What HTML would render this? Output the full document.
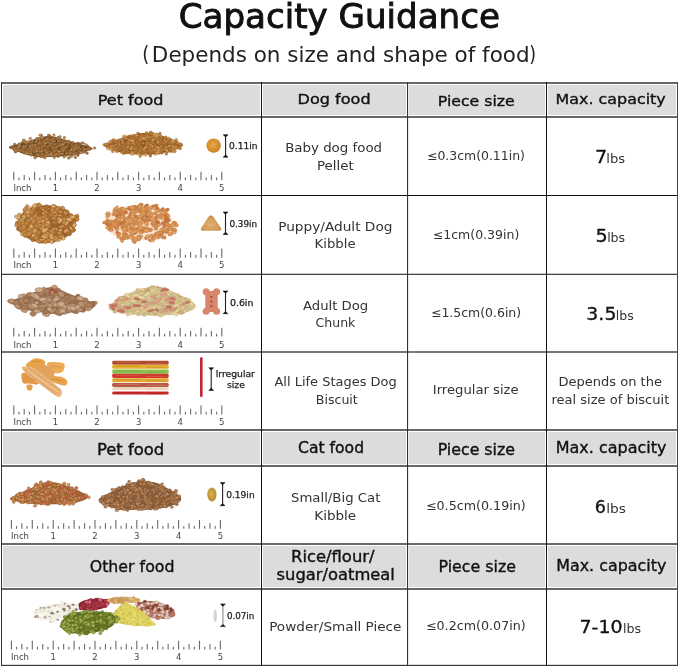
<!DOCTYPE html>
<html><head><meta charset="utf-8"><title>Capacity Guidance</title>
<style>html,body{margin:0;padding:0;background:#fff;width:679px;height:667px;overflow:hidden}svg{display:block}</style>
</head><body>
<svg width="679" height="667" viewBox="0 0 679 667" font-family="'DejaVu Sans', 'Liberation Sans', sans-serif"><rect x="3" y="85" width="257" height="30" fill="#dcdcdc"/>
<rect x="263" y="85" width="143" height="30" fill="#dcdcdc"/>
<rect x="409" y="85" width="136" height="30" fill="#dcdcdc"/>
<rect x="548" y="85" width="128" height="30" fill="#dcdcdc"/>
<rect x="3" y="432" width="257" height="32" fill="#dcdcdc"/>
<rect x="263" y="432" width="143" height="32" fill="#dcdcdc"/>
<rect x="409" y="432" width="136" height="32" fill="#dcdcdc"/>
<rect x="548" y="432" width="128" height="32" fill="#dcdcdc"/>
<rect x="3" y="546" width="257" height="41" fill="#dcdcdc"/>
<rect x="263" y="546" width="143" height="41" fill="#dcdcdc"/>
<rect x="409" y="546" width="136" height="41" fill="#dcdcdc"/>
<rect x="548" y="546" width="128" height="41" fill="#dcdcdc"/>
<rect x="408" y="82" width="1" height="584" fill="#e8e8e8"/>
<rect x="1" y="82" width="677" height="2" fill="#686868"/>
<rect x="1" y="116" width="677" height="2" fill="#686868"/>
<rect x="1" y="429" width="677" height="2" fill="#686868"/>
<rect x="1" y="465" width="677" height="2" fill="#686868"/>
<rect x="1" y="543" width="677" height="2" fill="#686868"/>
<rect x="1" y="588" width="677" height="2" fill="#686868"/>
<rect x="1" y="195" width="677" height="1" fill="#111"/>
<rect x="1" y="273" width="677" height="1" fill="#c8c8c8"/>
<rect x="1" y="274" width="677" height="1" fill="#444"/>
<rect x="1" y="351" width="677" height="2" fill="#777"/>
<rect x="1" y="664" width="677" height="1" fill="#d8d8d8"/>
<rect x="1" y="665" width="677" height="1" fill="#3a3a3a"/>
<rect x="1" y="82" width="1" height="584" fill="#333"/>
<rect x="261" y="82" width="1" height="584" fill="#111"/>
<rect x="407" y="82" width="1" height="584" fill="#333"/>
<rect x="546" y="82" width="1" height="584" fill="#151515"/>
<rect x="677" y="82" width="1" height="584" fill="#444"/>
<text x="178.68" y="27.90" font-size="33.6" fill="#111" stroke="#111" stroke-width="0.9" textLength="321.30" lengthAdjust="spacingAndGlyphs">Capacity Guidance</text>
<text x="142.23" y="61.30" font-size="21" fill="#222" textLength="7.10" lengthAdjust="spacingAndGlyphs">(</text>
<text x="151.85" y="61.60" font-size="21" fill="#222" textLength="377.71" lengthAdjust="spacingAndGlyphs">Depends on size and shape of food</text>
<text x="529.17" y="61.30" font-size="21" fill="#222" textLength="6.83" lengthAdjust="spacingAndGlyphs">)</text>
<text x="97.72" y="105.30" font-size="14.8" fill="#111" stroke="#111" stroke-width="0.35" textLength="65.71" lengthAdjust="spacingAndGlyphs">Pet food</text>
<text x="297.51" y="103.60" font-size="14.8" fill="#111" stroke="#111" stroke-width="0.35" textLength="73.11" lengthAdjust="spacingAndGlyphs">Dog food</text>
<text x="437.74" y="105.60" font-size="14.8" fill="#111" stroke="#111" stroke-width="0.35" textLength="77.07" lengthAdjust="spacingAndGlyphs">Piece size</text>
<text x="555.52" y="104.00" font-size="14.8" fill="#111" stroke="#111" stroke-width="0.35" textLength="110.21" lengthAdjust="spacingAndGlyphs">Max. capacity</text>
<text x="96.91" y="454.60" font-size="15" fill="#111" stroke="#111" stroke-width="0.35" textLength="67.37" lengthAdjust="spacingAndGlyphs">Pet food</text>
<text x="298.10" y="452.60" font-size="15" fill="#111" stroke="#111" stroke-width="0.35" textLength="65.94" lengthAdjust="spacingAndGlyphs">Cat food</text>
<text x="437.65" y="454.70" font-size="15" fill="#111" stroke="#111" stroke-width="0.35" textLength="77.39" lengthAdjust="spacingAndGlyphs">Piece size</text>
<text x="555.73" y="452.90" font-size="15" fill="#111" stroke="#111" stroke-width="0.35" textLength="110.84" lengthAdjust="spacingAndGlyphs">Max. capacity</text>
<text x="89.70" y="571.70" font-size="15.5" fill="#111" stroke="#111" stroke-width="0.35" textLength="84.86" lengthAdjust="spacingAndGlyphs">Other food</text>
<text x="291.02" y="561.90" font-size="15.2" fill="#111" stroke="#111" stroke-width="0.35" textLength="83.53" lengthAdjust="spacingAndGlyphs">Rice/flour/</text>
<text x="276.60" y="579.60" font-size="15.2" fill="#111" stroke="#111" stroke-width="0.35" textLength="118.31" lengthAdjust="spacingAndGlyphs">sugar/oatmeal</text>
<text x="438.48" y="571.80" font-size="15.5" fill="#111" stroke="#111" stroke-width="0.35" textLength="77.57" lengthAdjust="spacingAndGlyphs">Piece size</text>
<text x="556.17" y="570.50" font-size="15.5" fill="#111" stroke="#111" stroke-width="0.35" textLength="110.20" lengthAdjust="spacingAndGlyphs">Max. capacity</text>
<text x="285.17" y="151.70" font-size="13" fill="#333" textLength="96.89" lengthAdjust="spacingAndGlyphs">Baby dog food</text>
<text x="316.97" y="170.30" font-size="13" fill="#333" textLength="36.83" lengthAdjust="spacingAndGlyphs">Pellet</text>
<text x="278.15" y="230.70" font-size="13" fill="#333" textLength="114.32" lengthAdjust="spacingAndGlyphs">Puppy/Adult Dog</text>
<text x="314.58" y="248.30" font-size="13" fill="#333" textLength="41.02" lengthAdjust="spacingAndGlyphs">Kibble</text>
<text x="303.00" y="309.50" font-size="13" fill="#333" textLength="65.26" lengthAdjust="spacingAndGlyphs">Adult Dog</text>
<text x="315.60" y="327.40" font-size="13" fill="#333" textLength="39.75" lengthAdjust="spacingAndGlyphs">Chunk</text>
<text x="274.50" y="386.00" font-size="13" fill="#333" textLength="122.15" lengthAdjust="spacingAndGlyphs">All Life Stages Dog</text>
<text x="315.83" y="404.10" font-size="13" fill="#333" textLength="41.96" lengthAdjust="spacingAndGlyphs">Biscuit</text>
<text x="291.00" y="501.90" font-size="13" fill="#333" textLength="89.40" lengthAdjust="spacingAndGlyphs">Small/Big Cat</text>
<text x="314.26" y="519.80" font-size="13" fill="#333" textLength="41.94" lengthAdjust="spacingAndGlyphs">Kibble</text>
<text x="269.15" y="631.20" font-size="13" fill="#333" textLength="132.24" lengthAdjust="spacingAndGlyphs">Powder/Small Piece</text>
<text x="426.96" y="160.00" font-size="12" fill="#333" textLength="97.94" lengthAdjust="spacingAndGlyphs">≤0.3cm(0.11in)</text>
<text x="432.76" y="238.50" font-size="12" fill="#333" textLength="86.55" lengthAdjust="spacingAndGlyphs">≤1cm(0.39in)</text>
<text x="430.96" y="317.10" font-size="12" fill="#333" textLength="90.15" lengthAdjust="spacingAndGlyphs">≤1.5cm(0.6in)</text>
<text x="432.79" y="393.60" font-size="13" fill="#333" textLength="85.81" lengthAdjust="spacingAndGlyphs">Irregular size</text>
<text x="425.94" y="510.00" font-size="12" fill="#333" textLength="99.78" lengthAdjust="spacingAndGlyphs">≤0.5cm(0.19in)</text>
<text x="425.94" y="630.00" font-size="12" fill="#333" textLength="99.78" lengthAdjust="spacingAndGlyphs">≤0.2cm(0.07in)</text>
<text x="558.50" y="385.70" font-size="13" fill="#333" textLength="103.50" lengthAdjust="spacingAndGlyphs">Depends on the</text>
<text x="551.40" y="404.30" font-size="13" fill="#333" textLength="117.90" lengthAdjust="spacingAndGlyphs">real size of biscuit</text>
<text x="594.93" y="162.80" font-size="18" fill="#111" stroke="#111" stroke-width="0.3" textLength="12.22" lengthAdjust="spacingAndGlyphs">7</text>
<text x="606.39" y="162.80" font-size="13" fill="#333" textLength="18.78" lengthAdjust="spacingAndGlyphs">lbs</text>
<text x="595.63" y="242.00" font-size="18" fill="#111" stroke="#111" stroke-width="0.3" textLength="12.22" lengthAdjust="spacingAndGlyphs">5</text>
<text x="607.13" y="242.00" font-size="13" fill="#333" textLength="18.05" lengthAdjust="spacingAndGlyphs">lbs</text>
<text x="586.35" y="320.30" font-size="18" fill="#111" stroke="#111" stroke-width="0.3" textLength="30.08" lengthAdjust="spacingAndGlyphs">3.5</text>
<text x="615.74" y="320.30" font-size="13" fill="#333" textLength="17.94" lengthAdjust="spacingAndGlyphs">lbs</text>
<text x="594.72" y="512.50" font-size="18" fill="#111" stroke="#111" stroke-width="0.3" textLength="11.22" lengthAdjust="spacingAndGlyphs">6</text>
<text x="606.24" y="512.50" font-size="13" fill="#333" textLength="19.72" lengthAdjust="spacingAndGlyphs">lbs</text>
<text x="579.55" y="632.50" font-size="18" fill="#111" stroke="#111" stroke-width="0.3" textLength="43.03" lengthAdjust="spacingAndGlyphs">7-10</text>
<text x="622.93" y="632.50" font-size="13" fill="#333" textLength="18.15" lengthAdjust="spacingAndGlyphs">lbs</text>
<path d="M13.80 180.20V171.80M19.00 180.20V177.51M24.20 180.20V174.99M29.40 180.20V177.51M34.60 180.20V171.80M39.80 180.20V177.51M45.00 180.20V174.99M50.20 180.20V177.51M55.40 180.20V171.80M60.60 180.20V177.51M65.80 180.20V174.99M71.00 180.20V177.51M76.20 180.20V171.80M81.40 180.20V177.51M86.60 180.20V174.99M91.80 180.20V177.51M97.00 180.20V171.80M102.20 180.20V177.51M107.40 180.20V174.99M112.60 180.20V177.51M117.80 180.20V171.80M123.00 180.20V177.51M128.20 180.20V174.99M133.40 180.20V177.51M138.60 180.20V171.80M143.80 180.20V177.51M149.00 180.20V174.99M154.20 180.20V177.51M159.40 180.20V171.80M164.60 180.20V177.51M169.80 180.20V174.99M175.00 180.20V177.51M180.20 180.20V171.80M185.40 180.20V177.51M190.60 180.20V174.99M195.80 180.20V177.51M201.00 180.20V171.80M206.20 180.20V177.51M211.40 180.20V174.99M216.60 180.20V177.51M221.80 180.20V171.80" stroke="#6a6a6a" stroke-width="1.1" fill="none"/>
<text x="13.40" y="190.80" font-size="8.5" fill="#444" textLength="17.99" lengthAdjust="spacingAndGlyphs">Inch</text>
<text x="52.70" y="190.80" font-size="8.5" fill="#444">1</text>
<text x="94.30" y="190.80" font-size="8.5" fill="#444">2</text>
<text x="135.90" y="190.80" font-size="8.5" fill="#444">3</text>
<text x="177.50" y="190.80" font-size="8.5" fill="#444">4</text>
<text x="219.10" y="190.80" font-size="8.5" fill="#444">5</text>
<path d="M13.80 257.80V248.50M19.00 257.80V254.82M24.20 257.80V252.03M29.40 257.80V254.82M34.60 257.80V248.50M39.80 257.80V254.82M45.00 257.80V252.03M50.20 257.80V254.82M55.40 257.80V248.50M60.60 257.80V254.82M65.80 257.80V252.03M71.00 257.80V254.82M76.20 257.80V248.50M81.40 257.80V254.82M86.60 257.80V252.03M91.80 257.80V254.82M97.00 257.80V248.50M102.20 257.80V254.82M107.40 257.80V252.03M112.60 257.80V254.82M117.80 257.80V248.50M123.00 257.80V254.82M128.20 257.80V252.03M133.40 257.80V254.82M138.60 257.80V248.50M143.80 257.80V254.82M149.00 257.80V252.03M154.20 257.80V254.82M159.40 257.80V248.50M164.60 257.80V254.82M169.80 257.80V252.03M175.00 257.80V254.82M180.20 257.80V248.50M185.40 257.80V254.82M190.60 257.80V252.03M195.80 257.80V254.82M201.00 257.80V248.50M206.20 257.80V254.82M211.40 257.80V252.03M216.60 257.80V254.82M221.80 257.80V248.50" stroke="#6a6a6a" stroke-width="1.1" fill="none"/>
<text x="13.40" y="268.40" font-size="8.5" fill="#444" textLength="17.99" lengthAdjust="spacingAndGlyphs">Inch</text>
<text x="52.70" y="268.40" font-size="8.5" fill="#444">1</text>
<text x="94.30" y="268.40" font-size="8.5" fill="#444">2</text>
<text x="135.90" y="268.40" font-size="8.5" fill="#444">3</text>
<text x="177.50" y="268.40" font-size="8.5" fill="#444">4</text>
<text x="219.10" y="268.40" font-size="8.5" fill="#444">5</text>
<path d="M13.80 336.60V327.70M19.00 336.60V333.75M24.20 336.60V331.08M29.40 336.60V333.75M34.60 336.60V327.70M39.80 336.60V333.75M45.00 336.60V331.08M50.20 336.60V333.75M55.40 336.60V327.70M60.60 336.60V333.75M65.80 336.60V331.08M71.00 336.60V333.75M76.20 336.60V327.70M81.40 336.60V333.75M86.60 336.60V331.08M91.80 336.60V333.75M97.00 336.60V327.70M102.20 336.60V333.75M107.40 336.60V331.08M112.60 336.60V333.75M117.80 336.60V327.70M123.00 336.60V333.75M128.20 336.60V331.08M133.40 336.60V333.75M138.60 336.60V327.70M143.80 336.60V333.75M149.00 336.60V331.08M154.20 336.60V333.75M159.40 336.60V327.70M164.60 336.60V333.75M169.80 336.60V331.08M175.00 336.60V333.75M180.20 336.60V327.70M185.40 336.60V333.75M190.60 336.60V331.08M195.80 336.60V333.75M201.00 336.60V327.70M206.20 336.60V333.75M211.40 336.60V331.08M216.60 336.60V333.75M221.80 336.60V327.70" stroke="#6a6a6a" stroke-width="1.1" fill="none"/>
<text x="13.40" y="347.60" font-size="8.5" fill="#444" textLength="17.99" lengthAdjust="spacingAndGlyphs">Inch</text>
<text x="52.70" y="347.60" font-size="8.5" fill="#444">1</text>
<text x="94.30" y="347.60" font-size="8.5" fill="#444">2</text>
<text x="135.90" y="347.60" font-size="8.5" fill="#444">3</text>
<text x="177.50" y="347.60" font-size="8.5" fill="#444">4</text>
<text x="219.10" y="347.60" font-size="8.5" fill="#444">5</text>
<path d="M13.80 414.60V405.50M19.00 414.60V411.69M24.20 414.60V408.96M29.40 414.60V411.69M34.60 414.60V405.50M39.80 414.60V411.69M45.00 414.60V408.96M50.20 414.60V411.69M55.40 414.60V405.50M60.60 414.60V411.69M65.80 414.60V408.96M71.00 414.60V411.69M76.20 414.60V405.50M81.40 414.60V411.69M86.60 414.60V408.96M91.80 414.60V411.69M97.00 414.60V405.50M102.20 414.60V411.69M107.40 414.60V408.96M112.60 414.60V411.69M117.80 414.60V405.50M123.00 414.60V411.69M128.20 414.60V408.96M133.40 414.60V411.69M138.60 414.60V405.50M143.80 414.60V411.69M149.00 414.60V408.96M154.20 414.60V411.69M159.40 414.60V405.50M164.60 414.60V411.69M169.80 414.60V408.96M175.00 414.60V411.69M180.20 414.60V405.50M185.40 414.60V411.69M190.60 414.60V408.96M195.80 414.60V411.69M201.00 414.60V405.50M206.20 414.60V411.69M211.40 414.60V408.96M216.60 414.60V411.69M221.80 414.60V405.50" stroke="#6a6a6a" stroke-width="1.1" fill="none"/>
<text x="13.40" y="425.20" font-size="8.5" fill="#444" textLength="17.99" lengthAdjust="spacingAndGlyphs">Inch</text>
<text x="52.70" y="425.20" font-size="8.5" fill="#444">1</text>
<text x="94.30" y="425.20" font-size="8.5" fill="#444">2</text>
<text x="135.90" y="425.20" font-size="8.5" fill="#444">3</text>
<text x="177.50" y="425.20" font-size="8.5" fill="#444">4</text>
<text x="219.10" y="425.20" font-size="8.5" fill="#444">5</text>
<path d="M11.40 528.70V519.90M16.62 528.70V525.88M21.85 528.70V523.24M27.07 528.70V525.88M32.30 528.70V519.90M37.52 528.70V525.88M42.75 528.70V523.24M47.97 528.70V525.88M53.20 528.70V519.90M58.42 528.70V525.88M63.65 528.70V523.24M68.88 528.70V525.88M74.10 528.70V519.90M79.33 528.70V525.88M84.55 528.70V523.24M89.78 528.70V525.88M95.00 528.70V519.90M100.22 528.70V525.88M105.45 528.70V523.24M110.67 528.70V525.88M115.90 528.70V519.90M121.12 528.70V525.88M126.35 528.70V523.24M131.57 528.70V525.88M136.80 528.70V519.90M142.03 528.70V525.88M147.25 528.70V523.24M152.47 528.70V525.88M157.70 528.70V519.90M162.92 528.70V525.88M168.15 528.70V523.24M173.38 528.70V525.88M178.60 528.70V519.90M183.82 528.70V525.88M189.05 528.70V523.24M194.28 528.70V525.88M199.50 528.70V519.90M204.72 528.70V525.88M209.95 528.70V523.24M215.17 528.70V525.88M220.40 528.70V519.90" stroke="#6a6a6a" stroke-width="1.1" fill="none"/>
<text x="11.00" y="538.90" font-size="8.5" fill="#444" textLength="17.99" lengthAdjust="spacingAndGlyphs">Inch</text>
<text x="50.50" y="538.90" font-size="8.5" fill="#444">1</text>
<text x="92.30" y="538.90" font-size="8.5" fill="#444">2</text>
<text x="134.10" y="538.90" font-size="8.5" fill="#444">3</text>
<text x="175.90" y="538.90" font-size="8.5" fill="#444">4</text>
<text x="217.70" y="538.90" font-size="8.5" fill="#444">5</text>
<path d="M11.40 649.60V640.70M16.62 649.60V646.75M21.85 649.60V644.08M27.07 649.60V646.75M32.30 649.60V640.70M37.52 649.60V646.75M42.75 649.60V644.08M47.97 649.60V646.75M53.20 649.60V640.70M58.42 649.60V646.75M63.65 649.60V644.08M68.88 649.60V646.75M74.10 649.60V640.70M79.33 649.60V646.75M84.55 649.60V644.08M89.78 649.60V646.75M95.00 649.60V640.70M100.22 649.60V646.75M105.45 649.60V644.08M110.67 649.60V646.75M115.90 649.60V640.70M121.12 649.60V646.75M126.35 649.60V644.08M131.57 649.60V646.75M136.80 649.60V640.70M142.03 649.60V646.75M147.25 649.60V644.08M152.47 649.60V646.75M157.70 649.60V640.70M162.92 649.60V646.75M168.15 649.60V644.08M173.38 649.60V646.75M178.60 649.60V640.70M183.82 649.60V646.75M189.05 649.60V644.08M194.28 649.60V646.75M199.50 649.60V640.70M204.72 649.60V646.75M209.95 649.60V644.08M215.17 649.60V646.75M220.40 649.60V640.70" stroke="#6a6a6a" stroke-width="1.1" fill="none"/>
<text x="11.00" y="660.20" font-size="8.5" fill="#444" textLength="17.99" lengthAdjust="spacingAndGlyphs">Inch</text>
<text x="50.50" y="660.20" font-size="8.5" fill="#444">1</text>
<text x="92.30" y="660.20" font-size="8.5" fill="#444">2</text>
<text x="134.10" y="660.20" font-size="8.5" fill="#444">3</text>
<text x="175.90" y="660.20" font-size="8.5" fill="#444">4</text>
<text x="217.70" y="660.20" font-size="8.5" fill="#444">5</text>
<path d="M225.60 135.70V156.20" stroke="#222" stroke-width="1.1"/>
<path d="M223.20 134.70H228.00L225.60 136.90Z M223.20 157.20H228.00L225.60 155.00Z" fill="#111" stroke="#111" stroke-width="0.6"/>
<text x="229.00" y="149.00" font-size="8.6" fill="#222" stroke="#222" stroke-width="0.25" textLength="28.57" lengthAdjust="spacingAndGlyphs">0.11in</text>
<path d="M225.50 213.00V233.50" stroke="#222" stroke-width="1.1"/>
<path d="M223.10 212.00H227.90L225.50 214.20Z M223.10 234.50H227.90L225.50 232.30Z" fill="#111" stroke="#111" stroke-width="0.6"/>
<text x="229.40" y="226.70" font-size="8.6" fill="#222" stroke="#222" stroke-width="0.25" textLength="27.66" lengthAdjust="spacingAndGlyphs">0.39in</text>
<path d="M225.50 292.00V312.70" stroke="#222" stroke-width="1.1"/>
<path d="M223.10 291.00H227.90L225.50 293.20Z M223.10 313.70H227.90L225.50 311.50Z" fill="#111" stroke="#111" stroke-width="0.6"/>
<text x="229.90" y="305.60" font-size="8.6" fill="#222" stroke="#222" stroke-width="0.25" textLength="23.59" lengthAdjust="spacingAndGlyphs">0.6in</text>
<path d="M211.20 368.80V389.40" stroke="#222" stroke-width="1.1"/>
<path d="M208.80 367.80H213.60L211.20 370.00Z M208.80 390.40H213.60L211.20 388.20Z" fill="#111" stroke="#111" stroke-width="0.6"/>
<text x="215.80" y="377.20" font-size="8.6" fill="#222" stroke="#222" stroke-width="0.25" textLength="39.10" lengthAdjust="spacingAndGlyphs">lrregular</text>
<text x="227.00" y="388.00" font-size="8.6" fill="#222" stroke="#222" stroke-width="0.25" textLength="17.81" lengthAdjust="spacingAndGlyphs">size</text>
<path d="M222.60 483.60V504.70" stroke="#222" stroke-width="1.1"/>
<path d="M220.20 482.60H225.00L222.60 484.80Z M220.20 505.70H225.00L222.60 503.50Z" fill="#111" stroke="#111" stroke-width="0.6"/>
<text x="226.20" y="497.60" font-size="8.6" fill="#222" stroke="#222" stroke-width="0.25" textLength="28.47" lengthAdjust="spacingAndGlyphs">0.19in</text>
<path d="M222.90 605.00V625.60" stroke="#888" stroke-width="1.1"/>
<path d="M220.50 604.00H225.30L222.90 606.20Z M220.50 626.60H225.30L222.90 624.40Z" fill="#111" stroke="#111" stroke-width="0.6"/>
<text x="226.90" y="619.00" font-size="8.6" fill="#222" stroke="#222" stroke-width="0.25" textLength="27.45" lengthAdjust="spacingAndGlyphs">0.07in</text>
<defs><radialGradient id="pel" cx="0.45" cy="0.45" r="0.6"><stop offset="0" stop-color="#e8aa4a"/><stop offset="0.7" stop-color="#d48e2e"/><stop offset="1" stop-color="#b87420"/></radialGradient><radialGradient id="tri" cx="0.5" cy="0.6" r="0.6"><stop offset="0" stop-color="#e0b070"/><stop offset="0.8" stop-color="#d09a58"/><stop offset="1" stop-color="#b88048"/></radialGradient><radialGradient id="ov" cx="0.45" cy="0.45" r="0.6"><stop offset="0" stop-color="#d8b050"/><stop offset="1" stop-color="#b08a30"/></radialGradient></defs>
<g transform="matrix(0.9750 0 0 0.8524 -0.06 21.80)"><path d="M9.5 147.0C10.5 145.8 16.2 144.3 20.0 143.0C23.8 141.7 28.0 140.3 32.0 139.0C36.0 137.7 40.8 135.8 44.0 135.0C47.2 134.2 48.3 133.8 51.0 134.0C53.7 134.2 56.5 135.0 60.0 136.0C63.5 137.0 68.0 138.7 72.0 140.0C76.0 141.3 80.2 142.6 84.0 144.0C87.8 145.4 94.3 147.2 95.0 148.5C95.7 149.8 90.8 150.8 88.0 152.0C85.2 153.2 82.7 155.0 78.0 156.0C73.3 157.0 66.3 157.6 60.0 158.0C53.7 158.4 45.8 159.0 40.0 158.5C34.2 158.0 29.3 156.4 25.0 155.0C20.7 153.6 16.6 151.3 14.0 150.0C11.4 148.7 8.5 148.2 9.5 147.0Z" fill="#6e4a26"/>
<g fill="#a87440" stroke="#5e3e1e" stroke-width="0.3"><circle cx="81" cy="144.6" r="1.5"/><circle cx="28.2" cy="145.3" r="1.3"/><circle cx="45.1" cy="156.4" r="1.6"/><circle cx="54" cy="143.6" r="1.4"/><circle cx="77.7" cy="154" r="1.3"/><circle cx="57.8" cy="137.2" r="1.4"/><circle cx="75.2" cy="147" r="1.2"/><circle cx="56.6" cy="136.6" r="1.2"/><circle cx="40.7" cy="141.2" r="1.4"/><circle cx="60.5" cy="145" r="1.3"/><circle cx="26.5" cy="142.8" r="1.5"/><circle cx="15.7" cy="147.5" r="1.2"/><circle cx="23.6" cy="151.2" r="1.4"/><circle cx="46" cy="157.1" r="1.5"/><circle cx="53.5" cy="138" r="1.5"/><circle cx="54.3" cy="136.2" r="1.3"/><circle cx="92.4" cy="149.1" r="1.6"/><circle cx="19.7" cy="148.7" r="1.4"/><circle cx="58.3" cy="143.4" r="1.3"/><circle cx="59.5" cy="152" r="1.6"/><circle cx="17.9" cy="148.5" r="1.2"/><circle cx="37" cy="156.8" r="1.6"/><circle cx="80" cy="149.8" r="1.5"/><circle cx="71.2" cy="152.4" r="1.3"/><circle cx="67.8" cy="151.5" r="1.3"/><circle cx="63.5" cy="146.9" r="1.2"/><circle cx="55" cy="143.3" r="1.6"/><circle cx="45.9" cy="142.6" r="1.6"/><circle cx="25.7" cy="141.3" r="1.5"/><circle cx="43.9" cy="156.9" r="1.6"/><circle cx="56.5" cy="147.1" r="1.3"/><circle cx="72.3" cy="150.6" r="1.5"/><circle cx="24.8" cy="153.7" r="1.5"/><circle cx="32.4" cy="147.2" r="1.4"/><circle cx="44.4" cy="149.4" r="1.6"/><circle cx="32.5" cy="151.6" r="1.4"/><circle cx="49.8" cy="134.9" r="1.5"/><circle cx="45.6" cy="151.8" r="1.3"/><circle cx="41.7" cy="136.7" r="1.2"/><circle cx="13.3" cy="146.7" r="1.5"/><circle cx="31.1" cy="143.4" r="1.4"/><circle cx="43" cy="138.8" r="1.5"/><circle cx="41.4" cy="144.9" r="1.4"/><circle cx="79.1" cy="148.2" r="1.5"/><circle cx="47.7" cy="146.3" r="1.5"/><circle cx="45.8" cy="157.8" r="1.3"/><circle cx="52.8" cy="142" r="1.6"/><circle cx="62" cy="142.9" r="1.4"/><circle cx="31.7" cy="141.6" r="1.4"/><circle cx="70.8" cy="142.1" r="1.5"/><circle cx="45.4" cy="146.9" r="1.4"/><circle cx="53.6" cy="146.5" r="1.3"/><circle cx="72.1" cy="154.9" r="1.2"/><circle cx="19.7" cy="147.8" r="1.4"/><circle cx="38.7" cy="137" r="1.6"/><circle cx="37.5" cy="143.9" r="1.3"/><circle cx="23.6" cy="150.9" r="1.5"/><circle cx="40.6" cy="139.1" r="1.2"/><circle cx="47.6" cy="141.8" r="1.3"/><circle cx="85.3" cy="149.9" r="1.3"/><circle cx="42.6" cy="154.8" r="1.3"/><circle cx="24.5" cy="138.9" r="1.5"/><circle cx="89.4" cy="154.2" r="1.4"/><circle cx="80.2" cy="142.4" r="1.3"/><circle cx="85.7" cy="142.5" r="1.2"/><circle cx="77.4" cy="159.1" r="1.4"/></g>
<g fill="#b8824a" stroke="#5e3e1e" stroke-width="0.3"><circle cx="51.9" cy="145" r="1.5"/><circle cx="55.8" cy="157" r="1.4"/><circle cx="16.9" cy="150.3" r="1.2"/><circle cx="62.9" cy="142.4" r="1.2"/><circle cx="53" cy="143.3" r="1.3"/><circle cx="42" cy="158.3" r="1.3"/><circle cx="45.5" cy="136.8" r="1.3"/><circle cx="61.8" cy="153.8" r="1.2"/><circle cx="73.7" cy="142.8" r="1.4"/><circle cx="37.6" cy="146.5" r="1.5"/><circle cx="81.4" cy="152.3" r="1.5"/><circle cx="35.1" cy="147.2" r="1.2"/><circle cx="68.6" cy="148.2" r="1.4"/><circle cx="64.7" cy="143" r="1.4"/><circle cx="32.4" cy="156.4" r="1.6"/><circle cx="63.2" cy="148.8" r="1.5"/><circle cx="40" cy="144.3" r="1.2"/><circle cx="34.8" cy="150.5" r="1.5"/><circle cx="71.3" cy="152.1" r="1.5"/><circle cx="69.6" cy="145" r="1.5"/><circle cx="37.7" cy="139.4" r="1.6"/><circle cx="40.4" cy="152.4" r="1.3"/><circle cx="14.2" cy="148.6" r="1.6"/><circle cx="43.7" cy="146.1" r="1.4"/><circle cx="70.6" cy="142.1" r="1.4"/><circle cx="42.8" cy="149.5" r="1.6"/><circle cx="30.5" cy="148.4" r="1.5"/><circle cx="12.9" cy="147" r="1.4"/><circle cx="42.4" cy="151.9" r="1.3"/><circle cx="42.8" cy="141.9" r="1.4"/><circle cx="55" cy="138.1" r="1.3"/><circle cx="54.7" cy="137.3" r="1.5"/><circle cx="36.5" cy="146.1" r="1.3"/><circle cx="37.7" cy="137.4" r="1.3"/><circle cx="43.6" cy="156.9" r="1.5"/><circle cx="57.8" cy="147.1" r="1.4"/><circle cx="80.7" cy="143.9" r="1.6"/><circle cx="91" cy="147.2" r="1.2"/><circle cx="87.2" cy="150" r="1.5"/><circle cx="42.3" cy="154.4" r="1.3"/><circle cx="41.7" cy="146.3" r="1.5"/><circle cx="56" cy="140.1" r="1.4"/><circle cx="56.9" cy="151.1" r="1.5"/><circle cx="42.2" cy="150.7" r="1.4"/><circle cx="71" cy="143.7" r="1.5"/><circle cx="82.5" cy="149.5" r="1.3"/><circle cx="52.6" cy="143.7" r="1.6"/><circle cx="79.5" cy="143.4" r="1.6"/><circle cx="57.6" cy="150.2" r="1.4"/><circle cx="43.6" cy="146.1" r="1.5"/><circle cx="73.3" cy="154.7" r="1.5"/><circle cx="48.7" cy="154.4" r="1.3"/><circle cx="53.3" cy="153.3" r="1.5"/><circle cx="36.5" cy="156.7" r="1.5"/><circle cx="38.1" cy="157.6" r="1.5"/><circle cx="47.5" cy="151.1" r="1.6"/><circle cx="59.9" cy="153.3" r="1.5"/><circle cx="73.8" cy="149.6" r="1.2"/><circle cx="38.9" cy="148.4" r="1.4"/><circle cx="26.8" cy="152.3" r="1.2"/><circle cx="42.2" cy="150.6" r="1.2"/><circle cx="80.6" cy="146" r="1.3"/><circle cx="58" cy="155.4" r="1.5"/><circle cx="23.8" cy="149.8" r="1.3"/><circle cx="25.5" cy="147.1" r="1.6"/><circle cx="29.3" cy="141.1" r="1.4"/><circle cx="41" cy="155.8" r="1.3"/><circle cx="26.2" cy="153.7" r="1.3"/><circle cx="40.3" cy="148.9" r="1.5"/><circle cx="33.6" cy="140.3" r="1.3"/><circle cx="50.6" cy="151.1" r="1.2"/><circle cx="52.9" cy="141.6" r="1.5"/><circle cx="19.7" cy="143.3" r="1.5"/><circle cx="42.8" cy="156.4" r="1.5"/><circle cx="61.7" cy="139.5" r="1.5"/><circle cx="68.6" cy="154.2" r="1.6"/><circle cx="61.2" cy="153.1" r="1.5"/><circle cx="29.5" cy="154.2" r="1.3"/><circle cx="70.6" cy="159.7" r="1.6"/><circle cx="66.1" cy="135.8" r="1.4"/><circle cx="97" cy="148" r="1.4"/><circle cx="73.3" cy="157.9" r="1.4"/><circle cx="84.2" cy="142.1" r="1.3"/></g>
<g fill="#9a6838" stroke="#5e3e1e" stroke-width="0.3"><circle cx="52.9" cy="156.3" r="1.3"/><circle cx="44.9" cy="138.2" r="1.4"/><circle cx="65.6" cy="149.9" r="1.3"/><circle cx="52" cy="136.8" r="1.3"/><circle cx="78.2" cy="150.2" r="1.4"/><circle cx="43.9" cy="140.9" r="1.3"/><circle cx="74.4" cy="148.7" r="1.5"/><circle cx="16.1" cy="147.5" r="1.4"/><circle cx="48.6" cy="140.8" r="1.5"/><circle cx="31.2" cy="145.7" r="1.2"/><circle cx="66.1" cy="140.3" r="1.4"/><circle cx="25.5" cy="153.4" r="1.4"/><circle cx="18.6" cy="146.6" r="1.6"/><circle cx="89" cy="149.7" r="1.3"/><circle cx="38.3" cy="149" r="1.5"/><circle cx="36.2" cy="151" r="1.5"/><circle cx="91.6" cy="148" r="1.3"/><circle cx="70.9" cy="142.6" r="1.4"/><circle cx="80.9" cy="144" r="1.5"/><circle cx="51.6" cy="152.3" r="1.5"/><circle cx="77.8" cy="144.1" r="1.5"/><circle cx="87.6" cy="151.8" r="1.4"/><circle cx="41.9" cy="137.2" r="1.4"/><circle cx="79" cy="145.5" r="1.3"/><circle cx="11.6" cy="146.9" r="1.2"/><circle cx="31.8" cy="143.3" r="1.2"/><circle cx="69.5" cy="147.1" r="1.6"/><circle cx="79.2" cy="150" r="1.3"/><circle cx="52.3" cy="146.9" r="1.3"/><circle cx="76.6" cy="148" r="1.4"/><circle cx="21" cy="146.8" r="1.4"/><circle cx="76.5" cy="151.2" r="1.5"/><circle cx="41.1" cy="141.5" r="1.4"/><circle cx="41" cy="154.8" r="1.5"/><circle cx="71.6" cy="153.9" r="1.6"/><circle cx="55.7" cy="154.1" r="1.4"/><circle cx="81.9" cy="143.4" r="1.4"/><circle cx="79.1" cy="143" r="1.3"/><circle cx="62.8" cy="155.1" r="1.2"/><circle cx="27.8" cy="143" r="1.4"/><circle cx="68.9" cy="147.1" r="1.2"/><circle cx="57.7" cy="146.3" r="1.5"/><circle cx="28.7" cy="150.7" r="1.6"/><circle cx="11.2" cy="147.2" r="1.6"/><circle cx="50" cy="143.9" r="1.2"/><circle cx="28" cy="154.6" r="1.5"/><circle cx="88.8" cy="149.2" r="1.2"/><circle cx="62.2" cy="144.2" r="1.3"/><circle cx="47.2" cy="147.3" r="1.4"/><circle cx="22.7" cy="146.9" r="1.2"/><circle cx="51.9" cy="140.8" r="1.6"/><circle cx="19.2" cy="148.1" r="1.2"/><circle cx="38.3" cy="143" r="1.4"/><circle cx="53" cy="154.1" r="1.6"/><circle cx="14.9" cy="149.5" r="1.5"/><circle cx="44.9" cy="137.1" r="1.4"/><circle cx="59.7" cy="157.9" r="1.4"/><circle cx="42.3" cy="144.7" r="1.5"/><circle cx="70.5" cy="143.3" r="1.4"/><circle cx="73.1" cy="155.5" r="1.2"/><circle cx="47.5" cy="138.2" r="1.3"/><circle cx="36.7" cy="148.8" r="1.4"/><circle cx="78.8" cy="150.2" r="1.4"/><circle cx="83.9" cy="152.3" r="1.5"/><circle cx="26.6" cy="141.2" r="1.4"/><circle cx="54.6" cy="155.3" r="1.5"/><circle cx="85.2" cy="147" r="1.6"/><circle cx="74" cy="143.1" r="1.4"/><circle cx="36.5" cy="157.5" r="1.4"/><circle cx="16.3" cy="149" r="1.3"/><circle cx="65" cy="152" r="1.3"/><circle cx="82.9" cy="153.2" r="1.5"/><circle cx="70.3" cy="153.6" r="1.2"/><circle cx="59.2" cy="145.6" r="1.4"/><circle cx="16.9" cy="149.8" r="1.3"/><circle cx="57.3" cy="137.3" r="1.2"/><circle cx="66.3" cy="156.9" r="1.5"/><circle cx="38.4" cy="154.9" r="1.3"/><circle cx="37.5" cy="141.7" r="1.5"/><circle cx="19.4" cy="144.6" r="1.4"/><circle cx="53.9" cy="145.6" r="1.4"/><circle cx="62" cy="155" r="1.4"/><circle cx="74.5" cy="142" r="1.6"/><circle cx="42.4" cy="153" r="1.2"/><circle cx="22.9" cy="141.7" r="1.4"/><circle cx="60" cy="135.7" r="1.3"/><circle cx="80" cy="156.4" r="1.5"/><circle cx="51.1" cy="133.8" r="1.4"/><circle cx="42.4" cy="133.2" r="1.4"/><circle cx="89.7" cy="145.6" r="1.3"/></g>
<g fill="#c49258" stroke="#5e3e1e" stroke-width="0.3"><circle cx="37.9" cy="151.7" r="1.5"/><circle cx="43.1" cy="154.9" r="1.4"/><circle cx="78.7" cy="146.7" r="1.4"/><circle cx="40.7" cy="147.6" r="1.6"/><circle cx="46.4" cy="157.9" r="1.3"/><circle cx="60" cy="139.3" r="1.6"/><circle cx="58.5" cy="156" r="1.4"/><circle cx="18.4" cy="150.3" r="1.3"/><circle cx="78.9" cy="147.8" r="1.3"/><circle cx="38.9" cy="155.6" r="1.5"/><circle cx="38.6" cy="149.1" r="1.5"/><circle cx="76" cy="155.8" r="1.5"/><circle cx="65.2" cy="149.8" r="1.6"/><circle cx="56.5" cy="147.3" r="1.5"/><circle cx="24.2" cy="145.9" r="1.5"/><circle cx="31.7" cy="154.3" r="1.4"/><circle cx="51.1" cy="138.4" r="1.3"/><circle cx="51.8" cy="145.7" r="1.3"/><circle cx="51.8" cy="143.6" r="1.5"/><circle cx="47.6" cy="156.6" r="1.6"/><circle cx="26.6" cy="141.6" r="1.5"/><circle cx="76.5" cy="150.7" r="1.4"/><circle cx="63.3" cy="144" r="1.5"/><circle cx="52.9" cy="157.2" r="1.5"/><circle cx="86.4" cy="149.3" r="1.3"/><circle cx="48.8" cy="138" r="1.5"/><circle cx="70.9" cy="141.5" r="1.2"/><circle cx="33.8" cy="147.4" r="1.4"/><circle cx="77.7" cy="155" r="1.3"/><circle cx="73.2" cy="150.8" r="1.5"/><circle cx="86.1" cy="152.7" r="1.6"/><circle cx="59.4" cy="136.6" r="1.5"/><circle cx="50.5" cy="156.4" r="1.6"/><circle cx="57.6" cy="156.2" r="1.3"/><circle cx="51.7" cy="156" r="1.3"/><circle cx="67.3" cy="147.3" r="1.6"/><circle cx="53.8" cy="148.8" r="1.4"/><circle cx="45.8" cy="150.2" r="1.2"/><circle cx="63.9" cy="154.9" r="1.5"/><circle cx="48.5" cy="136.9" r="1.3"/><circle cx="45.5" cy="140.7" r="1.3"/><circle cx="27.9" cy="154.3" r="1.6"/><circle cx="31.2" cy="145.8" r="1.6"/><circle cx="65" cy="138.6" r="1.2"/><circle cx="76.7" cy="150.6" r="1.2"/><circle cx="20.1" cy="145" r="1.5"/><circle cx="29" cy="140.7" r="1.5"/><circle cx="55.1" cy="148.9" r="1.3"/><circle cx="32.6" cy="145.8" r="1.3"/><circle cx="17.3" cy="148.1" r="1.5"/><circle cx="40.7" cy="141.2" r="1.3"/><circle cx="41.9" cy="147.8" r="1.6"/><circle cx="67.6" cy="140.8" r="1.3"/><circle cx="19.2" cy="146.6" r="1.4"/><circle cx="76.6" cy="145.3" r="1.4"/><circle cx="65.2" cy="150.2" r="1.6"/><circle cx="24.5" cy="148.3" r="1.4"/><circle cx="65.4" cy="147.2" r="1.3"/><circle cx="70" cy="141.8" r="1.4"/><circle cx="78" cy="147.2" r="1.3"/><circle cx="70.7" cy="139.9" r="1.3"/><circle cx="22.6" cy="150.3" r="1.2"/><circle cx="67" cy="147.4" r="1.6"/><circle cx="34.4" cy="146.6" r="1.3"/><circle cx="52.5" cy="155" r="1.6"/><circle cx="64.7" cy="143.7" r="1.6"/><circle cx="83.5" cy="153.3" r="1.5"/><circle cx="48.7" cy="153.1" r="1.3"/><circle cx="88.6" cy="149.6" r="1.2"/><circle cx="54.7" cy="139.1" r="1.3"/><circle cx="68" cy="141.3" r="1.6"/><circle cx="65.9" cy="148.2" r="1.4"/><circle cx="80.2" cy="148.3" r="1.3"/><circle cx="57.7" cy="147.5" r="1.4"/><circle cx="60.8" cy="152.1" r="1.6"/><circle cx="31.4" cy="147.3" r="1.2"/><circle cx="73.6" cy="149.7" r="1.3"/><circle cx="46.9" cy="142.4" r="1.5"/><circle cx="76.6" cy="149" r="1.4"/><circle cx="43" cy="135.5" r="1.6"/><circle cx="61.2" cy="136.8" r="1.2"/><circle cx="36" cy="144.5" r="1.4"/><circle cx="60.8" cy="155.2" r="1.5"/><circle cx="56.7" cy="156.1" r="1.5"/><circle cx="61.2" cy="155.8" r="1.4"/><circle cx="74.3" cy="142.7" r="1.3"/><circle cx="14.6" cy="150" r="1.4"/><circle cx="54.8" cy="139.7" r="1.5"/><circle cx="62.4" cy="144.8" r="1.5"/><circle cx="42.7" cy="152.3" r="1.3"/><circle cx="37" cy="140.9" r="1.2"/><circle cx="36.8" cy="148.5" r="1.4"/><circle cx="40.2" cy="148.7" r="1.6"/><circle cx="55.7" cy="159.5" r="1.3"/><circle cx="65.8" cy="158.6" r="1.4"/><circle cx="61.6" cy="134.8" r="1.4"/><circle cx="31.1" cy="137" r="1.5"/><circle cx="35.9" cy="159.7" r="1.4"/><circle cx="24.9" cy="139.7" r="1.5"/><circle cx="46" cy="159.5" r="1.5"/><circle cx="41.3" cy="133" r="1.5"/><circle cx="55.5" cy="132.7" r="1.3"/><circle cx="88.3" cy="144.3" r="1.4"/></g>
<g fill="#b07a44" stroke="#5e3e1e" stroke-width="0.3"><circle cx="69" cy="140.5" r="1.5"/><circle cx="54.6" cy="152.7" r="1.6"/><circle cx="59.7" cy="155.6" r="1.5"/><circle cx="49.6" cy="141.6" r="1.5"/><circle cx="60.2" cy="143.6" r="1.3"/><circle cx="56.4" cy="143.9" r="1.3"/><circle cx="39.7" cy="156.3" r="1.5"/><circle cx="76.5" cy="154.1" r="1.6"/><circle cx="51" cy="142.7" r="1.3"/><circle cx="55.7" cy="153.3" r="1.3"/><circle cx="24.7" cy="148.3" r="1.5"/><circle cx="45.5" cy="138.6" r="1.2"/><circle cx="22" cy="151.6" r="1.3"/><circle cx="67.5" cy="147.3" r="1.3"/><circle cx="48" cy="146.8" r="1.2"/><circle cx="27.7" cy="150.5" r="1.5"/><circle cx="76.2" cy="151.5" r="1.4"/><circle cx="46.7" cy="157.6" r="1.5"/><circle cx="60.9" cy="145.2" r="1.3"/><circle cx="56.1" cy="151.7" r="1.5"/><circle cx="43.5" cy="156.3" r="1.4"/><circle cx="66" cy="140.8" r="1.4"/><circle cx="77.1" cy="153.8" r="1.6"/><circle cx="78.4" cy="144.7" r="1.5"/><circle cx="42.2" cy="147.6" r="1.6"/><circle cx="42.8" cy="144.4" r="1.4"/><circle cx="76.4" cy="154.7" r="1.5"/><circle cx="50.9" cy="145.4" r="1.2"/><circle cx="63.9" cy="140.8" r="1.3"/><circle cx="80.5" cy="146.8" r="1.3"/><circle cx="34.9" cy="152" r="1.6"/><circle cx="32.6" cy="148.9" r="1.3"/><circle cx="43.7" cy="145.8" r="1.3"/><circle cx="72.1" cy="155.3" r="1.4"/><circle cx="67.9" cy="146.1" r="1.4"/><circle cx="47.3" cy="150.2" r="1.3"/><circle cx="39.4" cy="148.8" r="1.4"/><circle cx="56.3" cy="147.2" r="1.5"/><circle cx="45.8" cy="150.2" r="1.5"/><circle cx="52.5" cy="139" r="1.6"/><circle cx="54.3" cy="147.7" r="1.5"/><circle cx="36.8" cy="140.7" r="1.5"/><circle cx="89.8" cy="149.2" r="1.5"/><circle cx="81.2" cy="146.5" r="1.4"/><circle cx="44" cy="155.6" r="1.5"/><circle cx="58.4" cy="147.5" r="1.4"/><circle cx="35.3" cy="146.4" r="1.4"/><circle cx="42.5" cy="156.2" r="1.3"/><circle cx="31.5" cy="152.2" r="1.6"/><circle cx="34.2" cy="146.1" r="1.6"/><circle cx="24.6" cy="152.6" r="1.5"/><circle cx="85.4" cy="151.1" r="1.3"/><circle cx="63.6" cy="147.5" r="1.2"/><circle cx="40.5" cy="147.6" r="1.5"/><circle cx="35.8" cy="150.7" r="1.3"/><circle cx="32.6" cy="150.3" r="1.5"/><circle cx="78.9" cy="154.4" r="1.4"/><circle cx="52.9" cy="142.7" r="1.3"/><circle cx="47.2" cy="151.1" r="1.5"/><circle cx="86" cy="152.6" r="1.2"/><circle cx="63.7" cy="152" r="1.6"/><circle cx="66.1" cy="142.4" r="1.3"/><circle cx="53.6" cy="138.7" r="1.4"/><circle cx="19.7" cy="149.8" r="1.4"/><circle cx="33.3" cy="144.2" r="1.4"/><circle cx="58" cy="154.7" r="1.5"/><circle cx="28.7" cy="151.4" r="1.3"/><circle cx="32.4" cy="149.6" r="1.5"/><circle cx="73.9" cy="146" r="1.4"/><circle cx="91.3" cy="148.6" r="1.3"/><circle cx="42.4" cy="142.8" r="1.3"/><circle cx="49.6" cy="148.3" r="1.2"/><circle cx="43.4" cy="158.3" r="1.5"/><circle cx="73.5" cy="153.5" r="1.4"/><circle cx="42.9" cy="146.7" r="1.2"/><circle cx="59.3" cy="145.9" r="1.5"/><circle cx="40.4" cy="137.6" r="1.4"/><circle cx="74" cy="143.7" r="1.3"/><circle cx="23.5" cy="147.6" r="1.5"/><circle cx="26.2" cy="146.6" r="1.4"/><circle cx="61.1" cy="138.1" r="1.3"/><circle cx="35.3" cy="152.7" r="1.4"/><circle cx="76.4" cy="145.2" r="1.3"/><circle cx="20.5" cy="150.9" r="1.6"/><circle cx="64.6" cy="150.9" r="1.5"/><circle cx="46.8" cy="153.2" r="1.2"/><circle cx="74.9" cy="142" r="1.3"/><circle cx="15.9" cy="148" r="1.4"/><circle cx="40" cy="150" r="1.4"/><circle cx="39.6" cy="143.7" r="1.4"/><circle cx="57.6" cy="146.2" r="1.2"/><circle cx="71.4" cy="154.4" r="1.4"/><circle cx="71.6" cy="154.1" r="1.4"/><circle cx="40.6" cy="142.3" r="1.5"/><circle cx="51.4" cy="134.2" r="1.3"/><circle cx="37.7" cy="138.4" r="1.6"/><circle cx="48.7" cy="147.5" r="1.3"/><circle cx="47.4" cy="138.5" r="1.4"/><circle cx="49.3" cy="146.4" r="1.3"/><circle cx="45.9" cy="145.1" r="1.6"/><circle cx="70.8" cy="141.4" r="1.5"/><circle cx="51.3" cy="144.9" r="1.4"/><circle cx="67.4" cy="156.9" r="1.3"/><circle cx="60.3" cy="140" r="1.5"/><circle cx="15" cy="143.6" r="1.3"/><circle cx="16.1" cy="152.5" r="1.6"/><circle cx="49.7" cy="132.8" r="1.2"/><circle cx="16.3" cy="151.5" r="1.6"/></g></g>
<g transform="matrix(0.9901 0 0 0.8904 1.81 15.92)"><path d="M103.0 145.0C103.3 143.5 108.5 142.5 112.0 141.0C115.5 139.5 120.0 137.4 124.0 136.0C128.0 134.6 132.3 133.2 136.0 132.5C139.7 131.8 142.7 131.5 146.0 131.5C149.3 131.5 152.3 131.6 156.0 132.5C159.7 133.4 164.3 135.4 168.0 137.0C171.7 138.6 175.5 140.6 178.0 142.0C180.5 143.4 183.5 144.2 183.0 145.5C182.5 146.8 177.8 148.7 175.0 150.0C172.2 151.3 171.0 152.5 166.0 153.5C161.0 154.5 152.0 155.9 145.0 156.0C138.0 156.1 129.8 155.0 124.0 154.0C118.2 153.0 113.5 151.5 110.0 150.0C106.5 148.5 102.7 146.5 103.0 145.0Z" fill="#8e5a28"/>
<g fill="#cc8c42" stroke="#7a4e20" stroke-width="0.3"><circle cx="146.5" cy="142.4" r="1.3"/><circle cx="161.1" cy="153.7" r="1.3"/><circle cx="131.8" cy="137.6" r="1.2"/><circle cx="150.2" cy="151" r="1.3"/><circle cx="110.5" cy="148.3" r="1.5"/><circle cx="123.7" cy="146.3" r="1.4"/><circle cx="110.7" cy="147.1" r="1.4"/><circle cx="167.2" cy="140.5" r="1.4"/><circle cx="127.7" cy="152.9" r="1.4"/><circle cx="127.5" cy="152.1" r="1.5"/><circle cx="146.9" cy="148.5" r="1.5"/><circle cx="117.1" cy="144.9" r="1.5"/><circle cx="159.9" cy="153.1" r="1.5"/><circle cx="161.4" cy="146.4" r="1.6"/><circle cx="144.1" cy="135.8" r="1.5"/><circle cx="131" cy="153.7" r="1.4"/><circle cx="139.7" cy="153" r="1.4"/><circle cx="147.9" cy="144.3" r="1.2"/><circle cx="133.3" cy="140.4" r="1.3"/><circle cx="139.4" cy="141.6" r="1.4"/><circle cx="173.3" cy="142.6" r="1.4"/><circle cx="178" cy="148.2" r="1.6"/><circle cx="146.2" cy="137.5" r="1.4"/><circle cx="121.3" cy="148.7" r="1.5"/><circle cx="158.5" cy="154" r="1.5"/><circle cx="145.8" cy="151.7" r="1.2"/><circle cx="166.4" cy="147.8" r="1.5"/><circle cx="159.6" cy="141.3" r="1.4"/><circle cx="105.7" cy="144" r="1.3"/><circle cx="130.2" cy="154.1" r="1.4"/><circle cx="156.9" cy="138.7" r="1.6"/><circle cx="147" cy="134" r="1.5"/><circle cx="143" cy="138.4" r="1.5"/><circle cx="152.7" cy="132.2" r="1.3"/><circle cx="156.6" cy="147.9" r="1.4"/><circle cx="176.5" cy="142.4" r="1.2"/><circle cx="130.6" cy="138.9" r="1.3"/><circle cx="171.3" cy="140.1" r="1.3"/><circle cx="136.9" cy="149.7" r="1.3"/><circle cx="163.2" cy="139.8" r="1.3"/><circle cx="156.4" cy="136.6" r="1.5"/><circle cx="130.6" cy="136" r="1.6"/><circle cx="139.5" cy="139.2" r="1.2"/><circle cx="131.3" cy="137.4" r="1.4"/><circle cx="157.3" cy="136.9" r="1.5"/><circle cx="179.7" cy="144" r="1.5"/><circle cx="138.6" cy="148" r="1.6"/><circle cx="158" cy="139.6" r="1.5"/><circle cx="149.9" cy="154.3" r="1.6"/><circle cx="157.4" cy="135.8" r="1.6"/><circle cx="158.4" cy="136.6" r="1.4"/><circle cx="148.1" cy="146" r="1.5"/><circle cx="109.9" cy="148.2" r="1.2"/><circle cx="116.2" cy="148.4" r="1.5"/><circle cx="149.6" cy="132.3" r="1.5"/><circle cx="171.1" cy="144.2" r="1.2"/><circle cx="149.9" cy="154.9" r="1.5"/><circle cx="157.7" cy="141.3" r="1.3"/><circle cx="170.9" cy="149.9" r="1.5"/><circle cx="151.7" cy="140.1" r="1.3"/><circle cx="175.9" cy="142.9" r="1.5"/><circle cx="160.1" cy="138.7" r="1.6"/><circle cx="174.1" cy="145.9" r="1.2"/><circle cx="125.9" cy="144.5" r="1.5"/><circle cx="174.9" cy="140.4" r="1.4"/><circle cx="103.6" cy="144.8" r="1.6"/><circle cx="145.4" cy="148.2" r="1.4"/><circle cx="154" cy="134" r="1.2"/><circle cx="149.6" cy="154.4" r="1.4"/><circle cx="136.3" cy="141.3" r="1.5"/><circle cx="142.6" cy="139" r="1.3"/><circle cx="168.6" cy="149.3" r="1.3"/><circle cx="141.7" cy="149.4" r="1.3"/><circle cx="123" cy="138.2" r="1.2"/><circle cx="156.9" cy="140" r="1.3"/><circle cx="127.3" cy="141.5" r="1.4"/><circle cx="111.3" cy="149.9" r="1.4"/><circle cx="146.4" cy="131.3" r="1.5"/><circle cx="174.8" cy="152.3" r="1.4"/><circle cx="150.6" cy="130.8" r="1.6"/><circle cx="112.7" cy="139.9" r="1.2"/><circle cx="121.3" cy="153.2" r="1.5"/></g>
<g fill="#d89c52" stroke="#7a4e20" stroke-width="0.3"><circle cx="123.1" cy="136.7" r="1.2"/><circle cx="136.9" cy="153.2" r="1.3"/><circle cx="141.9" cy="136.9" r="1.3"/><circle cx="107.7" cy="147.5" r="1.3"/><circle cx="157.6" cy="153.9" r="1.5"/><circle cx="123.5" cy="151.4" r="1.3"/><circle cx="172" cy="148.8" r="1.4"/><circle cx="156.6" cy="137.7" r="1.3"/><circle cx="135.7" cy="134.2" r="1.5"/><circle cx="139.3" cy="144.6" r="1.4"/><circle cx="123.6" cy="153.4" r="1.4"/><circle cx="160.5" cy="151.3" r="1.4"/><circle cx="160.1" cy="153.8" r="1.2"/><circle cx="123.4" cy="146.8" r="1.5"/><circle cx="144.4" cy="154.1" r="1.4"/><circle cx="139.9" cy="134.8" r="1.5"/><circle cx="136.6" cy="137.6" r="1.3"/><circle cx="154.8" cy="146.5" r="1.5"/><circle cx="171.1" cy="142" r="1.5"/><circle cx="122.3" cy="143.3" r="1.4"/><circle cx="144.8" cy="148.2" r="1.6"/><circle cx="175.3" cy="149.1" r="1.4"/><circle cx="143.9" cy="151.9" r="1.3"/><circle cx="105.4" cy="145" r="1.3"/><circle cx="124" cy="149.2" r="1.4"/><circle cx="169.8" cy="146.2" r="1.2"/><circle cx="145" cy="154.1" r="1.3"/><circle cx="173.8" cy="148.2" r="1.3"/><circle cx="154.6" cy="143.6" r="1.5"/><circle cx="152.3" cy="141.1" r="1.4"/><circle cx="134.3" cy="143.1" r="1.4"/><circle cx="149.5" cy="148.8" r="1.5"/><circle cx="109.9" cy="147.9" r="1.4"/><circle cx="143.5" cy="150.4" r="1.4"/><circle cx="180.5" cy="145.4" r="1.6"/><circle cx="154.8" cy="135.5" r="1.4"/><circle cx="140.6" cy="136.1" r="1.4"/><circle cx="176.1" cy="145.1" r="1.3"/><circle cx="132.4" cy="140.4" r="1.3"/><circle cx="164.4" cy="149.6" r="1.5"/><circle cx="152.2" cy="150.9" r="1.3"/><circle cx="152.7" cy="142.7" r="1.5"/><circle cx="158.7" cy="142.8" r="1.2"/><circle cx="141.5" cy="138.7" r="1.2"/><circle cx="165.1" cy="148.1" r="1.6"/><circle cx="157" cy="133.3" r="1.6"/><circle cx="136.8" cy="148.4" r="1.5"/><circle cx="146.3" cy="144.3" r="1.3"/><circle cx="132.6" cy="134.1" r="1.3"/><circle cx="174.1" cy="143.9" r="1.6"/><circle cx="134.3" cy="150.2" r="1.3"/><circle cx="161.2" cy="150.9" r="1.6"/><circle cx="113.8" cy="148.5" r="1.3"/><circle cx="145.5" cy="135.2" r="1.2"/><circle cx="134" cy="153.6" r="1.5"/><circle cx="111.2" cy="145.8" r="1.2"/><circle cx="154.8" cy="147" r="1.4"/><circle cx="117.9" cy="146.3" r="1.6"/><circle cx="133.1" cy="143.2" r="1.4"/><circle cx="138.4" cy="143.8" r="1.3"/><circle cx="163.2" cy="149.7" r="1.3"/><circle cx="140.4" cy="147.3" r="1.4"/><circle cx="151.8" cy="135.5" r="1.4"/><circle cx="124.3" cy="151.6" r="1.6"/><circle cx="110.9" cy="142.8" r="1.5"/><circle cx="128.9" cy="146.2" r="1.4"/><circle cx="160.9" cy="135.9" r="1.5"/><circle cx="145.6" cy="147" r="1.6"/><circle cx="155.6" cy="150.6" r="1.4"/><circle cx="122.9" cy="147.6" r="1.4"/><circle cx="153.7" cy="132.7" r="1.2"/><circle cx="139.2" cy="143.9" r="1.3"/><circle cx="165.7" cy="141.3" r="1.6"/><circle cx="150.7" cy="144.2" r="1.3"/><circle cx="137.6" cy="144.8" r="1.5"/><circle cx="165.1" cy="139.1" r="1.4"/><circle cx="150.4" cy="138.9" r="1.4"/><circle cx="175.4" cy="140.8" r="1.5"/><circle cx="114.8" cy="145.1" r="1.3"/><circle cx="122.4" cy="141.5" r="1.4"/><circle cx="142.9" cy="143.1" r="1.2"/><circle cx="139.7" cy="150.8" r="1.4"/><circle cx="176.1" cy="144.5" r="1.3"/><circle cx="159.2" cy="134.3" r="1.2"/><circle cx="144.9" cy="138.5" r="1.3"/><circle cx="127.3" cy="143.5" r="1.6"/><circle cx="154.4" cy="152.2" r="1.6"/><circle cx="110.4" cy="146.6" r="1.5"/><circle cx="168.1" cy="139.1" r="1.5"/><circle cx="150.2" cy="138.1" r="1.6"/><circle cx="161.6" cy="149.3" r="1.5"/><circle cx="155.7" cy="133.4" r="1.6"/><circle cx="155.6" cy="137.4" r="1.5"/><circle cx="181.1" cy="144.1" r="1.4"/><circle cx="141.8" cy="155.8" r="1.2"/><circle cx="113" cy="139" r="1.4"/><circle cx="170.5" cy="152.4" r="1.2"/></g>
<g fill="#c48240" stroke="#7a4e20" stroke-width="0.3"><circle cx="169.8" cy="149.5" r="1.5"/><circle cx="167.3" cy="152.6" r="1.4"/><circle cx="132.3" cy="148.3" r="1.6"/><circle cx="136.8" cy="149.1" r="1.2"/><circle cx="165.5" cy="143.4" r="1.3"/><circle cx="151.8" cy="138.6" r="1.6"/><circle cx="165.2" cy="149.2" r="1.4"/><circle cx="126.7" cy="137.2" r="1.4"/><circle cx="149.9" cy="151.5" r="1.2"/><circle cx="157.5" cy="151.3" r="1.2"/><circle cx="134.2" cy="148.9" r="1.6"/><circle cx="159.4" cy="143.1" r="1.6"/><circle cx="134.2" cy="145.2" r="1.5"/><circle cx="114" cy="146.5" r="1.4"/><circle cx="163.4" cy="143.4" r="1.5"/><circle cx="107.3" cy="143.7" r="1.6"/><circle cx="154.9" cy="143.4" r="1.4"/><circle cx="129.8" cy="140.4" r="1.4"/><circle cx="118.2" cy="148.1" r="1.3"/><circle cx="124.5" cy="145" r="1.4"/><circle cx="162.4" cy="149.9" r="1.5"/><circle cx="145.6" cy="147.1" r="1.2"/><circle cx="134.6" cy="135.8" r="1.6"/><circle cx="138.3" cy="133.6" r="1.6"/><circle cx="159.6" cy="149.3" r="1.2"/><circle cx="134.4" cy="142.7" r="1.5"/><circle cx="130.3" cy="135" r="1.3"/><circle cx="124.8" cy="144.4" r="1.4"/><circle cx="140.1" cy="138.6" r="1.3"/><circle cx="126.8" cy="152.6" r="1.5"/><circle cx="118.4" cy="143" r="1.4"/><circle cx="118.8" cy="139.2" r="1.3"/><circle cx="160.7" cy="147" r="1.4"/><circle cx="151.7" cy="140" r="1.5"/><circle cx="143.7" cy="155.2" r="1.2"/><circle cx="106.6" cy="146" r="1.6"/><circle cx="180.8" cy="144.9" r="1.4"/><circle cx="152.3" cy="150.3" r="1.5"/><circle cx="159.7" cy="149.2" r="1.3"/><circle cx="175.9" cy="145.5" r="1.4"/><circle cx="128.8" cy="139.3" r="1.4"/><circle cx="148.5" cy="149.3" r="1.4"/><circle cx="121" cy="145.9" r="1.3"/><circle cx="124.8" cy="146.6" r="1.2"/><circle cx="146" cy="153.8" r="1.6"/><circle cx="131.2" cy="152.2" r="1.3"/><circle cx="148.7" cy="150.6" r="1.3"/><circle cx="114.6" cy="150.3" r="1.5"/><circle cx="134.5" cy="145.3" r="1.5"/><circle cx="137.7" cy="136.2" r="1.5"/><circle cx="139.5" cy="150" r="1.2"/><circle cx="148.9" cy="151.7" r="1.4"/><circle cx="165.6" cy="136.3" r="1.3"/><circle cx="161.6" cy="153.7" r="1.2"/><circle cx="160.3" cy="144.8" r="1.2"/><circle cx="148.2" cy="147.5" r="1.3"/><circle cx="141" cy="147.6" r="1.4"/><circle cx="137.6" cy="136.4" r="1.3"/><circle cx="138" cy="137.6" r="1.3"/><circle cx="160.1" cy="144.2" r="1.4"/><circle cx="168.4" cy="139.6" r="1.2"/><circle cx="142.2" cy="134.3" r="1.4"/><circle cx="144.3" cy="134.1" r="1.5"/><circle cx="125.5" cy="150.1" r="1.6"/><circle cx="174" cy="145" r="1.3"/><circle cx="151.5" cy="133.5" r="1.3"/><circle cx="133" cy="138.1" r="1.3"/><circle cx="117.7" cy="150.7" r="1.4"/><circle cx="154.2" cy="142.8" r="1.4"/><circle cx="105.2" cy="144.5" r="1.6"/><circle cx="139.3" cy="148.5" r="1.4"/><circle cx="118.5" cy="140.2" r="1.4"/><circle cx="176" cy="142.4" r="1.5"/><circle cx="138.8" cy="139.1" r="1.4"/><circle cx="173.2" cy="149.8" r="1.3"/><circle cx="165.5" cy="136.5" r="1.6"/><circle cx="126" cy="135.4" r="1.2"/><circle cx="135" cy="137.7" r="1.5"/><circle cx="139.5" cy="133.5" r="1.6"/><circle cx="131" cy="139.3" r="1.6"/><circle cx="154.1" cy="144.4" r="1.5"/><circle cx="168.4" cy="142.6" r="1.3"/><circle cx="164.4" cy="138.8" r="1.5"/><circle cx="175.2" cy="145.2" r="1.6"/><circle cx="166.8" cy="150.5" r="1.6"/><circle cx="169.8" cy="138.5" r="1.5"/><circle cx="150.3" cy="131.6" r="1.6"/><circle cx="150" cy="157.3" r="1.4"/><circle cx="139.7" cy="157.9" r="1.3"/><circle cx="112" cy="152.6" r="1.2"/><circle cx="176.3" cy="140.5" r="1.6"/><circle cx="180.2" cy="148.9" r="1.5"/><circle cx="166.2" cy="155.2" r="1.4"/></g>
<g fill="#e0a860" stroke="#7a4e20" stroke-width="0.3"><circle cx="172.7" cy="140.4" r="1.6"/><circle cx="157" cy="136" r="1.6"/><circle cx="169.5" cy="140.2" r="1.6"/><circle cx="131.1" cy="149.3" r="1.4"/><circle cx="173.1" cy="146.6" r="1.5"/><circle cx="153.2" cy="149.8" r="1.3"/><circle cx="164.3" cy="149.6" r="1.6"/><circle cx="166.3" cy="146.8" r="1.3"/><circle cx="125.3" cy="149.9" r="1.3"/><circle cx="132.8" cy="154.4" r="1.2"/><circle cx="118.4" cy="145.5" r="1.4"/><circle cx="112.8" cy="146.6" r="1.3"/><circle cx="133" cy="143.4" r="1.5"/><circle cx="165.6" cy="145.5" r="1.3"/><circle cx="124.9" cy="137.7" r="1.5"/><circle cx="145.6" cy="136.1" r="1.5"/><circle cx="152.1" cy="140" r="1.5"/><circle cx="148.1" cy="136.5" r="1.5"/><circle cx="127.3" cy="147.3" r="1.5"/><circle cx="153.3" cy="139" r="1.3"/><circle cx="131.7" cy="154" r="1.6"/><circle cx="169" cy="146.1" r="1.4"/><circle cx="154" cy="135.2" r="1.3"/><circle cx="150.8" cy="145.9" r="1.4"/><circle cx="156.6" cy="133.8" r="1.6"/><circle cx="152.3" cy="146.8" r="1.3"/><circle cx="166.8" cy="151.4" r="1.4"/><circle cx="158.5" cy="150.8" r="1.4"/><circle cx="152" cy="146.6" r="1.4"/><circle cx="148.9" cy="136.7" r="1.3"/><circle cx="161.6" cy="151.7" r="1.2"/><circle cx="132.2" cy="140.3" r="1.6"/><circle cx="145" cy="155.9" r="1.6"/><circle cx="115.1" cy="141.6" r="1.5"/><circle cx="131.3" cy="147" r="1.2"/><circle cx="111.8" cy="148.3" r="1.3"/><circle cx="112.4" cy="146.2" r="1.4"/><circle cx="110.2" cy="149.7" r="1.5"/><circle cx="156.2" cy="147.4" r="1.4"/><circle cx="155.1" cy="146.5" r="1.2"/><circle cx="129.2" cy="139.7" r="1.5"/><circle cx="150" cy="144" r="1.3"/><circle cx="161.1" cy="146.4" r="1.3"/><circle cx="148.7" cy="143.1" r="1.2"/><circle cx="117.1" cy="151.2" r="1.6"/><circle cx="175.8" cy="147.2" r="1.3"/><circle cx="136.4" cy="134.6" r="1.4"/><circle cx="171.9" cy="150" r="1.3"/><circle cx="143.2" cy="137.3" r="1.4"/><circle cx="148" cy="143.7" r="1.5"/><circle cx="155.2" cy="136" r="1.5"/><circle cx="156.4" cy="153.7" r="1.5"/><circle cx="139.1" cy="138.9" r="1.6"/><circle cx="125.1" cy="148.7" r="1.4"/><circle cx="123.3" cy="150.2" r="1.3"/><circle cx="157.8" cy="153.1" r="1.5"/><circle cx="145.3" cy="147.4" r="1.4"/><circle cx="151.9" cy="146.4" r="1.5"/><circle cx="130.4" cy="149.2" r="1.5"/><circle cx="139.2" cy="152.2" r="1.3"/><circle cx="136.7" cy="141.6" r="1.2"/><circle cx="137.2" cy="137.3" r="1.6"/><circle cx="153.9" cy="136.6" r="1.4"/><circle cx="121.3" cy="138.9" r="1.4"/><circle cx="178.2" cy="142.7" r="1.2"/><circle cx="154" cy="133.3" r="1.5"/><circle cx="137.7" cy="155.2" r="1.2"/><circle cx="118.6" cy="145.4" r="1.3"/><circle cx="157.9" cy="147.7" r="1.4"/><circle cx="135.1" cy="151.5" r="1.3"/><circle cx="158" cy="142.2" r="1.4"/><circle cx="168.6" cy="137.3" r="1.3"/><circle cx="137.6" cy="137.1" r="1.3"/><circle cx="154.6" cy="144.6" r="1.3"/><circle cx="138.1" cy="154.7" r="1.4"/><circle cx="170.9" cy="140.7" r="1.2"/><circle cx="150.4" cy="151.8" r="1.3"/><circle cx="124.6" cy="149.1" r="1.5"/><circle cx="136.3" cy="136.6" r="1.3"/><circle cx="109.5" cy="140.7" r="1.4"/><circle cx="132" cy="155.3" r="1.5"/><circle cx="172.6" cy="152.3" r="1.3"/><circle cx="123.3" cy="135" r="1.4"/><circle cx="107.2" cy="148.9" r="1.5"/><circle cx="113.8" cy="139.4" r="1.3"/><circle cx="115.9" cy="152.2" r="1.4"/><circle cx="176.2" cy="138.6" r="1.2"/><circle cx="155.2" cy="155.5" r="1.3"/></g>
<g fill="#b87838" stroke="#7a4e20" stroke-width="0.3"><circle cx="129" cy="134.8" r="1.4"/><circle cx="161.8" cy="153.7" r="1.5"/><circle cx="163.3" cy="149" r="1.4"/><circle cx="123" cy="138.3" r="1.4"/><circle cx="159.5" cy="143.9" r="1.4"/><circle cx="150" cy="139.1" r="1.3"/><circle cx="138.8" cy="152.9" r="1.3"/><circle cx="138.6" cy="137.6" r="1.4"/><circle cx="161.3" cy="142.1" r="1.4"/><circle cx="150.3" cy="153.1" r="1.6"/><circle cx="154" cy="142.9" r="1.6"/><circle cx="138.1" cy="144.3" r="1.2"/><circle cx="136.9" cy="139.6" r="1.3"/><circle cx="162.5" cy="145.9" r="1.3"/><circle cx="134.3" cy="144.5" r="1.5"/><circle cx="125.5" cy="149.1" r="1.4"/><circle cx="128.7" cy="145.6" r="1.2"/><circle cx="142.2" cy="152.8" r="1.4"/><circle cx="158.7" cy="144.8" r="1.2"/><circle cx="159.1" cy="138.3" r="1.6"/><circle cx="136.5" cy="137.9" r="1.5"/><circle cx="153.1" cy="143" r="1.5"/><circle cx="136.5" cy="151.9" r="1.2"/><circle cx="119.2" cy="148.7" r="1.5"/><circle cx="147.9" cy="137.9" r="1.3"/><circle cx="145" cy="153.2" r="1.4"/><circle cx="126.6" cy="150.2" r="1.5"/><circle cx="137.7" cy="147" r="1.3"/><circle cx="160.2" cy="152.6" r="1.2"/><circle cx="135.2" cy="153.8" r="1.2"/><circle cx="137.2" cy="142.8" r="1.3"/><circle cx="117.6" cy="151.5" r="1.6"/><circle cx="122.8" cy="148.9" r="1.3"/><circle cx="139.9" cy="147.8" r="1.4"/><circle cx="165.6" cy="144.4" r="1.4"/><circle cx="154.1" cy="145.6" r="1.3"/><circle cx="174.6" cy="144.7" r="1.5"/><circle cx="165" cy="143.9" r="1.6"/><circle cx="169.7" cy="139.7" r="1.6"/><circle cx="152.2" cy="148.7" r="1.2"/><circle cx="169.7" cy="149.2" r="1.3"/><circle cx="171.3" cy="151.3" r="1.4"/><circle cx="116.9" cy="151.2" r="1.3"/><circle cx="139.9" cy="141.9" r="1.5"/><circle cx="139.8" cy="133.7" r="1.5"/><circle cx="147.1" cy="146.3" r="1.3"/><circle cx="163.7" cy="143.2" r="1.6"/><circle cx="119.4" cy="149.2" r="1.5"/><circle cx="135.9" cy="137.3" r="1.6"/><circle cx="126" cy="153.7" r="1.4"/><circle cx="137" cy="147.3" r="1.2"/><circle cx="117.6" cy="146.1" r="1.3"/><circle cx="125.2" cy="143.6" r="1.2"/><circle cx="152.8" cy="152.9" r="1.4"/><circle cx="158.3" cy="137.4" r="1.4"/><circle cx="154.5" cy="152.7" r="1.2"/><circle cx="147.6" cy="138.8" r="1.6"/><circle cx="150.5" cy="141.7" r="1.3"/><circle cx="161.3" cy="136.7" r="1.4"/><circle cx="135.7" cy="141.9" r="1.4"/><circle cx="123.5" cy="143.5" r="1.4"/><circle cx="124.1" cy="145.4" r="1.4"/><circle cx="144.8" cy="134.1" r="1.4"/><circle cx="169" cy="142.1" r="1.4"/><circle cx="115.8" cy="140.6" r="1.5"/><circle cx="175" cy="145.3" r="1.3"/><circle cx="147.2" cy="139.9" r="1.4"/><circle cx="149.6" cy="146.9" r="1.5"/><circle cx="153.5" cy="136.8" r="1.3"/><circle cx="146.5" cy="151.9" r="1.2"/><circle cx="134.5" cy="152" r="1.4"/><circle cx="123.1" cy="147.7" r="1.5"/><circle cx="135.3" cy="146.2" r="1.3"/><circle cx="129.9" cy="143.9" r="1.6"/><circle cx="111.3" cy="142.9" r="1.2"/><circle cx="126.1" cy="143.1" r="1.2"/><circle cx="177.7" cy="145.1" r="1.3"/><circle cx="139" cy="143.5" r="1.2"/><circle cx="148.2" cy="144.3" r="1.4"/><circle cx="164.2" cy="147" r="1.2"/><circle cx="112.6" cy="147.3" r="1.2"/><circle cx="127.4" cy="138.2" r="1.6"/><circle cx="123.9" cy="152.9" r="1.3"/><circle cx="126.9" cy="152.9" r="1.4"/><circle cx="155.1" cy="145.3" r="1.5"/><circle cx="159.8" cy="132" r="1.4"/><circle cx="111.9" cy="140.2" r="1.5"/><circle cx="123.2" cy="154.6" r="1.4"/><circle cx="137.6" cy="131.8" r="1.4"/><circle cx="150.1" cy="155.5" r="1.4"/></g></g>
<circle cx="213.6" cy="145.6" r="7.2" fill="url(#pel)"/><g fill="#b87020" opacity="0.6"><circle cx="210" cy="143" r="0.7"/><circle cx="214" cy="141" r="0.6"/><circle cx="217" cy="146" r="0.7"/><circle cx="212" cy="149" r="0.6"/><circle cx="215.5" cy="150" r="0.5"/><circle cx="209.5" cy="147.5" r="0.5"/></g>
<g transform="matrix(0.8877 0 0 0.9395 4.55 14.70)"><path d="M15.0 226.0C14.7 223.2 15.7 218.8 17.0 216.0C18.3 213.2 20.3 210.8 23.0 209.0C25.7 207.2 29.3 206.0 33.0 205.0C36.7 204.0 40.8 203.0 45.0 202.8C49.2 202.6 53.8 203.0 58.0 204.0C62.2 205.0 66.4 206.8 70.0 209.0C73.6 211.2 78.0 214.2 79.5 217.0C81.0 219.8 79.9 223.2 79.0 226.0C78.1 228.8 76.8 231.7 74.0 234.0C71.2 236.3 66.8 238.5 62.0 240.0C57.2 241.5 50.3 243.0 45.0 243.0C39.7 243.0 34.3 241.7 30.0 240.0C25.7 238.3 21.5 235.3 19.0 233.0C16.5 230.7 15.3 228.8 15.0 226.0Z" fill="#9a6430"/>
<g fill="#d09450" stroke="#80501e" stroke-width="0.4"><ellipse cx="43.7" cy="240.4" rx="2.9" ry="2.4" transform="rotate(-1 43.7 240.4)"/><ellipse cx="52.7" cy="239.1" rx="2.6" ry="2" transform="rotate(25 52.7 239.1)"/><ellipse cx="39.9" cy="237.6" rx="3.2" ry="2.4" transform="rotate(-45 39.9 237.6)"/><ellipse cx="78.1" cy="223.7" rx="2.8" ry="1.9" transform="rotate(8 78.1 223.7)"/><ellipse cx="32" cy="234.4" rx="2.5" ry="1.7" transform="rotate(0 32 234.4)"/><ellipse cx="55.9" cy="214.5" rx="3" ry="1.9" transform="rotate(5 55.9 214.5)"/><ellipse cx="77.7" cy="224.5" rx="2.8" ry="1.8" transform="rotate(-22 77.7 224.5)"/><ellipse cx="37.7" cy="210.7" rx="3" ry="2.2" transform="rotate(-16 37.7 210.7)"/><ellipse cx="31" cy="227.6" rx="2.8" ry="1.8" transform="rotate(3 31 227.6)"/><ellipse cx="45.5" cy="234" rx="2.4" ry="1.7" transform="rotate(33 45.5 234)"/><ellipse cx="38.3" cy="210.5" rx="3.1" ry="1.7" transform="rotate(25 38.3 210.5)"/><ellipse cx="61.6" cy="234.8" rx="3.1" ry="1.7" transform="rotate(-33 61.6 234.8)"/><ellipse cx="56.1" cy="204.5" rx="2.6" ry="2.4" transform="rotate(11 56.1 204.5)"/><ellipse cx="52.7" cy="213.5" rx="3" ry="1.9" transform="rotate(15 52.7 213.5)"/><ellipse cx="72.5" cy="228.9" rx="2.6" ry="2.3" transform="rotate(4 72.5 228.9)"/><ellipse cx="46.2" cy="227" rx="3.1" ry="2" transform="rotate(28 46.2 227)"/><ellipse cx="23.7" cy="234.7" rx="2.9" ry="1.9" transform="rotate(-49 23.7 234.7)"/><ellipse cx="60.1" cy="211.7" rx="3.2" ry="2.2" transform="rotate(-32 60.1 211.7)"/><ellipse cx="63.8" cy="218.9" rx="2.5" ry="1.9" transform="rotate(-21 63.8 218.9)"/><ellipse cx="25.9" cy="222.5" rx="2.4" ry="1.6" transform="rotate(-12 25.9 222.5)"/><ellipse cx="18.3" cy="219" rx="2.4" ry="2.2" transform="rotate(16 18.3 219)"/><ellipse cx="55.1" cy="216.7" rx="2.9" ry="1.9" transform="rotate(15 55.1 216.7)"/><ellipse cx="43.1" cy="206.4" rx="3.2" ry="1.8" transform="rotate(19 43.1 206.4)"/><ellipse cx="37.3" cy="227" rx="3" ry="1.8" transform="rotate(18 37.3 227)"/><ellipse cx="43.6" cy="218.1" rx="3" ry="2" transform="rotate(-45 43.6 218.1)"/><ellipse cx="48.5" cy="212.8" rx="3" ry="2.1" transform="rotate(-48 48.5 212.8)"/><ellipse cx="55.6" cy="208.8" rx="2.5" ry="1.7" transform="rotate(-26 55.6 208.8)"/><ellipse cx="66.7" cy="219.6" rx="2.7" ry="2.1" transform="rotate(39 66.7 219.6)"/><ellipse cx="50.6" cy="214" rx="2.3" ry="1.5" transform="rotate(-3 50.6 214)"/><ellipse cx="63.6" cy="213.6" rx="2.6" ry="2.2" transform="rotate(-15 63.6 213.6)"/><ellipse cx="35.4" cy="227.3" rx="2.9" ry="2" transform="rotate(-41 35.4 227.3)"/><ellipse cx="23.5" cy="212.9" rx="3" ry="1.9" transform="rotate(37 23.5 212.9)"/><ellipse cx="58.5" cy="228.8" rx="2.7" ry="1.6" transform="rotate(1 58.5 228.8)"/><ellipse cx="78.1" cy="219.3" rx="2.5" ry="2.4" transform="rotate(48 78.1 219.3)"/><ellipse cx="48.2" cy="205" rx="3.3" ry="2.2" transform="rotate(44 48.2 205)"/><ellipse cx="28.5" cy="220.3" rx="3.1" ry="1.8" transform="rotate(17 28.5 220.3)"/><ellipse cx="27.2" cy="235.9" rx="2.4" ry="1.7" transform="rotate(15 27.2 235.9)"/><ellipse cx="39.8" cy="237" rx="2.6" ry="2" transform="rotate(22 39.8 237)"/><ellipse cx="26.4" cy="214.9" rx="2.5" ry="1.8" transform="rotate(-24 26.4 214.9)"/></g>
<g fill="#c08040" stroke="#80501e" stroke-width="0.4"><ellipse cx="49.9" cy="224.9" rx="2.8" ry="1.8" transform="rotate(-43 49.9 224.9)"/><ellipse cx="73.4" cy="225.7" rx="3.6" ry="1.9" transform="rotate(35 73.4 225.7)"/><ellipse cx="50.5" cy="239.9" rx="2.7" ry="1.9" transform="rotate(29 50.5 239.9)"/><ellipse cx="20" cy="226.9" rx="2.8" ry="1.5" transform="rotate(-40 20 226.9)"/><ellipse cx="35.3" cy="217.9" rx="2.8" ry="2.2" transform="rotate(-14 35.3 217.9)"/><ellipse cx="68.8" cy="220.4" rx="3.7" ry="1.8" transform="rotate(32 68.8 220.4)"/><ellipse cx="43" cy="241" rx="2.8" ry="1.9" transform="rotate(-30 43 241)"/><ellipse cx="48.5" cy="214.4" rx="3.2" ry="1.8" transform="rotate(24 48.5 214.4)"/><ellipse cx="26" cy="234.6" rx="2.9" ry="2.1" transform="rotate(-28 26 234.6)"/><ellipse cx="76.3" cy="219.6" rx="2" ry="1.7" transform="rotate(21 76.3 219.6)"/><ellipse cx="59.2" cy="209.1" rx="3.1" ry="2" transform="rotate(-30 59.2 209.1)"/><ellipse cx="48.4" cy="220.6" rx="3.4" ry="1.7" transform="rotate(-6 48.4 220.6)"/><ellipse cx="38.3" cy="215.7" rx="3.3" ry="2" transform="rotate(2 38.3 215.7)"/><ellipse cx="42" cy="230.8" rx="2.9" ry="2" transform="rotate(12 42 230.8)"/><ellipse cx="30.6" cy="210.4" rx="2.5" ry="2" transform="rotate(-26 30.6 210.4)"/><ellipse cx="56.8" cy="221.2" rx="3.3" ry="2.1" transform="rotate(13 56.8 221.2)"/><ellipse cx="21.9" cy="233.2" rx="2.5" ry="1.7" transform="rotate(-5 21.9 233.2)"/><ellipse cx="22.2" cy="214.2" rx="3.3" ry="1.7" transform="rotate(42 22.2 214.2)"/><ellipse cx="38.3" cy="219" rx="2.9" ry="1.9" transform="rotate(-24 38.3 219)"/><ellipse cx="18.5" cy="229.1" rx="3" ry="2.4" transform="rotate(15 18.5 229.1)"/><ellipse cx="36.6" cy="230.1" rx="3.8" ry="1.8" transform="rotate(38 36.6 230.1)"/><ellipse cx="39.9" cy="240.5" rx="2.7" ry="2.1" transform="rotate(45 39.9 240.5)"/><ellipse cx="65.9" cy="224.3" rx="2.7" ry="2" transform="rotate(-4 65.9 224.3)"/><ellipse cx="36.6" cy="220.1" rx="2.2" ry="1.6" transform="rotate(-12 36.6 220.1)"/><ellipse cx="35.8" cy="232.9" rx="3.1" ry="2" transform="rotate(-39 35.8 232.9)"/><ellipse cx="74.4" cy="214.5" rx="3.2" ry="2.3" transform="rotate(-36 74.4 214.5)"/><ellipse cx="34.3" cy="219.3" rx="2.7" ry="1.5" transform="rotate(12 34.3 219.3)"/><ellipse cx="30.6" cy="235.2" rx="2.8" ry="2" transform="rotate(-21 30.6 235.2)"/><ellipse cx="66.8" cy="221" rx="2.6" ry="1.9" transform="rotate(-38 66.8 221)"/><ellipse cx="32.3" cy="224.8" rx="2.3" ry="1.8" transform="rotate(45 32.3 224.8)"/><ellipse cx="69.7" cy="210" rx="3.2" ry="2.5" transform="rotate(8 69.7 210)"/><ellipse cx="52.5" cy="215.9" rx="2.8" ry="1.9" transform="rotate(30 52.5 215.9)"/><ellipse cx="44.2" cy="222" rx="3.4" ry="2.1" transform="rotate(-15 44.2 222)"/><ellipse cx="71.4" cy="226.3" rx="2.5" ry="1.5" transform="rotate(-5 71.4 226.3)"/><ellipse cx="38.5" cy="231.8" rx="2.6" ry="2.4" transform="rotate(-25 38.5 231.8)"/><ellipse cx="48.4" cy="239.1" rx="3.3" ry="1.8" transform="rotate(-18 48.4 239.1)"/><ellipse cx="70.3" cy="228.1" rx="2.7" ry="1.9" transform="rotate(50 70.3 228.1)"/><ellipse cx="44.5" cy="240.1" rx="2.7" ry="2" transform="rotate(-16 44.5 240.1)"/><ellipse cx="35.3" cy="233.1" rx="2.8" ry="1.9" transform="rotate(40 35.3 233.1)"/><ellipse cx="62.2" cy="211.1" rx="2.9" ry="2.2" transform="rotate(31 62.2 211.1)"/><ellipse cx="51.4" cy="212.7" rx="3" ry="1.8" transform="rotate(-0 51.4 212.7)"/><ellipse cx="80.7" cy="215.2" rx="3.4" ry="2.4" transform="rotate(-38 80.7 215.2)"/><ellipse cx="15" cy="222.5" rx="3.2" ry="2.4" transform="rotate(45 15 222.5)"/><ellipse cx="80.1" cy="216.6" rx="2.3" ry="1.7" transform="rotate(-7 80.1 216.6)"/><ellipse cx="81.5" cy="217.7" rx="2.6" ry="2.3" transform="rotate(-33 81.5 217.7)"/></g>
<g fill="#d8a060" stroke="#80501e" stroke-width="0.4"><ellipse cx="66.6" cy="219.3" rx="2.6" ry="1.5" transform="rotate(17 66.6 219.3)"/><ellipse cx="54.6" cy="204.6" rx="2.8" ry="2.4" transform="rotate(-18 54.6 204.6)"/><ellipse cx="32" cy="230.5" rx="2.9" ry="2.2" transform="rotate(-8 32 230.5)"/><ellipse cx="31.2" cy="221.1" rx="3.4" ry="2.2" transform="rotate(-47 31.2 221.1)"/><ellipse cx="23.5" cy="222.9" rx="3.1" ry="2.1" transform="rotate(-3 23.5 222.9)"/><ellipse cx="33.8" cy="234.7" rx="2.7" ry="1.5" transform="rotate(5 33.8 234.7)"/><ellipse cx="55.5" cy="237.5" rx="2.2" ry="1.8" transform="rotate(28 55.5 237.5)"/><ellipse cx="20.6" cy="223" rx="2.6" ry="1.6" transform="rotate(-8 20.6 223)"/><ellipse cx="19.6" cy="218.3" rx="3.1" ry="2" transform="rotate(29 19.6 218.3)"/><ellipse cx="29.5" cy="208" rx="2.8" ry="1.6" transform="rotate(35 29.5 208)"/><ellipse cx="39.1" cy="238.9" rx="2.8" ry="2.4" transform="rotate(-30 39.1 238.9)"/><ellipse cx="69.4" cy="229.9" rx="3.2" ry="2.2" transform="rotate(-33 69.4 229.9)"/><ellipse cx="44.3" cy="230.9" rx="3.8" ry="1.9" transform="rotate(14 44.3 230.9)"/><ellipse cx="35.3" cy="212.1" rx="2.8" ry="2" transform="rotate(48 35.3 212.1)"/><ellipse cx="55.1" cy="229.9" rx="2.9" ry="1.7" transform="rotate(-21 55.1 229.9)"/><ellipse cx="52.4" cy="230" rx="2.4" ry="1.5" transform="rotate(-11 52.4 230)"/><ellipse cx="34.1" cy="230" rx="3" ry="2.3" transform="rotate(-25 34.1 230)"/><ellipse cx="44.3" cy="207.2" rx="2.5" ry="2.2" transform="rotate(21 44.3 207.2)"/><ellipse cx="56.6" cy="228.9" rx="3.3" ry="2.2" transform="rotate(-24 56.6 228.9)"/><ellipse cx="50" cy="232.5" rx="2.6" ry="1.7" transform="rotate(2 50 232.5)"/><ellipse cx="49" cy="225.6" rx="2.5" ry="1.6" transform="rotate(-14 49 225.6)"/><ellipse cx="49.8" cy="240.2" rx="2.2" ry="2" transform="rotate(-8 49.8 240.2)"/><ellipse cx="30.6" cy="218.4" rx="2.5" ry="2" transform="rotate(-24 30.6 218.4)"/><ellipse cx="46.5" cy="225.4" rx="2.4" ry="1.5" transform="rotate(49 46.5 225.4)"/><ellipse cx="54.1" cy="240.9" rx="2.3" ry="1.6" transform="rotate(40 54.1 240.9)"/><ellipse cx="72.8" cy="232.3" rx="2.8" ry="2.1" transform="rotate(-2 72.8 232.3)"/><ellipse cx="48.3" cy="223.1" rx="3.1" ry="2" transform="rotate(14 48.3 223.1)"/><ellipse cx="44.9" cy="232.1" rx="2.1" ry="1.8" transform="rotate(-35 44.9 232.1)"/><ellipse cx="66.2" cy="217.1" rx="3.1" ry="2.5" transform="rotate(13 66.2 217.1)"/><ellipse cx="63.9" cy="234.5" rx="3.3" ry="2" transform="rotate(37 63.9 234.5)"/><ellipse cx="48.2" cy="217.7" rx="3.5" ry="2" transform="rotate(-42 48.2 217.7)"/><ellipse cx="21.6" cy="233.9" rx="2.9" ry="1.6" transform="rotate(-14 21.6 233.9)"/><ellipse cx="39.7" cy="236.1" rx="2.6" ry="1.6" transform="rotate(8 39.7 236.1)"/><ellipse cx="35.8" cy="223.2" rx="3.2" ry="1.8" transform="rotate(-49 35.8 223.2)"/><ellipse cx="68.9" cy="214.3" rx="3.2" ry="2" transform="rotate(34 68.9 214.3)"/><ellipse cx="26.8" cy="227" rx="2.9" ry="1.9" transform="rotate(-39 26.8 227)"/><ellipse cx="62" cy="212.8" rx="2.9" ry="2.2" transform="rotate(41 62 212.8)"/><ellipse cx="70.1" cy="218.2" rx="2.6" ry="2.1" transform="rotate(22 70.1 218.2)"/><ellipse cx="42.8" cy="237.7" rx="2.4" ry="1.9" transform="rotate(-18 42.8 237.7)"/><ellipse cx="42.2" cy="238.8" rx="3.7" ry="2.1" transform="rotate(-20 42.2 238.8)"/><ellipse cx="56.5" cy="238.2" rx="2.6" ry="1.7" transform="rotate(-40 56.5 238.2)"/><ellipse cx="23.6" cy="224.2" rx="3.1" ry="1.9" transform="rotate(43 23.6 224.2)"/><ellipse cx="30.3" cy="217.6" rx="2.9" ry="1.7" transform="rotate(43 30.3 217.6)"/><ellipse cx="31.2" cy="213.4" rx="2.7" ry="2" transform="rotate(21 31.2 213.4)"/><ellipse cx="29.3" cy="235.7" rx="3.3" ry="2.4" transform="rotate(38 29.3 235.7)"/><ellipse cx="16.7" cy="213" rx="2.5" ry="1.7" transform="rotate(-10 16.7 213)"/><ellipse cx="14.3" cy="223.7" rx="3.1" ry="1.9" transform="rotate(-22 14.3 223.7)"/></g>
<g fill="#b07030" stroke="#80501e" stroke-width="0.4"><ellipse cx="45.6" cy="226.2" rx="3.5" ry="1.8" transform="rotate(2 45.6 226.2)"/><ellipse cx="31.7" cy="212.2" rx="3" ry="2.2" transform="rotate(-27 31.7 212.2)"/><ellipse cx="30" cy="208.9" rx="2.6" ry="2.4" transform="rotate(24 30 208.9)"/><ellipse cx="68.1" cy="213.6" rx="3.1" ry="1.7" transform="rotate(1 68.1 213.6)"/><ellipse cx="68.8" cy="225.9" rx="2.5" ry="2.1" transform="rotate(-26 68.8 225.9)"/><ellipse cx="55" cy="240.6" rx="2.8" ry="1.9" transform="rotate(-18 55 240.6)"/><ellipse cx="55.9" cy="231.6" rx="3.4" ry="2.5" transform="rotate(-5 55.9 231.6)"/><ellipse cx="74.2" cy="227.3" rx="2.6" ry="1.9" transform="rotate(-36 74.2 227.3)"/><ellipse cx="20.5" cy="227.7" rx="3.1" ry="2" transform="rotate(13 20.5 227.7)"/><ellipse cx="66.8" cy="223.4" rx="2.2" ry="1.8" transform="rotate(27 66.8 223.4)"/><ellipse cx="39.1" cy="227.1" rx="2.9" ry="2.2" transform="rotate(-28 39.1 227.1)"/><ellipse cx="39" cy="222.7" rx="2.5" ry="2.3" transform="rotate(6 39 222.7)"/><ellipse cx="49.6" cy="230.7" rx="3.1" ry="1.5" transform="rotate(-50 49.6 230.7)"/><ellipse cx="61.2" cy="221.8" rx="2.2" ry="1.7" transform="rotate(-27 61.2 221.8)"/><ellipse cx="38.7" cy="218.7" rx="2.8" ry="1.8" transform="rotate(-2 38.7 218.7)"/><ellipse cx="77.3" cy="217.9" rx="2.2" ry="1.8" transform="rotate(-7 77.3 217.9)"/><ellipse cx="32" cy="239.5" rx="2.4" ry="1.9" transform="rotate(-33 32 239.5)"/><ellipse cx="35.6" cy="238.3" rx="2.7" ry="1.4" transform="rotate(23 35.6 238.3)"/><ellipse cx="75.7" cy="217.8" rx="3" ry="1.8" transform="rotate(14 75.7 217.8)"/><ellipse cx="64.6" cy="217" rx="2.9" ry="2.1" transform="rotate(14 64.6 217)"/><ellipse cx="43.9" cy="235.3" rx="2.8" ry="1.5" transform="rotate(-4 43.9 235.3)"/><ellipse cx="38.8" cy="214.6" rx="3.5" ry="2.1" transform="rotate(1 38.8 214.6)"/><ellipse cx="28.7" cy="235.5" rx="3.1" ry="1.8" transform="rotate(15 28.7 235.5)"/><ellipse cx="16.6" cy="227.7" rx="3.4" ry="2.2" transform="rotate(-9 16.6 227.7)"/><ellipse cx="41.3" cy="236.8" rx="3.5" ry="1.9" transform="rotate(-9 41.3 236.8)"/><ellipse cx="47.1" cy="230.9" rx="2.3" ry="1.8" transform="rotate(10 47.1 230.9)"/><ellipse cx="28.4" cy="222.5" rx="3" ry="1.6" transform="rotate(45 28.4 222.5)"/><ellipse cx="27.6" cy="211.2" rx="2.9" ry="1.8" transform="rotate(32 27.6 211.2)"/><ellipse cx="67.1" cy="214.5" rx="3.4" ry="2.4" transform="rotate(-35 67.1 214.5)"/><ellipse cx="73" cy="233.2" rx="2.4" ry="1.7" transform="rotate(37 73 233.2)"/><ellipse cx="18.6" cy="227.4" rx="2.3" ry="1.6" transform="rotate(18 18.6 227.4)"/><ellipse cx="54.5" cy="240.2" rx="2.4" ry="1.7" transform="rotate(22 54.5 240.2)"/><ellipse cx="38.7" cy="210.5" rx="3.2" ry="2.3" transform="rotate(-32 38.7 210.5)"/><ellipse cx="24.7" cy="223" rx="2.3" ry="1.7" transform="rotate(-10 24.7 223)"/><ellipse cx="27.7" cy="234.2" rx="2.4" ry="1.9" transform="rotate(38 27.7 234.2)"/><ellipse cx="46.4" cy="235.4" rx="2.7" ry="2" transform="rotate(-26 46.4 235.4)"/><ellipse cx="39" cy="209.3" rx="2.3" ry="1.6" transform="rotate(-37 39 209.3)"/><ellipse cx="46.3" cy="205.2" rx="3.5" ry="1.9" transform="rotate(-18 46.3 205.2)"/><ellipse cx="52.2" cy="208.4" rx="2.9" ry="1.8" transform="rotate(12 52.2 208.4)"/><ellipse cx="59.6" cy="220.1" rx="3.1" ry="2.6" transform="rotate(13 59.6 220.1)"/><ellipse cx="49.5" cy="218.2" rx="2.9" ry="1.9" transform="rotate(1 49.5 218.2)"/><ellipse cx="63.3" cy="234.2" rx="3.4" ry="1.9" transform="rotate(-8 63.3 234.2)"/><ellipse cx="49.7" cy="215.1" rx="2.8" ry="1.6" transform="rotate(50 49.7 215.1)"/><ellipse cx="52" cy="209.1" rx="2.8" ry="1.6" transform="rotate(-36 52 209.1)"/><ellipse cx="43.5" cy="230.2" rx="2.1" ry="1.9" transform="rotate(-19 43.5 230.2)"/><ellipse cx="42.8" cy="234.8" rx="3" ry="1.8" transform="rotate(34 42.8 234.8)"/><ellipse cx="68.7" cy="210.2" rx="3.1" ry="1.6" transform="rotate(45 68.7 210.2)"/><ellipse cx="52" cy="206.2" rx="2.8" ry="1.6" transform="rotate(48 52 206.2)"/><ellipse cx="62.6" cy="211" rx="2.8" ry="1.6" transform="rotate(-22 62.6 211)"/><ellipse cx="26.4" cy="223.7" rx="2.6" ry="2.2" transform="rotate(10 26.4 223.7)"/><ellipse cx="77.1" cy="229.6" rx="3.2" ry="2.2" transform="rotate(-24 77.1 229.6)"/></g>
<g fill="#e0b070" stroke="#80501e" stroke-width="0.4"><ellipse cx="30.3" cy="224.7" rx="2.8" ry="1.7" transform="rotate(44 30.3 224.7)"/><ellipse cx="62.8" cy="229.8" rx="2.8" ry="1.4" transform="rotate(-48 62.8 229.8)"/><ellipse cx="61.1" cy="239.8" rx="2.8" ry="1.6" transform="rotate(-16 61.1 239.8)"/><ellipse cx="43.1" cy="228" rx="2.8" ry="1.8" transform="rotate(15 43.1 228)"/><ellipse cx="58.3" cy="209.4" rx="3.4" ry="1.9" transform="rotate(-34 58.3 209.4)"/><ellipse cx="42.6" cy="219.5" rx="2.4" ry="1.9" transform="rotate(-7 42.6 219.5)"/><ellipse cx="72.8" cy="218" rx="3.1" ry="2.1" transform="rotate(10 72.8 218)"/><ellipse cx="26.4" cy="210.2" rx="3" ry="2.3" transform="rotate(10 26.4 210.2)"/><ellipse cx="20.2" cy="232.6" rx="2.6" ry="1.8" transform="rotate(-38 20.2 232.6)"/><ellipse cx="44.1" cy="211.8" rx="2.2" ry="1.6" transform="rotate(42 44.1 211.8)"/><ellipse cx="76.8" cy="215.5" rx="3.2" ry="1.8" transform="rotate(-8 76.8 215.5)"/><ellipse cx="16.3" cy="224.4" rx="2" ry="1.8" transform="rotate(32 16.3 224.4)"/><ellipse cx="22" cy="215.6" rx="3" ry="2" transform="rotate(-49 22 215.6)"/><ellipse cx="52.4" cy="234.9" rx="2.8" ry="2" transform="rotate(-19 52.4 234.9)"/><ellipse cx="21.4" cy="225" rx="2.7" ry="1.6" transform="rotate(11 21.4 225)"/><ellipse cx="41.8" cy="225.6" rx="3.1" ry="2.2" transform="rotate(-39 41.8 225.6)"/><ellipse cx="23.8" cy="233" rx="2.2" ry="2" transform="rotate(22 23.8 233)"/><ellipse cx="58.3" cy="237.2" rx="2.7" ry="1.9" transform="rotate(45 58.3 237.2)"/><ellipse cx="32.3" cy="235.1" rx="2.1" ry="2" transform="rotate(-6 32.3 235.1)"/><ellipse cx="45.2" cy="236.4" rx="3.6" ry="2" transform="rotate(13 45.2 236.4)"/><ellipse cx="52.7" cy="241.2" rx="2.8" ry="2.1" transform="rotate(42 52.7 241.2)"/><ellipse cx="60.5" cy="207.1" rx="2.4" ry="1.9" transform="rotate(-38 60.5 207.1)"/><ellipse cx="62.9" cy="235.6" rx="2.5" ry="2.4" transform="rotate(-43 62.9 235.6)"/><ellipse cx="54.2" cy="237.4" rx="3.5" ry="1.9" transform="rotate(-3 54.2 237.4)"/><ellipse cx="48.8" cy="221.3" rx="2.8" ry="1.7" transform="rotate(-4 48.8 221.3)"/><ellipse cx="59.8" cy="208.2" rx="2.8" ry="1.8" transform="rotate(-7 59.8 208.2)"/><ellipse cx="61.4" cy="217.6" rx="2.4" ry="1.8" transform="rotate(24 61.4 217.6)"/><ellipse cx="31.7" cy="217.7" rx="2.7" ry="2.4" transform="rotate(48 31.7 217.7)"/><ellipse cx="47.5" cy="228.4" rx="2.5" ry="2" transform="rotate(25 47.5 228.4)"/><ellipse cx="26.9" cy="219.4" rx="2.4" ry="2.1" transform="rotate(1 26.9 219.4)"/><ellipse cx="22.2" cy="214.4" rx="2.6" ry="1.6" transform="rotate(-11 22.2 214.4)"/><ellipse cx="55.1" cy="204.5" rx="2.7" ry="2.2" transform="rotate(-6 55.1 204.5)"/><ellipse cx="62.4" cy="219.8" rx="2.8" ry="2.1" transform="rotate(-41 62.4 219.8)"/><ellipse cx="46.2" cy="233.9" rx="2.5" ry="2" transform="rotate(-43 46.2 233.9)"/><ellipse cx="42.9" cy="216.4" rx="2.6" ry="1.5" transform="rotate(16 42.9 216.4)"/><ellipse cx="45.2" cy="229.6" rx="3.3" ry="2.5" transform="rotate(-17 45.2 229.6)"/><ellipse cx="26.8" cy="230.3" rx="3.8" ry="2.4" transform="rotate(-14 26.8 230.3)"/><ellipse cx="75.1" cy="227.4" rx="2.5" ry="1.4" transform="rotate(43 75.1 227.4)"/><ellipse cx="34" cy="218.2" rx="2.9" ry="2.1" transform="rotate(-12 34 218.2)"/><ellipse cx="69.6" cy="221.8" rx="3.2" ry="1.9" transform="rotate(-39 69.6 221.8)"/><ellipse cx="35.4" cy="236.6" rx="2.8" ry="1.6" transform="rotate(-6 35.4 236.6)"/><ellipse cx="48.9" cy="233.6" rx="3" ry="1.9" transform="rotate(-46 48.9 233.6)"/><ellipse cx="78.6" cy="224" rx="2.3" ry="1.8" transform="rotate(-45 78.6 224)"/><ellipse cx="18.3" cy="219.6" rx="3.3" ry="1.8" transform="rotate(-17 18.3 219.6)"/><ellipse cx="29.5" cy="208.4" rx="3" ry="1.6" transform="rotate(-27 29.5 208.4)"/><ellipse cx="40.5" cy="216.6" rx="3.1" ry="2.1" transform="rotate(3 40.5 216.6)"/><ellipse cx="29.6" cy="225.8" rx="3" ry="2.1" transform="rotate(-30 29.6 225.8)"/><ellipse cx="63.4" cy="218.6" rx="2.4" ry="2.1" transform="rotate(-50 63.4 218.6)"/><ellipse cx="65.7" cy="237.4" rx="3" ry="2.1" transform="rotate(49 65.7 237.4)"/><ellipse cx="26.3" cy="204.9" rx="3.2" ry="2.3" transform="rotate(35 26.3 204.9)"/><ellipse cx="13.9" cy="215.8" rx="3.1" ry="1.6" transform="rotate(34 13.9 215.8)"/><ellipse cx="33.7" cy="203.6" rx="3.5" ry="2.2" transform="rotate(-43 33.7 203.6)"/></g>
<g fill="#c88a48" stroke="#80501e" stroke-width="0.4"><ellipse cx="17.3" cy="222.7" rx="3" ry="2" transform="rotate(-19 17.3 222.7)"/><ellipse cx="32.2" cy="207.8" rx="2.9" ry="1.9" transform="rotate(-14 32.2 207.8)"/><ellipse cx="18.9" cy="228" rx="3.2" ry="1.9" transform="rotate(40 18.9 228)"/><ellipse cx="30.4" cy="210.3" rx="2.3" ry="2" transform="rotate(-34 30.4 210.3)"/><ellipse cx="21.3" cy="226.9" rx="2.6" ry="2.2" transform="rotate(18 21.3 226.9)"/><ellipse cx="26.8" cy="214" rx="3.7" ry="1.9" transform="rotate(19 26.8 214)"/><ellipse cx="17.1" cy="221.2" rx="2.7" ry="2" transform="rotate(35 17.1 221.2)"/><ellipse cx="63.1" cy="209.7" rx="3.1" ry="1.7" transform="rotate(23 63.1 209.7)"/><ellipse cx="18.2" cy="222.2" rx="2.6" ry="1.7" transform="rotate(-30 18.2 222.2)"/><ellipse cx="22.8" cy="230.6" rx="3.2" ry="2.2" transform="rotate(20 22.8 230.6)"/><ellipse cx="57.7" cy="238.5" rx="3.4" ry="2.4" transform="rotate(-17 57.7 238.5)"/><ellipse cx="48" cy="231.5" rx="2.4" ry="1.4" transform="rotate(-28 48 231.5)"/><ellipse cx="25.5" cy="222.8" rx="2.4" ry="1.7" transform="rotate(-17 25.5 222.8)"/><ellipse cx="36.4" cy="218.1" rx="2.4" ry="1.7" transform="rotate(47 36.4 218.1)"/><ellipse cx="36.8" cy="225.6" rx="3.3" ry="2" transform="rotate(24 36.8 225.6)"/><ellipse cx="46.9" cy="217" rx="3.4" ry="2.2" transform="rotate(35 46.9 217)"/><ellipse cx="61.9" cy="232.6" rx="3.6" ry="1.7" transform="rotate(19 61.9 232.6)"/><ellipse cx="55.7" cy="210" rx="3.6" ry="2.4" transform="rotate(-10 55.7 210)"/><ellipse cx="23.8" cy="222" rx="2.3" ry="1.7" transform="rotate(-20 23.8 222)"/><ellipse cx="32.4" cy="206.8" rx="2.7" ry="1.6" transform="rotate(48 32.4 206.8)"/><ellipse cx="22.2" cy="230.9" rx="2.9" ry="1.8" transform="rotate(-30 22.2 230.9)"/><ellipse cx="39.7" cy="225" rx="3" ry="1.7" transform="rotate(5 39.7 225)"/><ellipse cx="47.1" cy="224.1" rx="3.2" ry="1.9" transform="rotate(7 47.1 224.1)"/><ellipse cx="41" cy="215.6" rx="2.6" ry="1.5" transform="rotate(-12 41 215.6)"/><ellipse cx="55.6" cy="216.7" rx="2.4" ry="1.8" transform="rotate(30 55.6 216.7)"/><ellipse cx="38.4" cy="219.5" rx="3" ry="1.8" transform="rotate(44 38.4 219.5)"/><ellipse cx="46" cy="213.6" rx="2.4" ry="1.7" transform="rotate(24 46 213.6)"/><ellipse cx="63.5" cy="235.9" rx="2.2" ry="2" transform="rotate(-33 63.5 235.9)"/><ellipse cx="58.7" cy="206.7" rx="3.2" ry="2" transform="rotate(17 58.7 206.7)"/><ellipse cx="36.8" cy="215.3" rx="2.5" ry="1.8" transform="rotate(49 36.8 215.3)"/><ellipse cx="28.6" cy="230.5" rx="3.5" ry="2.5" transform="rotate(6 28.6 230.5)"/><ellipse cx="20.5" cy="221.5" rx="2.9" ry="1.7" transform="rotate(-43 20.5 221.5)"/><ellipse cx="54.7" cy="228.6" rx="2.7" ry="2.1" transform="rotate(-22 54.7 228.6)"/><ellipse cx="27.4" cy="233.1" rx="3.4" ry="2.3" transform="rotate(-39 27.4 233.1)"/><ellipse cx="32.8" cy="220.2" rx="2.9" ry="2.1" transform="rotate(-27 32.8 220.2)"/><ellipse cx="39.1" cy="217.2" rx="3.7" ry="2" transform="rotate(-29 39.1 217.2)"/><ellipse cx="67.3" cy="220.9" rx="3.1" ry="1.9" transform="rotate(-40 67.3 220.9)"/><ellipse cx="64.1" cy="225.5" rx="3.8" ry="1.8" transform="rotate(-11 64.1 225.5)"/><ellipse cx="53.6" cy="207.5" rx="2.5" ry="2" transform="rotate(-45 53.6 207.5)"/><ellipse cx="38.9" cy="223.5" rx="3.4" ry="1.8" transform="rotate(28 38.9 223.5)"/><ellipse cx="43.9" cy="215.3" rx="2.5" ry="2" transform="rotate(-12 43.9 215.3)"/><ellipse cx="46.9" cy="241.3" rx="3.3" ry="2.1" transform="rotate(-18 46.9 241.3)"/><ellipse cx="48.9" cy="232.7" rx="2.8" ry="1.9" transform="rotate(22 48.9 232.7)"/><ellipse cx="46.4" cy="209.6" rx="2.2" ry="1.9" transform="rotate(16 46.4 209.6)"/><ellipse cx="26.6" cy="228" rx="2.7" ry="2" transform="rotate(-9 26.6 228)"/><ellipse cx="37.9" cy="241" rx="3.4" ry="1.7" transform="rotate(32 37.9 241)"/><ellipse cx="68.7" cy="210.9" rx="2.9" ry="2.1" transform="rotate(11 68.7 210.9)"/><ellipse cx="53.1" cy="231" rx="3.4" ry="2" transform="rotate(37 53.1 231)"/><ellipse cx="38.9" cy="220.5" rx="3.1" ry="2.1" transform="rotate(-10 38.9 220.5)"/><ellipse cx="49.8" cy="239.8" rx="2.6" ry="1.9" transform="rotate(0 49.8 239.8)"/><ellipse cx="28.1" cy="228.4" rx="2.8" ry="2" transform="rotate(40 28.1 228.4)"/><ellipse cx="34.2" cy="214.3" rx="3.5" ry="1.8" transform="rotate(-42 34.2 214.3)"/><ellipse cx="59.6" cy="206.2" rx="3.2" ry="1.8" transform="rotate(-41 59.6 206.2)"/><ellipse cx="28" cy="218.6" rx="2.1" ry="1.5" transform="rotate(-43 28 218.6)"/><ellipse cx="35.3" cy="237.4" rx="2.6" ry="2.1" transform="rotate(-33 35.3 237.4)"/><ellipse cx="67.3" cy="217.5" rx="2.3" ry="1.9" transform="rotate(-45 67.3 217.5)"/><ellipse cx="65.4" cy="205.9" rx="2.7" ry="2.1" transform="rotate(29 65.4 205.9)"/><ellipse cx="38.4" cy="202.7" rx="2.5" ry="2.2" transform="rotate(-38 38.4 202.7)"/><ellipse cx="39.4" cy="202.9" rx="2.9" ry="1.6" transform="rotate(1 39.4 202.9)"/><ellipse cx="23.4" cy="206.8" rx="3.5" ry="1.9" transform="rotate(-49 23.4 206.8)"/></g></g>
<g transform="matrix(0.9071 0 0 0.8781 11.70 27.00)"><path d="M104.0 220.0C104.5 216.5 107.0 213.5 110.0 211.0C113.0 208.5 117.8 206.3 122.0 205.0C126.2 203.7 130.3 203.3 135.0 203.0C139.7 202.7 145.3 202.5 150.0 203.0C154.7 203.5 159.3 204.5 163.0 206.0C166.7 207.5 169.5 209.3 172.0 212.0C174.5 214.7 177.2 218.7 178.0 222.0C178.8 225.3 178.3 229.3 177.0 232.0C175.7 234.7 173.7 236.3 170.0 238.0C166.3 239.7 160.8 241.2 155.0 242.0C149.2 242.8 141.2 243.3 135.0 243.0C128.8 242.7 122.7 241.8 118.0 240.0C113.3 238.2 109.3 235.3 107.0 232.0C104.7 228.7 103.5 223.5 104.0 220.0Z" fill="#f0c8a0" opacity="0.55"/>
<g fill="#e09858" stroke="#b86c38" stroke-width="0.4"><ellipse cx="144.7" cy="214.6" rx="2.4" ry="2.2" transform="rotate(-44 144.7 214.6)"/><ellipse cx="165.2" cy="213.5" rx="2.3" ry="1.7" transform="rotate(-12 165.2 213.5)"/><ellipse cx="115.9" cy="215.2" rx="2.6" ry="1.7" transform="rotate(40 115.9 215.2)"/><ellipse cx="127.7" cy="225.3" rx="3" ry="1.7" transform="rotate(-34 127.7 225.3)"/><ellipse cx="134.4" cy="240.7" rx="2.6" ry="1.7" transform="rotate(-34 134.4 240.7)"/><ellipse cx="107" cy="222.6" rx="2.1" ry="1.5" transform="rotate(6 107 222.6)"/><ellipse cx="161.2" cy="221.9" rx="2.1" ry="1.8" transform="rotate(38 161.2 221.9)"/><ellipse cx="171" cy="214.9" rx="2.3" ry="1.6" transform="rotate(-27 171 214.9)"/><ellipse cx="130.8" cy="229.5" rx="2.6" ry="1.5" transform="rotate(18 130.8 229.5)"/><ellipse cx="152.4" cy="216.1" rx="2.5" ry="1.8" transform="rotate(-28 152.4 216.1)"/><ellipse cx="148.7" cy="224" rx="2.8" ry="2.1" transform="rotate(45 148.7 224)"/><ellipse cx="142.8" cy="209.3" rx="2.4" ry="1.8" transform="rotate(47 142.8 209.3)"/><ellipse cx="134.7" cy="208.2" rx="2.5" ry="2" transform="rotate(-37 134.7 208.2)"/><ellipse cx="128.3" cy="218.5" rx="2.8" ry="1.9" transform="rotate(25 128.3 218.5)"/><ellipse cx="149.1" cy="203.6" rx="2.4" ry="1.5" transform="rotate(-45 149.1 203.6)"/><ellipse cx="161.8" cy="239.3" rx="2.4" ry="2" transform="rotate(-40 161.8 239.3)"/><ellipse cx="141.6" cy="238.6" rx="2.6" ry="1.9" transform="rotate(10 141.6 238.6)"/><ellipse cx="133.8" cy="209.9" rx="2.7" ry="1.8" transform="rotate(12 133.8 209.9)"/><ellipse cx="153.5" cy="238.6" rx="2.7" ry="1.5" transform="rotate(-15 153.5 238.6)"/><ellipse cx="146" cy="229.4" rx="3.1" ry="2.2" transform="rotate(-8 146 229.4)"/><ellipse cx="117.7" cy="224.4" rx="2.3" ry="1.5" transform="rotate(-23 117.7 224.4)"/><ellipse cx="148.2" cy="205.1" rx="2.3" ry="2.1" transform="rotate(37 148.2 205.1)"/><ellipse cx="136.1" cy="206.2" rx="2.1" ry="1.6" transform="rotate(31 136.1 206.2)"/><ellipse cx="118.9" cy="239.7" rx="3.2" ry="1.6" transform="rotate(14 118.9 239.7)"/><ellipse cx="125.6" cy="223.7" rx="2" ry="1.8" transform="rotate(20 125.6 223.7)"/><ellipse cx="141.8" cy="225" rx="2.5" ry="1.7" transform="rotate(-6 141.8 225)"/><ellipse cx="147.5" cy="207.7" rx="2.8" ry="2.1" transform="rotate(39 147.5 207.7)"/><ellipse cx="136" cy="223.3" rx="2.7" ry="1.9" transform="rotate(34 136 223.3)"/><ellipse cx="129.4" cy="217" rx="2.9" ry="1.9" transform="rotate(-7 129.4 217)"/><ellipse cx="137.2" cy="224" rx="2.5" ry="1.6" transform="rotate(36 137.2 224)"/><ellipse cx="172.4" cy="214.4" rx="2.7" ry="1.7" transform="rotate(49 172.4 214.4)"/><ellipse cx="158.9" cy="216.9" rx="2.3" ry="1.6" transform="rotate(5 158.9 216.9)"/><ellipse cx="155.4" cy="238.3" rx="2.6" ry="2" transform="rotate(22 155.4 238.3)"/><ellipse cx="146.5" cy="214" rx="2.5" ry="1.3" transform="rotate(-37 146.5 214)"/><ellipse cx="108.7" cy="227.6" rx="2.1" ry="1.7" transform="rotate(10 108.7 227.6)"/><ellipse cx="167.2" cy="223.5" rx="2.6" ry="1.8" transform="rotate(17 167.2 223.5)"/><ellipse cx="122.3" cy="228.6" rx="2.4" ry="1.9" transform="rotate(33 122.3 228.6)"/><ellipse cx="117.6" cy="235.3" rx="2.6" ry="1.9" transform="rotate(38 117.6 235.3)"/><ellipse cx="144" cy="205.9" rx="2.7" ry="1.5" transform="rotate(25 144 205.9)"/><ellipse cx="141.4" cy="230" rx="2.4" ry="1.7" transform="rotate(47 141.4 230)"/><ellipse cx="159.3" cy="207" rx="2.6" ry="1.9" transform="rotate(35 159.3 207)"/><ellipse cx="155.5" cy="204.5" rx="2.9" ry="1.5" transform="rotate(-30 155.5 204.5)"/><ellipse cx="161.6" cy="225.1" rx="2.9" ry="2.1" transform="rotate(-8 161.6 225.1)"/><ellipse cx="143.3" cy="216.4" rx="2.6" ry="2" transform="rotate(24 143.3 216.4)"/><ellipse cx="108.7" cy="229.9" rx="2.9" ry="1.9" transform="rotate(-25 108.7 229.9)"/><ellipse cx="134.1" cy="223" rx="2.8" ry="1.9" transform="rotate(-7 134.1 223)"/><ellipse cx="124.2" cy="221.1" rx="2.4" ry="1.8" transform="rotate(-1 124.2 221.1)"/><ellipse cx="149.2" cy="220.1" rx="2.5" ry="1.5" transform="rotate(37 149.2 220.1)"/><ellipse cx="165.8" cy="239.2" rx="2.3" ry="1.6" transform="rotate(40 165.8 239.2)"/><ellipse cx="135.1" cy="243.5" rx="2.5" ry="1.9" transform="rotate(4 135.1 243.5)"/><ellipse cx="180.9" cy="225.5" rx="3" ry="2.2" transform="rotate(16 180.9 225.5)"/></g>
<g fill="#d08848" stroke="#b86c38" stroke-width="0.4"><ellipse cx="121.5" cy="207.1" rx="2.1" ry="1.8" transform="rotate(-35 121.5 207.1)"/><ellipse cx="120.4" cy="224.5" rx="2.4" ry="1.5" transform="rotate(46 120.4 224.5)"/><ellipse cx="165.3" cy="235.3" rx="2.3" ry="2.2" transform="rotate(-13 165.3 235.3)"/><ellipse cx="149.5" cy="212.5" rx="2.6" ry="1.8" transform="rotate(-37 149.5 212.5)"/><ellipse cx="125.7" cy="210.7" rx="2.3" ry="2" transform="rotate(26 125.7 210.7)"/><ellipse cx="146.3" cy="220.6" rx="2.5" ry="1.8" transform="rotate(48 146.3 220.6)"/><ellipse cx="134.4" cy="204.5" rx="2.8" ry="1.4" transform="rotate(-25 134.4 204.5)"/><ellipse cx="151.9" cy="220.1" rx="2.6" ry="1.5" transform="rotate(12 151.9 220.1)"/><ellipse cx="159.1" cy="222.8" rx="1.9" ry="1.6" transform="rotate(45 159.1 222.8)"/><ellipse cx="172.8" cy="225.9" rx="2.8" ry="1.8" transform="rotate(13 172.8 225.9)"/><ellipse cx="135.3" cy="234.9" rx="2" ry="1.7" transform="rotate(-1 135.3 234.9)"/><ellipse cx="163.3" cy="235.3" rx="2.6" ry="2.1" transform="rotate(-32 163.3 235.3)"/><ellipse cx="125" cy="219.5" rx="1.9" ry="1.5" transform="rotate(-19 125 219.5)"/><ellipse cx="124.6" cy="230" rx="2.6" ry="1.4" transform="rotate(-30 124.6 230)"/><ellipse cx="150.3" cy="216.6" rx="2.6" ry="1.8" transform="rotate(-49 150.3 216.6)"/><ellipse cx="139.2" cy="241.2" rx="2.4" ry="1.6" transform="rotate(-28 139.2 241.2)"/><ellipse cx="172.6" cy="219.4" rx="2.7" ry="2" transform="rotate(39 172.6 219.4)"/><ellipse cx="160.1" cy="206.5" rx="2.3" ry="1.8" transform="rotate(28 160.1 206.5)"/><ellipse cx="170.5" cy="232.9" rx="2.4" ry="2.2" transform="rotate(1 170.5 232.9)"/><ellipse cx="148.9" cy="217.6" rx="2.3" ry="2.1" transform="rotate(-44 148.9 217.6)"/><ellipse cx="166" cy="233.3" rx="2.2" ry="1.7" transform="rotate(-38 166 233.3)"/><ellipse cx="130.5" cy="214.9" rx="2" ry="1.8" transform="rotate(-6 130.5 214.9)"/><ellipse cx="138.3" cy="217.2" rx="2" ry="2" transform="rotate(9 138.3 217.2)"/><ellipse cx="105.7" cy="220.5" rx="2.2" ry="1.8" transform="rotate(40 105.7 220.5)"/><ellipse cx="150" cy="208.4" rx="2.9" ry="1.7" transform="rotate(-38 150 208.4)"/><ellipse cx="136.2" cy="215.6" rx="2.1" ry="1.9" transform="rotate(-42 136.2 215.6)"/><ellipse cx="118.5" cy="209.4" rx="2.6" ry="1.7" transform="rotate(-27 118.5 209.4)"/><ellipse cx="156.5" cy="204.9" rx="2.8" ry="1.7" transform="rotate(21 156.5 204.9)"/><ellipse cx="143.2" cy="233.1" rx="2.5" ry="1.6" transform="rotate(-46 143.2 233.1)"/><ellipse cx="148.7" cy="239.7" rx="2.8" ry="1.8" transform="rotate(-47 148.7 239.7)"/><ellipse cx="125" cy="236.8" rx="3" ry="2" transform="rotate(-14 125 236.8)"/><ellipse cx="142.7" cy="216.5" rx="2.6" ry="1.8" transform="rotate(12 142.7 216.5)"/><ellipse cx="142.3" cy="223.5" rx="2.9" ry="1.9" transform="rotate(-36 142.3 223.5)"/><ellipse cx="131.3" cy="229.5" rx="2.7" ry="1.4" transform="rotate(3 131.3 229.5)"/><ellipse cx="163" cy="216.1" rx="2.8" ry="2.2" transform="rotate(-7 163 216.1)"/><ellipse cx="129.6" cy="206.9" rx="2.5" ry="1.7" transform="rotate(50 129.6 206.9)"/><ellipse cx="131.2" cy="212.1" rx="2.3" ry="1.6" transform="rotate(-46 131.2 212.1)"/><ellipse cx="138" cy="230.5" rx="2.9" ry="1.8" transform="rotate(28 138 230.5)"/><ellipse cx="125.2" cy="240.1" rx="2.9" ry="1.9" transform="rotate(-25 125.2 240.1)"/><ellipse cx="142" cy="210.5" rx="3" ry="2.1" transform="rotate(25 142 210.5)"/><ellipse cx="124.6" cy="236.1" rx="2.9" ry="1.8" transform="rotate(-24 124.6 236.1)"/><ellipse cx="160.6" cy="216.4" rx="2" ry="1.6" transform="rotate(9 160.6 216.4)"/><ellipse cx="139.7" cy="204.3" rx="2.1" ry="1.5" transform="rotate(3 139.7 204.3)"/><ellipse cx="137.9" cy="218.5" rx="2.6" ry="1.8" transform="rotate(-16 137.9 218.5)"/><ellipse cx="113.5" cy="221.9" rx="2.8" ry="1.9" transform="rotate(3 113.5 221.9)"/><ellipse cx="131.2" cy="225.5" rx="2.7" ry="1.6" transform="rotate(23 131.2 225.5)"/><ellipse cx="115" cy="227.9" rx="2.2" ry="2" transform="rotate(-32 115 227.9)"/><ellipse cx="170.9" cy="231.5" rx="2.7" ry="1.9" transform="rotate(48 170.9 231.5)"/><ellipse cx="179.6" cy="222.7" rx="2.4" ry="1.6" transform="rotate(18 179.6 222.7)"/><ellipse cx="142.7" cy="202.2" rx="2.5" ry="1.7" transform="rotate(-1 142.7 202.2)"/><ellipse cx="168.2" cy="239.7" rx="2.2" ry="1.9" transform="rotate(2 168.2 239.7)"/><ellipse cx="152.2" cy="243" rx="2.4" ry="1.4" transform="rotate(36 152.2 243)"/><ellipse cx="102.5" cy="222.7" rx="2.4" ry="1.9" transform="rotate(-1 102.5 222.7)"/><ellipse cx="121.4" cy="242.5" rx="2.1" ry="1.6" transform="rotate(49 121.4 242.5)"/><ellipse cx="159.1" cy="203.4" rx="2.5" ry="1.6" transform="rotate(-24 159.1 203.4)"/></g>
<g fill="#c87840" stroke="#b86c38" stroke-width="0.4"><ellipse cx="116.2" cy="214.6" rx="2.3" ry="2.2" transform="rotate(31 116.2 214.6)"/><ellipse cx="130.4" cy="206.3" rx="2.9" ry="2.1" transform="rotate(-19 130.4 206.3)"/><ellipse cx="116.5" cy="234.3" rx="2.2" ry="1.5" transform="rotate(44 116.5 234.3)"/><ellipse cx="121.9" cy="211.3" rx="2.3" ry="1.9" transform="rotate(5 121.9 211.3)"/><ellipse cx="168" cy="227.3" rx="2.3" ry="1.5" transform="rotate(-40 168 227.3)"/><ellipse cx="110.3" cy="224.7" rx="2.6" ry="1.8" transform="rotate(-49 110.3 224.7)"/><ellipse cx="117" cy="209" rx="2.8" ry="1.9" transform="rotate(8 117 209)"/><ellipse cx="148.8" cy="230" rx="2.3" ry="1.5" transform="rotate(-44 148.8 230)"/><ellipse cx="170.7" cy="217.9" rx="2.1" ry="1.7" transform="rotate(6 170.7 217.9)"/><ellipse cx="121.6" cy="222.6" rx="2.1" ry="1.4" transform="rotate(-34 121.6 222.6)"/><ellipse cx="170.5" cy="219" rx="2.3" ry="1.6" transform="rotate(24 170.5 219)"/><ellipse cx="170.4" cy="221.3" rx="2.5" ry="1.7" transform="rotate(0 170.4 221.3)"/><ellipse cx="148.7" cy="215.5" rx="2.3" ry="1.5" transform="rotate(-3 148.7 215.5)"/><ellipse cx="161.6" cy="208.9" rx="2.5" ry="1.5" transform="rotate(22 161.6 208.9)"/><ellipse cx="115.5" cy="219.5" rx="2" ry="1.4" transform="rotate(10 115.5 219.5)"/><ellipse cx="139.8" cy="205.7" rx="2.4" ry="1.7" transform="rotate(10 139.8 205.7)"/><ellipse cx="117.9" cy="222" rx="2.9" ry="1.6" transform="rotate(22 117.9 222)"/><ellipse cx="156.6" cy="204.6" rx="2.1" ry="1.6" transform="rotate(-37 156.6 204.6)"/><ellipse cx="119.8" cy="213" rx="2.4" ry="1.6" transform="rotate(1 119.8 213)"/><ellipse cx="124.9" cy="211.3" rx="2.8" ry="1.6" transform="rotate(13 124.9 211.3)"/><ellipse cx="122.9" cy="223.4" rx="2.1" ry="1.6" transform="rotate(2 122.9 223.4)"/><ellipse cx="149.9" cy="231" rx="2.6" ry="1.7" transform="rotate(-10 149.9 231)"/><ellipse cx="156.4" cy="240.8" rx="2.4" ry="1.6" transform="rotate(-14 156.4 240.8)"/><ellipse cx="169.3" cy="214.2" rx="2.5" ry="1.5" transform="rotate(-41 169.3 214.2)"/><ellipse cx="148.5" cy="203.2" rx="2.3" ry="1.4" transform="rotate(-23 148.5 203.2)"/><ellipse cx="144.3" cy="220" rx="2.3" ry="1.9" transform="rotate(-19 144.3 220)"/><ellipse cx="105.9" cy="225.3" rx="3" ry="1.8" transform="rotate(48 105.9 225.3)"/><ellipse cx="137.4" cy="216.3" rx="2.5" ry="1.8" transform="rotate(49 137.4 216.3)"/><ellipse cx="156.2" cy="224.3" rx="2.9" ry="1.7" transform="rotate(14 156.2 224.3)"/><ellipse cx="136.1" cy="232.5" rx="2.2" ry="1.6" transform="rotate(18 136.1 232.5)"/><ellipse cx="160.5" cy="221.8" rx="2.8" ry="1.6" transform="rotate(32 160.5 221.8)"/><ellipse cx="146.7" cy="231.3" rx="3" ry="1.6" transform="rotate(38 146.7 231.3)"/><ellipse cx="152.9" cy="231" rx="2.3" ry="1.8" transform="rotate(17 152.9 231)"/><ellipse cx="118" cy="224.5" rx="2.3" ry="1.8" transform="rotate(7 118 224.5)"/><ellipse cx="160.2" cy="206.1" rx="2.1" ry="1.5" transform="rotate(7 160.2 206.1)"/><ellipse cx="140.2" cy="241.6" rx="2.1" ry="1.8" transform="rotate(-12 140.2 241.6)"/><ellipse cx="158" cy="219.8" rx="2.2" ry="1.5" transform="rotate(-14 158 219.8)"/><ellipse cx="157.2" cy="240.1" rx="2.5" ry="1.5" transform="rotate(-23 157.2 240.1)"/><ellipse cx="170.9" cy="220.6" rx="3.1" ry="1.6" transform="rotate(4 170.9 220.6)"/><ellipse cx="167" cy="223.6" rx="2.3" ry="1.5" transform="rotate(-23 167 223.6)"/><ellipse cx="156.3" cy="224.3" rx="2.2" ry="2.1" transform="rotate(-35 156.3 224.3)"/><ellipse cx="143.4" cy="233.3" rx="2.3" ry="1.5" transform="rotate(16 143.4 233.3)"/><ellipse cx="174.9" cy="236" rx="2.7" ry="1.7" transform="rotate(-16 174.9 236)"/><ellipse cx="171.1" cy="208.5" rx="2.9" ry="1.9" transform="rotate(-29 171.1 208.5)"/><ellipse cx="166.3" cy="207.3" rx="2" ry="1.6" transform="rotate(-42 166.3 207.3)"/></g>
<g fill="#e8a868" stroke="#b86c38" stroke-width="0.4"><ellipse cx="118.4" cy="219.9" rx="2.5" ry="1.8" transform="rotate(-2 118.4 219.9)"/><ellipse cx="113" cy="224.2" rx="2.7" ry="2" transform="rotate(25 113 224.2)"/><ellipse cx="152.2" cy="211" rx="2.4" ry="1.5" transform="rotate(35 152.2 211)"/><ellipse cx="172.7" cy="225.6" rx="3" ry="1.6" transform="rotate(43 172.7 225.6)"/><ellipse cx="163.3" cy="216.5" rx="2.6" ry="1.9" transform="rotate(-23 163.3 216.5)"/><ellipse cx="138.4" cy="221.9" rx="2.7" ry="1.5" transform="rotate(48 138.4 221.9)"/><ellipse cx="132.8" cy="233.3" rx="2.5" ry="2.2" transform="rotate(16 132.8 233.3)"/><ellipse cx="150" cy="238.4" rx="2.6" ry="1.6" transform="rotate(-17 150 238.4)"/><ellipse cx="169.2" cy="210.8" rx="2.1" ry="1.9" transform="rotate(-5 169.2 210.8)"/><ellipse cx="148.5" cy="224.1" rx="2.5" ry="1.6" transform="rotate(30 148.5 224.1)"/><ellipse cx="121" cy="216.1" rx="2.6" ry="1.8" transform="rotate(-23 121 216.1)"/><ellipse cx="142.1" cy="224.5" rx="2.3" ry="1.8" transform="rotate(-47 142.1 224.5)"/><ellipse cx="139.3" cy="231.7" rx="2.4" ry="1.4" transform="rotate(15 139.3 231.7)"/><ellipse cx="167.5" cy="229.5" rx="2.7" ry="1.5" transform="rotate(-34 167.5 229.5)"/><ellipse cx="140.7" cy="215.9" rx="2.4" ry="1.8" transform="rotate(-13 140.7 215.9)"/><ellipse cx="115.3" cy="225.8" rx="3" ry="2.1" transform="rotate(40 115.3 225.8)"/><ellipse cx="144.2" cy="213.5" rx="2.5" ry="1.7" transform="rotate(-47 144.2 213.5)"/><ellipse cx="130.8" cy="221.3" rx="2.6" ry="2" transform="rotate(2 130.8 221.3)"/><ellipse cx="129.9" cy="239.1" rx="2.3" ry="1.8" transform="rotate(20 129.9 239.1)"/><ellipse cx="157.1" cy="225.6" rx="2.8" ry="2.1" transform="rotate(-35 157.1 225.6)"/><ellipse cx="161.2" cy="234.7" rx="3" ry="2.2" transform="rotate(-11 161.2 234.7)"/><ellipse cx="161.1" cy="209.2" rx="3" ry="1.9" transform="rotate(-19 161.1 209.2)"/><ellipse cx="141.1" cy="216.1" rx="1.9" ry="1.4" transform="rotate(-9 141.1 216.1)"/><ellipse cx="129" cy="231.4" rx="3" ry="2.2" transform="rotate(47 129 231.4)"/><ellipse cx="157.1" cy="206.4" rx="2.1" ry="1.6" transform="rotate(-28 157.1 206.4)"/><ellipse cx="138.9" cy="220.7" rx="2.4" ry="1.9" transform="rotate(-10 138.9 220.7)"/><ellipse cx="133.5" cy="226.9" rx="2.5" ry="1.8" transform="rotate(39 133.5 226.9)"/><ellipse cx="115.7" cy="223.3" rx="2.1" ry="1.4" transform="rotate(-13 115.7 223.3)"/><ellipse cx="124.5" cy="238.9" rx="2.5" ry="1.8" transform="rotate(-27 124.5 238.9)"/><ellipse cx="114.3" cy="208.6" rx="2.6" ry="2.1" transform="rotate(32 114.3 208.6)"/><ellipse cx="105.5" cy="228.7" rx="2.1" ry="1.8" transform="rotate(34 105.5 228.7)"/><ellipse cx="174.4" cy="235.7" rx="2.3" ry="1.5" transform="rotate(26 174.4 235.7)"/><ellipse cx="177.9" cy="224.5" rx="2.1" ry="1.6" transform="rotate(-30 177.9 224.5)"/><ellipse cx="178.9" cy="233.3" rx="2.8" ry="2.2" transform="rotate(20 178.9 233.3)"/><ellipse cx="105.9" cy="213.9" rx="2.8" ry="2" transform="rotate(34 105.9 213.9)"/><ellipse cx="155.4" cy="243.1" rx="2.1" ry="1.8" transform="rotate(-4 155.4 243.1)"/></g>
<g fill="#d89050" stroke="#b86c38" stroke-width="0.4"><ellipse cx="110.4" cy="227.2" rx="2.2" ry="2" transform="rotate(20 110.4 227.2)"/><ellipse cx="122.4" cy="212.9" rx="2" ry="1.8" transform="rotate(-3 122.4 212.9)"/><ellipse cx="125.6" cy="231.2" rx="2.5" ry="1.9" transform="rotate(4 125.6 231.2)"/><ellipse cx="110" cy="221.5" rx="2.6" ry="2.1" transform="rotate(-2 110 221.5)"/><ellipse cx="136.6" cy="210.3" rx="2.4" ry="2" transform="rotate(-32 136.6 210.3)"/><ellipse cx="166.1" cy="231.3" rx="2.6" ry="1.4" transform="rotate(39 166.1 231.3)"/><ellipse cx="122.5" cy="227" rx="2.2" ry="1.4" transform="rotate(-29 122.5 227)"/><ellipse cx="158.5" cy="226.8" rx="3" ry="2" transform="rotate(43 158.5 226.8)"/><ellipse cx="175.2" cy="229.7" rx="1.9" ry="1.7" transform="rotate(-21 175.2 229.7)"/><ellipse cx="163.9" cy="234.3" rx="2.9" ry="2" transform="rotate(5 163.9 234.3)"/><ellipse cx="116" cy="227.3" rx="2.6" ry="2" transform="rotate(4 116 227.3)"/><ellipse cx="109.8" cy="230.8" rx="2.5" ry="1.3" transform="rotate(27 109.8 230.8)"/><ellipse cx="171.2" cy="224.8" rx="2.6" ry="2.1" transform="rotate(1 171.2 224.8)"/><ellipse cx="126.6" cy="237.7" rx="2.5" ry="1.8" transform="rotate(29 126.6 237.7)"/><ellipse cx="149.7" cy="218.7" rx="2.3" ry="1.4" transform="rotate(31 149.7 218.7)"/><ellipse cx="126.4" cy="240.1" rx="2.8" ry="1.6" transform="rotate(9 126.4 240.1)"/><ellipse cx="133.9" cy="218.5" rx="2.3" ry="1.3" transform="rotate(44 133.9 218.5)"/><ellipse cx="139.8" cy="228.6" rx="2.3" ry="1.4" transform="rotate(3 139.8 228.6)"/><ellipse cx="124" cy="238.1" rx="2.4" ry="1.7" transform="rotate(-46 124 238.1)"/><ellipse cx="145.4" cy="230.8" rx="2.2" ry="1.7" transform="rotate(41 145.4 230.8)"/><ellipse cx="132.1" cy="236.9" rx="2.6" ry="1.6" transform="rotate(41 132.1 236.9)"/><ellipse cx="126.6" cy="228.9" rx="2.7" ry="2.1" transform="rotate(48 126.6 228.9)"/><ellipse cx="158.6" cy="235.8" rx="1.9" ry="1.7" transform="rotate(-17 158.6 235.8)"/><ellipse cx="152.7" cy="230.9" rx="2.3" ry="1.5" transform="rotate(-47 152.7 230.9)"/><ellipse cx="156.8" cy="222.9" rx="2.5" ry="1.9" transform="rotate(-36 156.8 222.9)"/><ellipse cx="164.4" cy="214.9" rx="2.7" ry="1.9" transform="rotate(10 164.4 214.9)"/><ellipse cx="149.1" cy="230" rx="2.7" ry="1.9" transform="rotate(20 149.1 230)"/><ellipse cx="146.2" cy="211.1" rx="2.2" ry="1.8" transform="rotate(-28 146.2 211.1)"/><ellipse cx="118.8" cy="208.5" rx="2.8" ry="1.6" transform="rotate(-24 118.8 208.5)"/><ellipse cx="173.5" cy="230.1" rx="2.4" ry="1.7" transform="rotate(41 173.5 230.1)"/><ellipse cx="118.1" cy="236" rx="2.8" ry="1.6" transform="rotate(-24 118.1 236)"/><ellipse cx="163.4" cy="209.5" rx="2.9" ry="1.6" transform="rotate(13 163.4 209.5)"/><ellipse cx="135" cy="207.6" rx="2.6" ry="1.7" transform="rotate(-32 135 207.6)"/><ellipse cx="115.9" cy="230" rx="2.4" ry="1.7" transform="rotate(15 115.9 230)"/><ellipse cx="123.1" cy="216.4" rx="2.3" ry="2" transform="rotate(-41 123.1 216.4)"/><ellipse cx="138.9" cy="207.8" rx="3" ry="1.6" transform="rotate(-41 138.9 207.8)"/><ellipse cx="125.3" cy="219.7" rx="2.4" ry="1.4" transform="rotate(-33 125.3 219.7)"/><ellipse cx="116.6" cy="222.3" rx="2.2" ry="1.8" transform="rotate(-17 116.6 222.3)"/><ellipse cx="136.7" cy="242" rx="2" ry="1.6" transform="rotate(-24 136.7 242)"/><ellipse cx="121.6" cy="210.4" rx="2.4" ry="1.7" transform="rotate(15 121.6 210.4)"/><ellipse cx="118.6" cy="216.3" rx="1.9" ry="1.9" transform="rotate(-31 118.6 216.3)"/><ellipse cx="158.9" cy="229.8" rx="2.3" ry="1.4" transform="rotate(-3 158.9 229.8)"/><ellipse cx="158.5" cy="212.7" rx="2.8" ry="1.5" transform="rotate(28 158.5 212.7)"/><ellipse cx="116.6" cy="221.2" rx="2.5" ry="1.6" transform="rotate(-9 116.6 221.2)"/><ellipse cx="112.6" cy="213.2" rx="2.5" ry="1.7" transform="rotate(-9 112.6 213.2)"/><ellipse cx="113.5" cy="209.9" rx="2.2" ry="1.7" transform="rotate(-2 113.5 209.9)"/><ellipse cx="122.7" cy="213.4" rx="2.1" ry="1.8" transform="rotate(-28 122.7 213.4)"/><ellipse cx="121.6" cy="207.1" rx="2.4" ry="2" transform="rotate(18 121.6 207.1)"/><ellipse cx="136.4" cy="221.7" rx="2.7" ry="1.9" transform="rotate(-11 136.4 221.7)"/><ellipse cx="135" cy="244.3" rx="2.7" ry="2.1" transform="rotate(44 135 244.3)"/><ellipse cx="179.6" cy="231.1" rx="2.7" ry="2" transform="rotate(23 179.6 231.1)"/><ellipse cx="168.7" cy="209.3" rx="2.4" ry="1.6" transform="rotate(-8 168.7 209.3)"/><ellipse cx="168.5" cy="209.2" rx="2.3" ry="1.9" transform="rotate(1 168.5 209.2)"/></g>
<g fill="#e0a060" stroke="#b86c38" stroke-width="0.4"><ellipse cx="143.6" cy="221.8" rx="2.4" ry="1.6" transform="rotate(-10 143.6 221.8)"/><ellipse cx="118.5" cy="219.5" rx="1.9" ry="1.6" transform="rotate(-2 118.5 219.5)"/><ellipse cx="175.2" cy="229.1" rx="2.8" ry="1.8" transform="rotate(34 175.2 229.1)"/><ellipse cx="128.9" cy="229.3" rx="2.3" ry="1.6" transform="rotate(31 128.9 229.3)"/><ellipse cx="127.3" cy="219.8" rx="2.5" ry="1.7" transform="rotate(-49 127.3 219.8)"/><ellipse cx="153.4" cy="205.4" rx="2" ry="1.7" transform="rotate(-45 153.4 205.4)"/><ellipse cx="134.8" cy="231.4" rx="2.2" ry="1.5" transform="rotate(12 134.8 231.4)"/><ellipse cx="152" cy="207.8" rx="2.5" ry="1.6" transform="rotate(48 152 207.8)"/><ellipse cx="166.7" cy="217.3" rx="2.6" ry="1.7" transform="rotate(-38 166.7 217.3)"/><ellipse cx="153.9" cy="238.3" rx="2" ry="1.8" transform="rotate(34 153.9 238.3)"/><ellipse cx="139.5" cy="238.5" rx="1.9" ry="1.4" transform="rotate(20 139.5 238.5)"/><ellipse cx="133.4" cy="226.3" rx="2.7" ry="1.8" transform="rotate(29 133.4 226.3)"/><ellipse cx="169.9" cy="231.1" rx="2.3" ry="1.9" transform="rotate(40 169.9 231.1)"/><ellipse cx="159.8" cy="237.5" rx="2.2" ry="1.4" transform="rotate(30 159.8 237.5)"/><ellipse cx="124.4" cy="233.2" rx="2.7" ry="1.6" transform="rotate(-41 124.4 233.2)"/><ellipse cx="154.1" cy="213.5" rx="2.2" ry="1.6" transform="rotate(-47 154.1 213.5)"/><ellipse cx="153.8" cy="213.5" rx="3" ry="1.7" transform="rotate(48 153.8 213.5)"/><ellipse cx="140.8" cy="204.7" rx="2.3" ry="1.6" transform="rotate(-38 140.8 204.7)"/><ellipse cx="137.1" cy="232.7" rx="2.8" ry="2" transform="rotate(43 137.1 232.7)"/><ellipse cx="121.8" cy="216.3" rx="2.5" ry="1.3" transform="rotate(-28 121.8 216.3)"/><ellipse cx="158" cy="240.1" rx="3.1" ry="1.7" transform="rotate(-47 158 240.1)"/><ellipse cx="174.9" cy="230.4" rx="2.2" ry="1.6" transform="rotate(24 174.9 230.4)"/><ellipse cx="145.1" cy="211.9" rx="2.1" ry="1.9" transform="rotate(5 145.1 211.9)"/><ellipse cx="133.1" cy="212.7" rx="2.7" ry="1.5" transform="rotate(27 133.1 212.7)"/><ellipse cx="140.3" cy="240.5" rx="2.4" ry="2" transform="rotate(-48 140.3 240.5)"/><ellipse cx="125.2" cy="208" rx="2.4" ry="1.7" transform="rotate(7 125.2 208)"/><ellipse cx="153.5" cy="238.6" rx="2.1" ry="1.9" transform="rotate(29 153.5 238.6)"/><ellipse cx="165.5" cy="231.4" rx="2.8" ry="1.6" transform="rotate(-4 165.5 231.4)"/><ellipse cx="142.5" cy="234.1" rx="2.3" ry="1.7" transform="rotate(-6 142.5 234.1)"/><ellipse cx="130.2" cy="219.9" rx="2.3" ry="2" transform="rotate(-39 130.2 219.9)"/><ellipse cx="109.1" cy="231.5" rx="1.9" ry="1.4" transform="rotate(-19 109.1 231.5)"/><ellipse cx="132.7" cy="205.8" rx="3.1" ry="1.8" transform="rotate(10 132.7 205.8)"/><ellipse cx="156.1" cy="220.1" rx="3" ry="1.8" transform="rotate(14 156.1 220.1)"/><ellipse cx="123.8" cy="230.6" rx="2.7" ry="1.9" transform="rotate(-12 123.8 230.6)"/><ellipse cx="155.2" cy="218.6" rx="2.2" ry="1.9" transform="rotate(-24 155.2 218.6)"/><ellipse cx="148.5" cy="231.9" rx="3" ry="2.2" transform="rotate(-4 148.5 231.9)"/><ellipse cx="135.8" cy="232.7" rx="2.4" ry="1.5" transform="rotate(32 135.8 232.7)"/><ellipse cx="123.3" cy="207.5" rx="2.9" ry="1.8" transform="rotate(6 123.3 207.5)"/><ellipse cx="136.5" cy="241.8" rx="2.2" ry="1.9" transform="rotate(-40 136.5 241.8)"/><ellipse cx="133.5" cy="209.7" rx="2.5" ry="1.5" transform="rotate(-23 133.5 209.7)"/><ellipse cx="136.4" cy="218.9" rx="2.2" ry="1.5" transform="rotate(-34 136.4 218.9)"/><ellipse cx="150.9" cy="213.4" rx="2.6" ry="1.8" transform="rotate(8 150.9 213.4)"/><ellipse cx="168.8" cy="230.1" rx="2.5" ry="1.7" transform="rotate(-25 168.8 230.1)"/><ellipse cx="142.3" cy="229" rx="2.6" ry="1.9" transform="rotate(-3 142.3 229)"/><ellipse cx="106.3" cy="212.5" rx="2.1" ry="1.6" transform="rotate(6 106.3 212.5)"/><ellipse cx="115.4" cy="206.1" rx="3" ry="1.8" transform="rotate(-37 115.4 206.1)"/><ellipse cx="177.9" cy="225.9" rx="2.5" ry="1.9" transform="rotate(20 177.9 225.9)"/><ellipse cx="106.4" cy="212.3" rx="2.2" ry="2" transform="rotate(-0 106.4 212.3)"/><ellipse cx="105.6" cy="215.8" rx="2.2" ry="1.6" transform="rotate(-33 105.6 215.8)"/><ellipse cx="121.5" cy="243.5" rx="2.3" ry="1.7" transform="rotate(49 121.5 243.5)"/></g></g>
<path d="M211 215.6Q212.5 215.4 214 217.5L221 228Q222 230.8 219 230.8H203Q200 230.8 201.2 228L208 217.5Q209.5 215.4 211 215.6Z" fill="url(#tri)"/><g fill="#b07840" opacity="0.7"><circle cx="207" cy="226" r="0.6"/><circle cx="211" cy="222" r="0.6"/><circle cx="215" cy="227" r="0.6"/><circle cx="212" cy="228.5" r="0.5"/><circle cx="209.5" cy="219.5" r="0.5"/><circle cx="217" cy="224.5" r="0.5"/></g>
<g transform="matrix(0.9708 0 0 0.8456 2.20 45.37)"><path d="M9.0 303.0C9.2 301.3 12.8 300.5 16.0 299.0C19.2 297.5 24.3 295.5 28.0 294.0C31.7 292.5 35.0 291.2 38.0 290.0C41.0 288.8 43.3 287.0 46.0 286.5C48.7 286.0 51.0 286.2 54.0 287.0C57.0 287.8 60.3 289.3 64.0 291.0C67.7 292.7 72.0 295.2 76.0 297.0C80.0 298.8 84.7 300.3 88.0 302.0C91.3 303.7 95.3 305.5 96.0 307.0C96.7 308.5 94.7 309.8 92.0 311.0C89.3 312.2 84.5 313.2 80.0 314.0C75.5 314.8 70.0 315.6 65.0 316.0C60.0 316.4 55.8 316.8 50.0 316.5C44.2 316.2 35.8 315.2 30.0 314.0C24.2 312.8 18.5 310.8 15.0 309.0C11.5 307.2 8.8 304.7 9.0 303.0Z" fill="#9a7456"/>
<g fill="#b48a64" stroke="#7e5a3e" stroke-width="0.45"><ellipse cx="47.7" cy="290.5" rx="3.5" ry="2.8" transform="rotate(-20 47.7 290.5)"/><ellipse cx="50.9" cy="307.6" rx="2.6" ry="1.9" transform="rotate(-27 50.9 307.6)"/><ellipse cx="32.8" cy="300.6" rx="3.4" ry="3.1" transform="rotate(-38 32.8 300.6)"/><ellipse cx="9.2" cy="303.1" rx="3.9" ry="2.4" transform="rotate(26 9.2 303.1)"/><ellipse cx="55.8" cy="299.3" rx="3.4" ry="2.2" transform="rotate(-8 55.8 299.3)"/><ellipse cx="80.3" cy="310.3" rx="4" ry="2.7" transform="rotate(15 80.3 310.3)"/><ellipse cx="51.6" cy="297.1" rx="4" ry="2.3" transform="rotate(16 51.6 297.1)"/><ellipse cx="24.6" cy="307.9" rx="3.3" ry="2.3" transform="rotate(13 24.6 307.9)"/><ellipse cx="91.8" cy="306.9" rx="3.5" ry="2.5" transform="rotate(-5 91.8 306.9)"/><ellipse cx="49.2" cy="292.2" rx="3.5" ry="2.9" transform="rotate(37 49.2 292.2)"/><ellipse cx="81.7" cy="311.6" rx="3.5" ry="2.7" transform="rotate(4 81.7 311.6)"/><ellipse cx="46.3" cy="303.8" rx="2.8" ry="2.4" transform="rotate(5 46.3 303.8)"/><ellipse cx="21.5" cy="307.1" rx="3.4" ry="2.4" transform="rotate(39 21.5 307.1)"/><ellipse cx="31.8" cy="306.8" rx="3.3" ry="2.3" transform="rotate(12 31.8 306.8)"/><ellipse cx="56.2" cy="308.7" rx="3" ry="2.5" transform="rotate(35 56.2 308.7)"/><ellipse cx="59.8" cy="311.3" rx="3.3" ry="2.7" transform="rotate(39 59.8 311.3)"/><ellipse cx="47.8" cy="314.7" rx="3.3" ry="2.4" transform="rotate(37 47.8 314.7)"/><ellipse cx="55.3" cy="315.6" rx="3.9" ry="2.3" transform="rotate(46 55.3 315.6)"/><ellipse cx="39.6" cy="293.9" rx="4.2" ry="3.2" transform="rotate(40 39.6 293.9)"/><ellipse cx="51.6" cy="287.6" rx="3.2" ry="2" transform="rotate(8 51.6 287.6)"/><ellipse cx="21.8" cy="299" rx="4.2" ry="3.3" transform="rotate(23 21.8 299)"/><ellipse cx="68.1" cy="302.2" rx="3.5" ry="2.3" transform="rotate(-13 68.1 302.2)"/><ellipse cx="61.7" cy="303.4" rx="3.3" ry="2.4" transform="rotate(6 61.7 303.4)"/><ellipse cx="88.2" cy="304.9" rx="2.9" ry="2.4" transform="rotate(28 88.2 304.9)"/><ellipse cx="34.6" cy="310.4" rx="3.5" ry="2.3" transform="rotate(-17 34.6 310.4)"/><ellipse cx="64.1" cy="309.5" rx="2.8" ry="2.2" transform="rotate(27 64.1 309.5)"/><ellipse cx="60.9" cy="293.8" rx="3.6" ry="2.6" transform="rotate(-41 60.9 293.8)"/><ellipse cx="61.7" cy="315.5" rx="3.1" ry="2.6" transform="rotate(-28 61.7 315.5)"/><ellipse cx="86.7" cy="305" rx="3.4" ry="2.9" transform="rotate(-8 86.7 305)"/><ellipse cx="86.7" cy="303" rx="3.5" ry="2.1" transform="rotate(47 86.7 303)"/><ellipse cx="58.3" cy="317" rx="3.6" ry="2.3" transform="rotate(29 58.3 317)"/></g>
<g fill="#c49e7c" stroke="#7e5a3e" stroke-width="0.45"><ellipse cx="65.7" cy="302.4" rx="3.3" ry="3.1" transform="rotate(-41 65.7 302.4)"/><ellipse cx="39.9" cy="295.7" rx="3.3" ry="2.8" transform="rotate(-44 39.9 295.7)"/><ellipse cx="56.4" cy="295.9" rx="3.3" ry="2.4" transform="rotate(-11 56.4 295.9)"/><ellipse cx="38.9" cy="294" rx="3.3" ry="2.7" transform="rotate(-40 38.9 294)"/><ellipse cx="40.7" cy="296.5" rx="3.1" ry="2.4" transform="rotate(15 40.7 296.5)"/><ellipse cx="69.2" cy="308.1" rx="3.7" ry="2.6" transform="rotate(8 69.2 308.1)"/><ellipse cx="22.9" cy="299.7" rx="3.7" ry="2.4" transform="rotate(2 22.9 299.7)"/><ellipse cx="50.7" cy="307.7" rx="3.1" ry="2" transform="rotate(-7 50.7 307.7)"/><ellipse cx="43.1" cy="300.9" rx="3.2" ry="2.3" transform="rotate(-33 43.1 300.9)"/><ellipse cx="65.4" cy="300.7" rx="2.8" ry="2" transform="rotate(-41 65.4 300.7)"/><ellipse cx="65.2" cy="315.1" rx="3.2" ry="2.6" transform="rotate(-33 65.2 315.1)"/><ellipse cx="47.1" cy="292" rx="2.9" ry="2.4" transform="rotate(-40 47.1 292)"/><ellipse cx="56.8" cy="293.1" rx="3.1" ry="1.8" transform="rotate(-19 56.8 293.1)"/><ellipse cx="31.1" cy="309" rx="3.7" ry="2.6" transform="rotate(-19 31.1 309)"/><ellipse cx="41.6" cy="298.1" rx="3.8" ry="2.9" transform="rotate(11 41.6 298.1)"/><ellipse cx="37.2" cy="300.1" rx="3" ry="2.1" transform="rotate(45 37.2 300.1)"/><ellipse cx="49.7" cy="309.8" rx="3.3" ry="2.3" transform="rotate(-4 49.7 309.8)"/><ellipse cx="47.8" cy="305.7" rx="4" ry="2.5" transform="rotate(-33 47.8 305.7)"/><ellipse cx="57.9" cy="296.1" rx="2.8" ry="2.6" transform="rotate(20 57.9 296.1)"/><ellipse cx="10.4" cy="302.3" rx="3" ry="2.6" transform="rotate(20 10.4 302.3)"/><ellipse cx="32.3" cy="304.7" rx="3.2" ry="2.5" transform="rotate(-47 32.3 304.7)"/><ellipse cx="46.8" cy="299.7" rx="3.6" ry="2.4" transform="rotate(-37 46.8 299.7)"/><ellipse cx="62.8" cy="298.5" rx="3.1" ry="2.5" transform="rotate(24 62.8 298.5)"/><ellipse cx="68.4" cy="312.4" rx="3.8" ry="3" transform="rotate(-34 68.4 312.4)"/><ellipse cx="42.9" cy="291.8" rx="4" ry="2.2" transform="rotate(-2 42.9 291.8)"/><ellipse cx="21" cy="302.1" rx="3.2" ry="2.4" transform="rotate(9 21 302.1)"/><ellipse cx="83" cy="305.9" rx="3.4" ry="2.7" transform="rotate(-9 83 305.9)"/><ellipse cx="54.3" cy="286.2" rx="3" ry="2.5" transform="rotate(38 54.3 286.2)"/><ellipse cx="22.7" cy="313.2" rx="3.7" ry="2.5" transform="rotate(23 22.7 313.2)"/><ellipse cx="21.5" cy="296" rx="2.8" ry="2.1" transform="rotate(-19 21.5 296)"/><ellipse cx="45.3" cy="317.6" rx="4" ry="3" transform="rotate(20 45.3 317.6)"/><ellipse cx="95.4" cy="304.9" rx="2.9" ry="2.2" transform="rotate(-27 95.4 304.9)"/></g>
<g fill="#a47454" stroke="#7e5a3e" stroke-width="0.45"><ellipse cx="45.1" cy="314.6" rx="3.5" ry="2.7" transform="rotate(-36 45.1 314.6)"/><ellipse cx="74.7" cy="314.4" rx="4.2" ry="2.6" transform="rotate(19 74.7 314.4)"/><ellipse cx="18.4" cy="309" rx="3.6" ry="2.4" transform="rotate(-38 18.4 309)"/><ellipse cx="78.5" cy="305.3" rx="3.5" ry="3" transform="rotate(9 78.5 305.3)"/><ellipse cx="92.5" cy="305.3" rx="3.7" ry="2.4" transform="rotate(-16 92.5 305.3)"/><ellipse cx="57.7" cy="306.5" rx="3.5" ry="2.4" transform="rotate(29 57.7 306.5)"/><ellipse cx="76" cy="307.2" rx="3.3" ry="2.4" transform="rotate(38 76 307.2)"/><ellipse cx="65" cy="308.6" rx="3.4" ry="2.7" transform="rotate(19 65 308.6)"/><ellipse cx="26.3" cy="297.4" rx="3.3" ry="2.7" transform="rotate(-9 26.3 297.4)"/><ellipse cx="35.3" cy="303.1" rx="4" ry="2.9" transform="rotate(-46 35.3 303.1)"/><ellipse cx="62.2" cy="304.2" rx="3.3" ry="2.1" transform="rotate(-9 62.2 304.2)"/><ellipse cx="56.4" cy="296.7" rx="3.8" ry="2.4" transform="rotate(16 56.4 296.7)"/><ellipse cx="41.7" cy="299.5" rx="2.8" ry="2.3" transform="rotate(44 41.7 299.5)"/><ellipse cx="90.4" cy="310" rx="3.2" ry="2.1" transform="rotate(-19 90.4 310)"/><ellipse cx="81.8" cy="307.3" rx="3.8" ry="2.4" transform="rotate(-43 81.8 307.3)"/><ellipse cx="50.6" cy="303" rx="3.6" ry="2.9" transform="rotate(-9 50.6 303)"/><ellipse cx="57.3" cy="306.3" rx="3.8" ry="2.9" transform="rotate(-12 57.3 306.3)"/><ellipse cx="51.6" cy="314.6" rx="3.7" ry="2.7" transform="rotate(6 51.6 314.6)"/><ellipse cx="57" cy="289.8" rx="3.3" ry="2.5" transform="rotate(2 57 289.8)"/><ellipse cx="40.7" cy="295.9" rx="3.8" ry="2.4" transform="rotate(-22 40.7 295.9)"/><ellipse cx="90.8" cy="305.9" rx="3.7" ry="2.5" transform="rotate(-17 90.8 305.9)"/><ellipse cx="54.4" cy="290.5" rx="2.7" ry="1.8" transform="rotate(43 54.4 290.5)"/><ellipse cx="51.9" cy="294" rx="3.9" ry="2.9" transform="rotate(23 51.9 294)"/><ellipse cx="42" cy="309.6" rx="3.2" ry="2.1" transform="rotate(-50 42 309.6)"/><ellipse cx="53.9" cy="309.4" rx="3.3" ry="2.5" transform="rotate(-8 53.9 309.4)"/><ellipse cx="82.4" cy="313.2" rx="3.6" ry="2.3" transform="rotate(15 82.4 313.2)"/><ellipse cx="57.3" cy="303.4" rx="3.2" ry="2.4" transform="rotate(12 57.3 303.4)"/><ellipse cx="40.8" cy="310.9" rx="3.2" ry="2.6" transform="rotate(9 40.8 310.9)"/><ellipse cx="77.2" cy="296.8" rx="3.2" ry="1.9" transform="rotate(-44 77.2 296.8)"/></g>
<g fill="#bc9474" stroke="#7e5a3e" stroke-width="0.45"><ellipse cx="65.5" cy="313.5" rx="2.7" ry="2.3" transform="rotate(-17 65.5 313.5)"/><ellipse cx="72.6" cy="298.7" rx="2.8" ry="2.1" transform="rotate(40 72.6 298.7)"/><ellipse cx="44.2" cy="303" rx="3.5" ry="2.2" transform="rotate(-19 44.2 303)"/><ellipse cx="53.6" cy="313.3" rx="3.4" ry="2.5" transform="rotate(6 53.6 313.3)"/><ellipse cx="63.8" cy="310.1" rx="3" ry="2.5" transform="rotate(-13 63.8 310.1)"/><ellipse cx="48.5" cy="301.1" rx="3.2" ry="2.7" transform="rotate(7 48.5 301.1)"/><ellipse cx="62.7" cy="314.6" rx="3.4" ry="2.7" transform="rotate(21 62.7 314.6)"/><ellipse cx="55.8" cy="300.5" rx="3.4" ry="2.1" transform="rotate(11 55.8 300.5)"/><ellipse cx="60.8" cy="294.3" rx="4" ry="2.9" transform="rotate(45 60.8 294.3)"/><ellipse cx="82.4" cy="308.1" rx="3.3" ry="2.1" transform="rotate(-7 82.4 308.1)"/><ellipse cx="86.3" cy="302.9" rx="2.6" ry="2.3" transform="rotate(4 86.3 302.9)"/><ellipse cx="50.9" cy="313.9" rx="2.9" ry="2.7" transform="rotate(38 50.9 313.9)"/><ellipse cx="68.4" cy="308.1" rx="3.6" ry="2.6" transform="rotate(-16 68.4 308.1)"/><ellipse cx="38" cy="299.4" rx="3.1" ry="2" transform="rotate(-14 38 299.4)"/><ellipse cx="79.3" cy="312.4" rx="3.4" ry="2.7" transform="rotate(14 79.3 312.4)"/><ellipse cx="84.1" cy="301.7" rx="3.3" ry="2.4" transform="rotate(21 84.1 301.7)"/><ellipse cx="51.8" cy="292.8" rx="3.4" ry="2.4" transform="rotate(14 51.8 292.8)"/><ellipse cx="81.3" cy="305.9" rx="3.5" ry="3.1" transform="rotate(13 81.3 305.9)"/><ellipse cx="86.4" cy="305.1" rx="3.1" ry="2" transform="rotate(8 86.4 305.1)"/><ellipse cx="50" cy="307" rx="3.5" ry="2.6" transform="rotate(-13 50 307)"/><ellipse cx="43.6" cy="288.3" rx="2.9" ry="1.9" transform="rotate(47 43.6 288.3)"/><ellipse cx="15.6" cy="308.4" rx="3.2" ry="2.5" transform="rotate(36 15.6 308.4)"/><ellipse cx="55.9" cy="301.1" rx="3.6" ry="2.9" transform="rotate(-29 55.9 301.1)"/><ellipse cx="65.9" cy="309.3" rx="3.4" ry="2.5" transform="rotate(-31 65.9 309.3)"/><ellipse cx="72.3" cy="307.5" rx="3.5" ry="2.3" transform="rotate(-21 72.3 307.5)"/><ellipse cx="29.5" cy="307.7" rx="3.1" ry="2.4" transform="rotate(-30 29.5 307.7)"/><ellipse cx="89.1" cy="310.4" rx="3.9" ry="3.1" transform="rotate(-45 89.1 310.4)"/><ellipse cx="53.5" cy="304.1" rx="3.2" ry="2.4" transform="rotate(-7 53.5 304.1)"/><ellipse cx="62.1" cy="312.4" rx="4.3" ry="3.1" transform="rotate(-13 62.1 312.4)"/><ellipse cx="41" cy="309.3" rx="3.9" ry="2.9" transform="rotate(-14 41 309.3)"/></g>
<g fill="#ac805e" stroke="#7e5a3e" stroke-width="0.45"><ellipse cx="22.9" cy="310.4" rx="3.3" ry="2.3" transform="rotate(-22 22.9 310.4)"/><ellipse cx="55.4" cy="298.7" rx="3.3" ry="2.4" transform="rotate(-44 55.4 298.7)"/><ellipse cx="45.6" cy="290.7" rx="3.7" ry="2.8" transform="rotate(-44 45.6 290.7)"/><ellipse cx="24.7" cy="301.3" rx="3.7" ry="2.5" transform="rotate(-36 24.7 301.3)"/><ellipse cx="65.5" cy="303.9" rx="3.2" ry="2.4" transform="rotate(9 65.5 303.9)"/><ellipse cx="33.2" cy="298.8" rx="2.8" ry="2.2" transform="rotate(-20 33.2 298.8)"/><ellipse cx="58.1" cy="315.2" rx="3.8" ry="2.5" transform="rotate(49 58.1 315.2)"/><ellipse cx="66.6" cy="298" rx="3.3" ry="2.3" transform="rotate(2 66.6 298)"/><ellipse cx="55.9" cy="296.3" rx="3.7" ry="2.5" transform="rotate(42 55.9 296.3)"/><ellipse cx="61.9" cy="300.7" rx="3.9" ry="2.6" transform="rotate(-1 61.9 300.7)"/><ellipse cx="14" cy="303.8" rx="3.3" ry="2.5" transform="rotate(-5 14 303.8)"/><ellipse cx="20.7" cy="299.5" rx="3.5" ry="2" transform="rotate(38 20.7 299.5)"/><ellipse cx="58.5" cy="306.8" rx="2.9" ry="2.1" transform="rotate(38 58.5 306.8)"/><ellipse cx="85.3" cy="300.9" rx="2.9" ry="2.5" transform="rotate(-4 85.3 300.9)"/><ellipse cx="39.8" cy="293.6" rx="3.4" ry="2.2" transform="rotate(-4 39.8 293.6)"/><ellipse cx="76.8" cy="298.8" rx="3.1" ry="2.4" transform="rotate(-49 76.8 298.8)"/><ellipse cx="24.6" cy="301.8" rx="3.3" ry="2.6" transform="rotate(-10 24.6 301.8)"/><ellipse cx="68.9" cy="313.2" rx="3.8" ry="3" transform="rotate(-28 68.9 313.2)"/><ellipse cx="40.1" cy="312.3" rx="3.6" ry="3" transform="rotate(-6 40.1 312.3)"/><ellipse cx="38" cy="299.9" rx="3" ry="2.5" transform="rotate(-39 38 299.9)"/><ellipse cx="27.8" cy="294.8" rx="3.2" ry="2.6" transform="rotate(-23 27.8 294.8)"/><ellipse cx="62.1" cy="301.9" rx="3.7" ry="2.6" transform="rotate(-32 62.1 301.9)"/><ellipse cx="70.2" cy="298.5" rx="3.9" ry="3.1" transform="rotate(45 70.2 298.5)"/><ellipse cx="89.4" cy="307.3" rx="3.8" ry="2.8" transform="rotate(-3 89.4 307.3)"/><ellipse cx="58.6" cy="305.3" rx="3.1" ry="2.7" transform="rotate(28 58.6 305.3)"/><ellipse cx="72.3" cy="299" rx="3.7" ry="2.8" transform="rotate(26 72.3 299)"/><ellipse cx="32" cy="317" rx="3.5" ry="3.1" transform="rotate(-39 32 317)"/></g>
<g fill="#ccaa8a" stroke="#7e5a3e" stroke-width="0.45"><ellipse cx="63.2" cy="308.8" rx="3.3" ry="2.6" transform="rotate(12 63.2 308.8)"/><ellipse cx="55.9" cy="306.8" rx="3.4" ry="2.3" transform="rotate(-6 55.9 306.8)"/><ellipse cx="35.2" cy="304.6" rx="2.5" ry="1.8" transform="rotate(-11 35.2 304.6)"/><ellipse cx="62.1" cy="314" rx="3.6" ry="2.4" transform="rotate(-22 62.1 314)"/><ellipse cx="77.4" cy="309.7" rx="3.2" ry="2.4" transform="rotate(-48 77.4 309.7)"/><ellipse cx="32.8" cy="295.2" rx="3.5" ry="2.9" transform="rotate(-14 32.8 295.2)"/><ellipse cx="56.7" cy="299" rx="3.3" ry="2.7" transform="rotate(46 56.7 299)"/><ellipse cx="80.2" cy="299.1" rx="3.7" ry="2.6" transform="rotate(16 80.2 299.1)"/><ellipse cx="33.6" cy="307.7" rx="3.7" ry="2.2" transform="rotate(31 33.6 307.7)"/><ellipse cx="55.1" cy="300.4" rx="3.4" ry="2.1" transform="rotate(-40 55.1 300.4)"/><ellipse cx="60.8" cy="307.2" rx="3.5" ry="2.7" transform="rotate(27 60.8 307.2)"/><ellipse cx="70.4" cy="310.4" rx="3.4" ry="2.7" transform="rotate(-2 70.4 310.4)"/><ellipse cx="48.7" cy="312" rx="2.9" ry="2.1" transform="rotate(27 48.7 312)"/><ellipse cx="59" cy="306.2" rx="3.1" ry="2.6" transform="rotate(-34 59 306.2)"/><ellipse cx="35.7" cy="314.4" rx="3.5" ry="2.1" transform="rotate(7 35.7 314.4)"/><ellipse cx="35.2" cy="297" rx="4.1" ry="2.6" transform="rotate(47 35.2 297)"/><ellipse cx="60.7" cy="305.9" rx="3.7" ry="3.1" transform="rotate(2 60.7 305.9)"/><ellipse cx="73.1" cy="311" rx="3.3" ry="2.6" transform="rotate(33 73.1 311)"/><ellipse cx="41.6" cy="300.3" rx="3.9" ry="2.5" transform="rotate(-4 41.6 300.3)"/><ellipse cx="38" cy="289.3" rx="4.2" ry="2.8" transform="rotate(1 38 289.3)"/><ellipse cx="19" cy="296.9" rx="2.5" ry="2.4" transform="rotate(-21 19 296.9)"/></g></g>
<g fill="#b04a3c"><ellipse cx="52" cy="289.5" rx="2" ry="1.6"/><ellipse cx="55" cy="292" rx="1.6" ry="1.3"/><ellipse cx="50" cy="293" rx="1.3" ry="1.1"/></g>
<g transform="matrix(0.9954 0 0 0.8804 1.30 36.23)"><path d="M108.0 309.0C108.0 306.8 111.7 302.8 115.0 300.0C118.3 297.2 123.8 294.2 128.0 292.0C132.2 289.8 136.0 288.2 140.0 287.0C144.0 285.8 147.8 285.0 152.0 285.0C156.2 285.0 160.7 285.7 165.0 287.0C169.3 288.3 173.8 290.8 178.0 293.0C182.2 295.2 187.2 297.8 190.0 300.0C192.8 302.2 195.0 304.0 195.0 306.0C195.0 308.0 193.3 310.3 190.0 312.0C186.7 313.7 180.8 315.2 175.0 316.0C169.2 316.8 162.5 317.0 155.0 317.0C147.5 317.0 136.7 316.7 130.0 316.0C123.3 315.3 118.7 314.2 115.0 313.0C111.3 311.8 108.0 311.2 108.0 309.0Z" fill="#d8c090"/>
<g fill="#e8d49a" stroke="#b09070" stroke-width="0.3"><rect x="161.3" y="306" width="5.5" height="2.7" rx="1.1" transform="rotate(-35 164.1 307.3)"/><rect x="135.8" y="313.4" width="7.5" height="3.2" rx="1.2" transform="rotate(-28 139.5 315)"/><rect x="164.5" y="291.5" width="5.5" height="2.6" rx="1" transform="rotate(32 167.2 292.8)"/><rect x="170.5" y="307.2" width="4.7" height="2.8" rx="1.1" transform="rotate(23 172.9 308.6)"/><rect x="160.8" y="287.7" width="5.6" height="2.9" rx="1.1" transform="rotate(12 163.6 289.1)"/><rect x="119.5" y="303.6" width="5.5" height="2.9" rx="1.1" transform="rotate(-9 122.3 305)"/><rect x="136" y="287.4" width="8" height="2.8" rx="1.1" transform="rotate(-10 139.9 288.7)"/><rect x="136" y="305.7" width="6.7" height="3" rx="1.1" transform="rotate(42 139.4 307.2)"/><rect x="176.1" y="301.5" width="6.1" height="2.7" rx="1" transform="rotate(25 179.1 302.8)"/><rect x="143.2" y="290.6" width="5.9" height="2.9" rx="1.1" transform="rotate(-43 146.2 292)"/><rect x="151.2" y="289.4" width="6.4" height="2.6" rx="1" transform="rotate(38 154.4 290.7)"/><rect x="172.2" y="303.8" width="7.9" height="3.4" rx="1.3" transform="rotate(26 176.2 305.5)"/><rect x="157.5" y="298.9" width="6.6" height="3.1" rx="1.2" transform="rotate(43 160.8 300.4)"/><rect x="130.5" y="299.5" width="7.3" height="2.7" rx="1" transform="rotate(-14 134.1 300.8)"/><rect x="177.4" y="307.4" width="7.4" height="2.8" rx="1.1" transform="rotate(-40 181.1 308.8)"/><rect x="143.8" y="307.9" width="5.1" height="3.2" rx="1.2" transform="rotate(-9 146.4 309.5)"/><rect x="135.8" y="288" width="5.3" height="2.7" rx="1.1" transform="rotate(-34 138.5 289.4)"/><rect x="135.2" y="287.4" width="6.6" height="2.9" rx="1.1" transform="rotate(40 138.5 288.8)"/><rect x="154.6" y="296.5" width="7.1" height="3.1" rx="1.2" transform="rotate(-33 158.2 298.1)"/><rect x="175.2" y="300.9" width="5.9" height="2.8" rx="1.1" transform="rotate(32 178.1 302.3)"/><rect x="185.3" y="303.9" width="6.6" height="2.7" rx="1" transform="rotate(-13 188.6 305.2)"/></g>
<g fill="#c8c888" stroke="#b09070" stroke-width="0.3"><rect x="165.1" y="310.7" width="5.1" height="2.6" rx="1" transform="rotate(-10 167.7 312)"/><rect x="137" y="296.8" width="5" height="2.6" rx="1" transform="rotate(12 139.5 298.1)"/><rect x="170.3" y="305.8" width="6.8" height="3.2" rx="1.2" transform="rotate(26 173.7 307.4)"/><rect x="175.7" y="309.2" width="4.9" height="2.7" rx="1.1" transform="rotate(7 178.1 310.6)"/><rect x="158.8" y="308.2" width="6.7" height="2.9" rx="1.1" transform="rotate(-37 162.2 309.6)"/><rect x="115" y="305.7" width="5.7" height="2.6" rx="1" transform="rotate(-24 117.9 307)"/><rect x="144.7" y="285.7" width="5.8" height="2.6" rx="1" transform="rotate(-13 147.6 287)"/><rect x="164.9" y="299.2" width="4.2" height="2.3" rx="0.9" transform="rotate(-14 167 300.4)"/><rect x="145.8" y="312.1" width="7.2" height="2.7" rx="1" transform="rotate(2 149.4 313.5)"/><rect x="156.8" y="311" width="5.5" height="2.6" rx="1" transform="rotate(27 159.6 312.3)"/><rect x="114.2" y="309.2" width="6.2" height="2.4" rx="0.9" transform="rotate(-27 117.3 310.4)"/><rect x="131.6" y="302.6" width="5.8" height="2.6" rx="1" transform="rotate(-24 134.5 303.9)"/><rect x="142.9" y="298.9" width="5.6" height="3.2" rx="1.2" transform="rotate(19 145.7 300.5)"/><rect x="146.7" y="286" width="6.1" height="2.6" rx="1" transform="rotate(32 149.8 287.3)"/><rect x="142" y="314.1" width="5.8" height="3.1" rx="1.2" transform="rotate(-45 145 315.7)"/><rect x="158" y="309.1" width="5.6" height="2.5" rx="1" transform="rotate(3 160.8 310.3)"/><rect x="125.8" y="303.9" width="6.6" height="2.2" rx="0.8" transform="rotate(-37 129.1 305)"/><rect x="156.2" y="313.2" width="4.4" height="2.5" rx="1" transform="rotate(20 158.4 314.5)"/><rect x="125.5" y="311.9" width="6.3" height="2.5" rx="1" transform="rotate(-8 128.6 313.2)"/><rect x="177.3" y="313.4" width="5.1" height="2.4" rx="0.9" transform="rotate(17 179.9 314.6)"/><rect x="120.2" y="310.3" width="5.4" height="2.8" rx="1.1" transform="rotate(1 122.9 311.7)"/></g>
<g fill="#d88c78" stroke="#b09070" stroke-width="0.3"><rect x="164.5" y="298.1" width="5.4" height="2.7" rx="1.1" transform="rotate(-18 167.2 299.4)"/><rect x="153.5" y="303.5" width="6.4" height="3" rx="1.1" transform="rotate(-29 156.7 305)"/><rect x="146" y="286.9" width="5.5" height="2.6" rx="1" transform="rotate(-5 148.8 288.2)"/><rect x="121.8" y="306.5" width="4.8" height="2.2" rx="0.9" transform="rotate(-35 124.2 307.7)"/><rect x="165.6" y="306.5" width="5.9" height="2.7" rx="1" transform="rotate(36 168.5 307.9)"/><rect x="175.4" y="295.5" width="5.3" height="2.7" rx="1.1" transform="rotate(-36 178.1 296.9)"/><rect x="113.2" y="302.7" width="4.8" height="2.5" rx="1" transform="rotate(-20 115.6 303.9)"/><rect x="121.1" y="296.8" width="7.6" height="2.8" rx="1.1" transform="rotate(-17 124.9 298.2)"/><rect x="161.5" y="309.2" width="6.1" height="2.6" rx="1" transform="rotate(41 164.5 310.5)"/><rect x="168.6" y="308.6" width="8.2" height="3.1" rx="1.2" transform="rotate(-4 172.7 310.2)"/><rect x="114" y="298.1" width="6.1" height="2.4" rx="0.9" transform="rotate(-22 117 299.3)"/><rect x="139.9" y="290.1" width="5.7" height="2.5" rx="1" transform="rotate(-24 142.7 291.4)"/><rect x="123.6" y="306.6" width="5.9" height="3.3" rx="1.3" transform="rotate(-21 126.5 308.3)"/><rect x="155.3" y="285.4" width="7" height="2.9" rx="1.1" transform="rotate(38 158.8 286.8)"/><rect x="150.1" y="294.9" width="5.4" height="2.7" rx="1" transform="rotate(27 152.8 296.2)"/><rect x="149.7" y="301.8" width="6.8" height="2.9" rx="1.1" transform="rotate(10 153.1 303.2)"/><rect x="180.8" y="302.6" width="5.2" height="2.8" rx="1.1" transform="rotate(-27 183.4 304)"/></g>
<g fill="#dcb888" stroke="#b09070" stroke-width="0.3"><rect x="122.2" y="303.1" width="6.3" height="2.6" rx="1" transform="rotate(29 125.3 304.5)"/><rect x="168.9" y="296.1" width="8" height="3.3" rx="1.3" transform="rotate(-29 172.9 297.7)"/><rect x="148.4" y="284" width="6.1" height="3.2" rx="1.2" transform="rotate(-32 151.5 285.6)"/><rect x="148.8" y="310.6" width="6.7" height="3.2" rx="1.2" transform="rotate(-2 152.1 312.2)"/><rect x="162.2" y="292.8" width="4.8" height="2.7" rx="1" transform="rotate(-20 164.6 294.2)"/><rect x="175.7" y="304.7" width="6.6" height="2.5" rx="1" transform="rotate(17 179 305.9)"/><rect x="171.5" y="301" width="6.5" height="2.7" rx="1" transform="rotate(38 174.7 302.3)"/><rect x="111.7" y="310.1" width="7.6" height="3.2" rx="1.2" transform="rotate(-41 115.5 311.6)"/><rect x="134.9" y="288.7" width="7.3" height="2.7" rx="1.1" transform="rotate(21 138.5 290.1)"/><rect x="159.4" y="306.9" width="5.6" height="2.6" rx="1" transform="rotate(-24 162.1 308.2)"/><rect x="133.1" y="311.3" width="5.5" height="2.4" rx="0.9" transform="rotate(-23 135.9 312.5)"/><rect x="168.7" y="306" width="5.3" height="3" rx="1.1" transform="rotate(21 171.3 307.5)"/><rect x="154.7" y="294.9" width="7.1" height="2.5" rx="1" transform="rotate(0 158.2 296.2)"/><rect x="115.1" y="305.3" width="5.6" height="2.3" rx="0.9" transform="rotate(17 117.8 306.4)"/><rect x="156.3" y="302.9" width="6.4" height="2.4" rx="0.9" transform="rotate(29 159.5 304.1)"/><rect x="114.8" y="300.2" width="4.7" height="2.4" rx="0.9" transform="rotate(-15 117.1 301.4)"/><rect x="151.7" y="298.8" width="5.6" height="2" rx="0.8" transform="rotate(-7 154.5 299.9)"/><rect x="120.3" y="295.3" width="6.1" height="2.2" rx="0.8" transform="rotate(3 123.4 296.4)"/><rect x="161.7" y="304.6" width="7.3" height="3.3" rx="1.3" transform="rotate(-28 165.4 306.3)"/><rect x="149.2" y="284.2" width="5.7" height="2.7" rx="1" transform="rotate(45 152 285.6)"/></g>
<g fill="#e4d498" stroke="#b09070" stroke-width="0.3"><rect x="173.9" y="309.9" width="6.2" height="2.9" rx="1.1" transform="rotate(-44 177 311.3)"/><rect x="189.9" y="307.2" width="5.9" height="2.3" rx="0.9" transform="rotate(-43 192.8 308.3)"/><rect x="154.1" y="298.7" width="5" height="3.2" rx="1.2" transform="rotate(-27 156.6 300.3)"/><rect x="124.7" y="301.7" width="5.8" height="2.7" rx="1.1" transform="rotate(39 127.6 303.1)"/><rect x="134.7" y="299" width="5" height="3" rx="1.2" transform="rotate(-8 137.2 300.5)"/><rect x="149.2" y="310.1" width="7.7" height="2.9" rx="1.1" transform="rotate(-25 153 311.6)"/><rect x="180.7" y="311.1" width="6" height="2.6" rx="1" transform="rotate(-26 183.7 312.4)"/><rect x="133.3" y="306.4" width="6.6" height="2.9" rx="1.1" transform="rotate(-36 136.6 307.8)"/><rect x="154.3" y="306.7" width="6.9" height="3.6" rx="1.4" transform="rotate(-41 157.8 308.5)"/><rect x="146.1" y="304.3" width="7.8" height="2.6" rx="1" transform="rotate(32 150 305.6)"/><rect x="170.9" y="296.8" width="7.3" height="3" rx="1.1" transform="rotate(12 174.6 298.3)"/><rect x="129.9" y="299.2" width="5.5" height="3.2" rx="1.2" transform="rotate(9 132.6 300.9)"/><rect x="156.6" y="298.4" width="5.1" height="3" rx="1.1" transform="rotate(-11 159.1 299.9)"/><rect x="135.9" y="295.3" width="6.3" height="3" rx="1.1" transform="rotate(28 139 296.8)"/><rect x="154.4" y="288.8" width="5.9" height="2" rx="0.8" transform="rotate(26 157.4 289.8)"/><rect x="186.9" y="305.1" width="6.4" height="2.7" rx="1.1" transform="rotate(-36 190.1 306.5)"/><rect x="140.6" y="295.2" width="5.5" height="2.5" rx="1" transform="rotate(28 143.3 296.5)"/><rect x="173" y="303.1" width="6.1" height="2.6" rx="1" transform="rotate(-38 176.1 304.4)"/><rect x="125.2" y="314" width="6.6" height="2.8" rx="1.1" transform="rotate(-36 128.4 315.4)"/><rect x="171.1" y="302.4" width="8" height="3.3" rx="1.3" transform="rotate(44 175.1 304.1)"/><rect x="122.8" y="302.1" width="5.3" height="3.3" rx="1.3" transform="rotate(1 125.4 303.8)"/></g>
<g fill="#ecdca4" stroke="#b09070" stroke-width="0.3"><rect x="155.5" y="314.4" width="7" height="3.1" rx="1.2" transform="rotate(-9 159 315.9)"/><rect x="187.9" y="302.6" width="5.7" height="2.6" rx="1" transform="rotate(42 190.8 303.8)"/><rect x="160" y="291.5" width="6.2" height="2.7" rx="1" transform="rotate(22 163.1 292.8)"/><rect x="108.3" y="308.7" width="4.6" height="2.1" rx="0.8" transform="rotate(31 110.6 309.8)"/><rect x="171.3" y="313.9" width="6.5" height="3" rx="1.2" transform="rotate(27 174.6 315.4)"/><rect x="110.6" y="304.4" width="5.1" height="2.9" rx="1.1" transform="rotate(12 113.2 305.8)"/><rect x="150.1" y="306.7" width="7.5" height="3.4" rx="1.3" transform="rotate(30 153.9 308.4)"/><rect x="132.2" y="292.7" width="7.2" height="2.9" rx="1.1" transform="rotate(-12 135.8 294.1)"/><rect x="139.1" y="303.6" width="4.5" height="2.7" rx="1" transform="rotate(39 141.4 305)"/><rect x="143.1" y="291.8" width="6" height="2.8" rx="1.1" transform="rotate(-37 146.1 293.2)"/><rect x="166.7" y="289.5" width="5.8" height="2" rx="0.8" transform="rotate(18 169.5 290.5)"/><rect x="170.6" y="313.4" width="5" height="2" rx="0.8" transform="rotate(-41 173.1 314.4)"/><rect x="137.6" y="295.1" width="6.3" height="2.9" rx="1.1" transform="rotate(19 140.8 296.5)"/><rect x="134" y="311.8" width="4.7" height="2.5" rx="0.9" transform="rotate(-38 136.4 313)"/><rect x="123.5" y="293.2" width="6.5" height="2.7" rx="1" transform="rotate(45 126.7 294.5)"/><rect x="171.4" y="304.6" width="4.6" height="2.5" rx="1" transform="rotate(28 173.7 305.9)"/><rect x="142.1" y="312.3" width="6.8" height="3" rx="1.2" transform="rotate(34 145.5 313.8)"/><rect x="149.3" y="286.9" width="5.9" height="3" rx="1.2" transform="rotate(3 152.2 288.4)"/><rect x="168.7" y="301.9" width="6.1" height="2.5" rx="1" transform="rotate(26 171.8 303.2)"/><rect x="139.8" y="304.1" width="6.1" height="2.6" rx="1" transform="rotate(40 142.9 305.4)"/></g>
<g fill="#d0c890" stroke="#b09070" stroke-width="0.3"><rect x="171.1" y="292.1" width="7.7" height="3.2" rx="1.2" transform="rotate(5 175 293.7)"/><rect x="184.3" y="303.5" width="4.7" height="2.6" rx="1" transform="rotate(-34 186.7 304.8)"/><rect x="158.1" y="311.7" width="4.7" height="2.3" rx="0.9" transform="rotate(-44 160.5 312.9)"/><rect x="174.8" y="300" width="4.8" height="3.1" rx="1.2" transform="rotate(45 177.3 301.5)"/><rect x="144" y="313.2" width="6.6" height="2.9" rx="1.1" transform="rotate(24 147.3 314.7)"/><rect x="138.4" y="303.1" width="4.6" height="2.4" rx="0.9" transform="rotate(-41 140.7 304.3)"/><rect x="174.5" y="295.9" width="7.1" height="3" rx="1.2" transform="rotate(33 178 297.4)"/><rect x="156.9" y="285.8" width="5.8" height="2.3" rx="0.9" transform="rotate(-24 159.8 286.9)"/><rect x="184.2" y="307.7" width="7.7" height="2.5" rx="1" transform="rotate(-14 188 309)"/><rect x="116.3" y="301.3" width="5.3" height="2.4" rx="0.9" transform="rotate(-26 119 302.5)"/><rect x="125" y="308.7" width="4.9" height="2.5" rx="1" transform="rotate(20 127.4 310)"/><rect x="150.9" y="304.3" width="4.9" height="2.3" rx="0.9" transform="rotate(-21 153.3 305.5)"/><rect x="110.4" y="305.2" width="5.1" height="2.1" rx="0.8" transform="rotate(-25 113 306.3)"/><rect x="111.1" y="306.7" width="4.9" height="2.3" rx="0.9" transform="rotate(7 113.5 307.9)"/><rect x="136.3" y="299.7" width="6.7" height="2.5" rx="1" transform="rotate(7 139.7 301)"/><rect x="145.3" y="302.1" width="5.5" height="2.6" rx="1" transform="rotate(-2 148.1 303.4)"/><rect x="149.8" y="311.2" width="7.3" height="3.5" rx="1.4" transform="rotate(12 153.4 313)"/><rect x="135.8" y="313.9" width="7.3" height="2.7" rx="1" transform="rotate(6 139.4 315.2)"/><rect x="155.1" y="293.8" width="6.8" height="3.2" rx="1.2" transform="rotate(-41 158.5 295.5)"/></g>
<g fill="#e0a084" stroke="#b09070" stroke-width="0.3"><rect x="150.9" y="292.7" width="5.9" height="3" rx="1.2" transform="rotate(-44 153.9 294.3)"/><rect x="146.5" y="303" width="7.5" height="2.5" rx="1" transform="rotate(-3 150.2 304.3)"/><rect x="117" y="295.8" width="6.8" height="2.5" rx="1" transform="rotate(-1 120.4 297.1)"/><rect x="159.5" y="286.8" width="6.2" height="2.6" rx="1" transform="rotate(15 162.6 288.1)"/><rect x="160" y="292" width="5.9" height="2.9" rx="1.1" transform="rotate(-9 162.9 293.5)"/><rect x="183.9" y="297.8" width="6.4" height="2.5" rx="1" transform="rotate(29 187.1 299.1)"/><rect x="164" y="296.7" width="5.7" height="2.2" rx="0.8" transform="rotate(-35 166.8 297.8)"/><rect x="154.8" y="285.4" width="6.1" height="3" rx="1.2" transform="rotate(4 157.9 286.9)"/><rect x="117.8" y="312.3" width="4.2" height="2.1" rx="0.8" transform="rotate(22 119.9 313.4)"/><rect x="178.5" y="312.7" width="5.4" height="2.2" rx="0.8" transform="rotate(1 181.2 313.8)"/><rect x="149.6" y="314.3" width="7.2" height="2.5" rx="1" transform="rotate(9 153.2 315.5)"/><rect x="159.4" y="310.9" width="6.5" height="3.1" rx="1.2" transform="rotate(-26 162.7 312.5)"/><rect x="117.9" y="307.9" width="4.9" height="2.5" rx="1" transform="rotate(6 120.4 309.2)"/><rect x="154.8" y="297.8" width="6" height="3.4" rx="1.3" transform="rotate(-34 157.9 299.4)"/><rect x="164" y="298.7" width="5.8" height="2.5" rx="1" transform="rotate(29 166.9 300)"/><rect x="107.8" y="304.2" width="5.7" height="2.9" rx="1.1" transform="rotate(7 110.6 305.6)"/><rect x="142" y="305.7" width="5.4" height="3.2" rx="1.2" transform="rotate(45 144.7 307.3)"/><rect x="115.4" y="299.3" width="5.6" height="2.2" rx="0.9" transform="rotate(-14 118.2 300.4)"/></g>
<g fill="#d4cc8c" stroke="#b09070" stroke-width="0.3"><rect x="156.1" y="286.3" width="6.3" height="3.2" rx="1.2" transform="rotate(4 159.3 287.9)"/><rect x="137.6" y="290.9" width="6.9" height="2.5" rx="1" transform="rotate(-22 141 292.1)"/><rect x="127.5" y="309.5" width="4.7" height="2.3" rx="0.9" transform="rotate(7 129.8 310.7)"/><rect x="144.6" y="312.4" width="7.3" height="2.7" rx="1" transform="rotate(4 148.3 313.8)"/><rect x="112.7" y="309.6" width="5.4" height="3" rx="1.1" transform="rotate(-37 115.5 311.1)"/><rect x="150.7" y="284" width="6.1" height="2.7" rx="1" transform="rotate(-6 153.8 285.3)"/><rect x="153" y="304.6" width="5.9" height="3.3" rx="1.3" transform="rotate(33 155.9 306.2)"/><rect x="118.7" y="296.3" width="5.1" height="2.5" rx="1" transform="rotate(5 121.2 297.6)"/><rect x="158.2" y="315" width="5.9" height="3.3" rx="1.3" transform="rotate(-26 161.2 316.7)"/><rect x="131.3" y="305.9" width="4.5" height="2.2" rx="0.9" transform="rotate(18 133.6 307)"/><rect x="147.9" y="290.1" width="7.5" height="2.7" rx="1" transform="rotate(32 151.6 291.4)"/><rect x="161.7" y="303.2" width="6.8" height="2.6" rx="1" transform="rotate(14 165.1 304.5)"/><rect x="152.1" y="285.4" width="6.6" height="2.9" rx="1.1" transform="rotate(11 155.4 286.9)"/><rect x="175" y="298.2" width="4.9" height="2.5" rx="0.9" transform="rotate(-45 177.4 299.5)"/><rect x="148.3" y="314.3" width="5.8" height="2.3" rx="0.9" transform="rotate(21 151.2 315.4)"/><rect x="184" y="297.9" width="6.7" height="2.5" rx="1" transform="rotate(20 187.4 299.2)"/><rect x="123.3" y="301.8" width="7" height="2.6" rx="1" transform="rotate(21 126.8 303.1)"/></g>
<g fill="#c87060" stroke="#b09070" stroke-width="0.3"><rect x="185" y="300.9" width="4.5" height="2.7" rx="1" transform="rotate(-5 187.2 302.3)"/><rect x="153.8" y="309.4" width="4.7" height="2.8" rx="1.1" transform="rotate(24 156.2 310.8)"/><rect x="147.1" y="310.4" width="6.5" height="2.6" rx="1" transform="rotate(-18 150.3 311.6)"/><rect x="132" y="304.6" width="8.3" height="3" rx="1.1" transform="rotate(2 136.1 306.1)"/><rect x="116" y="310.4" width="6" height="2.5" rx="1" transform="rotate(-3 119 311.6)"/><rect x="109" y="307.4" width="5.9" height="3" rx="1.2" transform="rotate(45 112 308.9)"/><rect x="161.9" y="286.3" width="6.4" height="3" rx="1.2" transform="rotate(6 165.1 287.8)"/><rect x="118.6" y="310.7" width="5.5" height="3.3" rx="1.3" transform="rotate(22 121.4 312.3)"/><rect x="133.5" y="297.2" width="6" height="2.6" rx="1" transform="rotate(22 136.5 298.4)"/><rect x="169.2" y="296.6" width="5.9" height="2.8" rx="1.1" transform="rotate(13 172.1 298)"/><rect x="125.5" y="307.4" width="5.5" height="2.3" rx="0.9" transform="rotate(-11 128.3 308.5)"/><rect x="168.5" y="301.2" width="5.9" height="3.2" rx="1.2" transform="rotate(14 171.4 302.8)"/><rect x="159.8" y="286.4" width="6.4" height="2.8" rx="1.1" transform="rotate(-30 163 287.8)"/><rect x="109.8" y="304.4" width="6.7" height="3.2" rx="1.2" transform="rotate(7 113.1 306)"/><rect x="140.4" y="300.2" width="5.8" height="2.7" rx="1" transform="rotate(-0 143.3 301.6)"/><rect x="165.4" y="306" width="5.9" height="3.2" rx="1.2" transform="rotate(-8 168.4 307.6)"/></g></g>
<g fill="#d8866c"><rect x="205.3" y="291" width="12.4" height="21" rx="2"/><circle cx="206.2" cy="291.8" r="3.5"/><circle cx="216.6" cy="291.8" r="3.5"/><circle cx="206.2" cy="311.3" r="3.5"/><circle cx="216.6" cy="311.3" r="3.5"/></g><g fill="#9a4030"><circle cx="211.4" cy="297" r="1"/><circle cx="211.4" cy="301.6" r="1"/><circle cx="211.4" cy="306.2" r="1"/></g>
<g><path d="M26.0 364.5C26.4 363.4 29.3 361.6 31.0 360.5C32.7 359.4 34.1 358.2 36.3 358.2C38.5 358.2 43.0 359.4 44.3 360.6C45.6 361.8 45.4 364.2 44.3 365.3C43.2 366.4 40.6 366.7 37.9 367.0C35.2 367.3 30.3 367.6 28.3 367.2C26.3 366.8 25.6 365.6 26.0 364.5Z" fill="#e8a444"/><path d="M47.4 363.0C48.5 361.6 53.4 362.1 56.2 362.2C59.0 362.3 62.9 362.4 64.1 363.8C65.3 365.2 64.5 369.3 63.3 370.9C62.1 372.5 59.2 373.3 57.0 373.3C54.8 373.3 51.4 372.6 49.8 370.9C48.2 369.2 46.3 364.4 47.4 363.0Z" fill="#eaac58"/><path d="M48.2 375.7C49.2 375.0 53.6 375.9 56.0 376.2C58.4 376.5 60.6 376.4 62.5 377.3C64.4 378.2 66.8 380.0 67.3 381.3C67.8 382.6 67.0 384.7 65.7 385.2C64.4 385.7 62.0 385.2 59.4 384.4C56.8 383.6 51.7 381.9 49.8 380.5C47.9 379.1 47.2 376.4 48.2 375.7Z" fill="#e8a24c"/><path d="M22.0 373.3C23.4 372.0 28.7 373.6 31.5 374.9C34.3 376.2 37.8 379.7 38.7 381.3C39.6 382.9 38.7 384.0 37.1 384.4C35.5 384.8 31.5 383.9 29.1 383.6C26.7 383.3 24.0 384.5 22.8 382.8C21.6 381.1 20.6 374.6 22.0 373.3Z" fill="#e29a48"/><path d="M26.8 385.2C27.6 384.4 31.5 384.4 32.3 385.2C33.1 386.0 32.3 389.2 31.5 390.0C30.7 390.8 28.3 390.8 27.5 390.0C26.7 389.2 26.0 386.0 26.8 385.2Z" fill="#e4a050"/><path d="M32.0 365.0C32.3 363.5 37.3 363.8 40.0 364.0C42.7 364.2 45.9 364.9 48.2 366.2C50.5 367.5 53.2 369.9 54.0 372.0C54.8 374.1 54.3 377.9 53.0 378.9C51.7 379.9 48.5 379.0 46.0 378.0C43.5 377.0 40.3 375.2 38.0 373.0C35.7 370.8 31.7 366.5 32.0 365.0Z" fill="#e2a45c"/><path d="M30.0 363.5C30.8 362.6 35.7 362.4 38.0 362.5C40.3 362.6 43.7 363.1 44.0 364.0C44.3 364.9 41.8 367.3 40.0 368.0C38.2 368.7 34.7 368.8 33.0 368.0C31.3 367.2 29.2 364.4 30.0 363.5Z" fill="#e6a24a"/><path d="M22.0 366.9C23.3 366.1 30.2 367.0 33.9 368.5C37.6 370.0 40.6 372.9 44.3 375.7C48.0 378.5 53.3 382.7 56.2 385.2C59.1 387.7 61.1 388.9 61.8 390.8C62.5 392.7 61.3 395.6 60.2 396.4C59.1 397.2 57.8 396.9 55.4 395.6C53.0 394.3 49.1 390.8 45.8 388.4C42.5 386.0 38.8 383.8 35.5 381.3C32.2 378.8 28.2 375.7 26.0 373.3C23.8 370.9 20.7 367.7 22.0 366.9Z" fill="#e8b47a"/><path d="M25 369L58 393M28 368L60 390.5M27 372L56 394" stroke="#cf8c4c" stroke-width="0.7" opacity="0.8" fill="none"/><path d="M30 361.5L42 361M51 366L61 367M52 379L63 381M25 377L35 380" stroke="#d08434" stroke-width="0.8" opacity="0.8" fill="none"/><path d="M27 370.5L58 392" stroke="#f6d0a0" stroke-width="1.1" opacity="0.8" fill="none"/></g>
<g><rect x="112.2" y="360.7" width="56.5" height="4.0" rx="1.4" fill="#b04a30"/><path d="M116 362.2H140M146 363.3H165" stroke="#d07050" stroke-width="0.9" opacity="0.7"/><rect x="112.2" y="364.8" width="56.5" height="4.0" rx="1.4" fill="#e4b030"/><path d="M116 366.3H140M146 367.4H165" stroke="#d08a20" stroke-width="0.9" opacity="0.7"/><rect x="112.2" y="369.6" width="56.5" height="4.2" rx="1.4" fill="#8cc050"/><path d="M116 371.2H140M146 372.3H165" stroke="#70a838" stroke-width="0.9" opacity="0.7"/><rect x="112.2" y="373.8" width="56.5" height="4.2" rx="1.4" fill="#d03a2c"/><path d="M116 375.4H140M146 376.5H165" stroke="#e06048" stroke-width="0.9" opacity="0.7"/><rect x="112.2" y="378.2" width="56.5" height="4.0" rx="1.4" fill="#e2a832"/><path d="M116 379.7H140M146 380.8H165" stroke="#c88a28" stroke-width="0.9" opacity="0.7"/><rect x="112.2" y="382.9" width="56.5" height="4.0" rx="1.4" fill="#b85a48"/><path d="M116 384.4H140M146 385.5H165" stroke="#d08068" stroke-width="0.9" opacity="0.7"/><rect x="112.2" y="387.1" width="56.5" height="3.0" rx="1.4" fill="#f0dcc0"/><path d="M116 388.1H140M146 389.2H165" stroke="#e0c4a0" stroke-width="0.9" opacity="0.7"/><rect x="112.2" y="391.6" width="56.5" height="3.0" rx="1.4" fill="#c82a28"/><path d="M116 392.6H140M146 393.7H165" stroke="#a82020" stroke-width="0.9" opacity="0.7"/></g>
<rect x="200" y="357.3" width="2.6" height="39.7" rx="1" fill="#c0283a"/>
<g transform="matrix(0.9731 0 0 0.8596 0.27 68.63)"><path d="M10.0 500.0C10.8 498.5 16.3 496.0 20.0 494.0C23.7 492.0 28.3 489.8 32.0 488.0C35.7 486.2 38.7 484.2 42.0 483.0C45.3 481.8 48.7 481.0 52.0 481.0C55.3 481.0 58.7 482.0 62.0 483.0C65.3 484.0 68.7 485.5 72.0 487.0C75.3 488.5 79.0 490.3 82.0 492.0C85.0 493.7 89.3 495.3 90.0 497.0C90.7 498.7 89.3 500.5 86.0 502.0C82.7 503.5 76.0 505.2 70.0 506.0C64.0 506.8 56.7 507.0 50.0 507.0C43.3 507.0 35.8 506.7 30.0 506.0C24.2 505.3 18.3 504.0 15.0 503.0C11.7 502.0 9.2 501.5 10.0 500.0Z" fill="#9e6636"/>
<g fill="#d07c44" stroke="#7a4a28" stroke-width="0.35"><circle cx="65.2" cy="494.4" r="1.7"/><circle cx="69.2" cy="493.4" r="1.7"/><circle cx="26" cy="493.8" r="1.7"/><circle cx="47.6" cy="489.8" r="1.6"/><circle cx="45.7" cy="498.5" r="1.5"/><circle cx="68.7" cy="502.1" r="1.4"/><circle cx="70.5" cy="503.2" r="1.5"/><circle cx="77.9" cy="503.7" r="1.3"/><circle cx="56.6" cy="491.1" r="1.4"/><circle cx="63.4" cy="505.1" r="1.4"/><circle cx="58.8" cy="504.3" r="1.6"/><circle cx="42.9" cy="502.1" r="1.8"/><circle cx="40" cy="493.1" r="1.8"/><circle cx="39" cy="489.7" r="1.9"/><circle cx="70.2" cy="487.4" r="1.3"/><circle cx="51" cy="485.6" r="1.7"/><circle cx="13.1" cy="500" r="1.8"/><circle cx="69.6" cy="504" r="1.5"/><circle cx="62.7" cy="492.6" r="1.6"/><circle cx="73.4" cy="487.9" r="1.8"/><circle cx="56.9" cy="498.3" r="1.5"/><circle cx="28.2" cy="498" r="1.3"/><circle cx="52.5" cy="491.6" r="1.4"/><circle cx="61.4" cy="506.1" r="1.4"/><circle cx="47.8" cy="494.8" r="1.3"/><circle cx="65.4" cy="497.5" r="1.7"/><circle cx="26.2" cy="500.8" r="1.9"/><circle cx="81.3" cy="500.4" r="1.6"/><circle cx="20.2" cy="496.4" r="1.7"/><circle cx="32.5" cy="504" r="1.6"/><circle cx="61" cy="487.6" r="1.5"/></g>
<g fill="#c89048" stroke="#7a4a28" stroke-width="0.35"><circle cx="54.5" cy="484.5" r="1.6"/><circle cx="55.7" cy="495.6" r="1.7"/><circle cx="56.5" cy="497.6" r="1.5"/><circle cx="49.6" cy="489.9" r="1.6"/><circle cx="29.8" cy="491.2" r="1.8"/><circle cx="64.6" cy="490.9" r="1.4"/><circle cx="48.4" cy="498" r="1.8"/><circle cx="64.6" cy="494.8" r="1.6"/><circle cx="45.4" cy="482.9" r="1.4"/><circle cx="36.5" cy="497.2" r="1.6"/><circle cx="14.6" cy="498.9" r="1.6"/><circle cx="58.7" cy="486.8" r="1.5"/><circle cx="62.5" cy="487.5" r="1.8"/><circle cx="73.8" cy="500.5" r="1.6"/><circle cx="71.4" cy="497" r="1.7"/><circle cx="25.8" cy="501.7" r="1.7"/><circle cx="45.4" cy="483.8" r="1.3"/><circle cx="33.8" cy="499.8" r="1.7"/><circle cx="46.9" cy="504.2" r="1.4"/><circle cx="32.5" cy="504.6" r="1.4"/><circle cx="37.8" cy="485.2" r="1.4"/><circle cx="76.9" cy="502.1" r="1.5"/><circle cx="50.8" cy="482.1" r="1.7"/><circle cx="23.2" cy="501.5" r="1.9"/><circle cx="60.9" cy="490.4" r="1.8"/><circle cx="39.1" cy="502.3" r="1.8"/><circle cx="49.9" cy="483.9" r="1.7"/><circle cx="49.2" cy="506.8" r="1.6"/><circle cx="36.2" cy="485.9" r="1.9"/><circle cx="68.7" cy="492.3" r="1.4"/><circle cx="72.3" cy="491.1" r="1.6"/><circle cx="47" cy="485.3" r="1.9"/><circle cx="13.8" cy="504.2" r="1.7"/><circle cx="65.7" cy="506.9" r="1.5"/><circle cx="65.8" cy="482.7" r="1.9"/></g>
<g fill="#d89050" stroke="#7a4a28" stroke-width="0.35"><circle cx="52.8" cy="496.9" r="1.5"/><circle cx="65.7" cy="487.8" r="1.5"/><circle cx="41.1" cy="499.5" r="1.4"/><circle cx="47.1" cy="500.3" r="1.4"/><circle cx="62.6" cy="490.1" r="1.6"/><circle cx="76.2" cy="503.8" r="1.4"/><circle cx="51.9" cy="481.5" r="1.6"/><circle cx="58.7" cy="501.2" r="1.4"/><circle cx="13.2" cy="501.3" r="1.5"/><circle cx="37.4" cy="502.6" r="1.7"/><circle cx="42.4" cy="490" r="1.3"/><circle cx="28.6" cy="496.2" r="1.6"/><circle cx="48.8" cy="504.7" r="1.6"/><circle cx="44.2" cy="495.2" r="1.4"/><circle cx="16.8" cy="501.2" r="1.3"/><circle cx="41.5" cy="486.5" r="1.9"/><circle cx="73.2" cy="504.8" r="1.8"/><circle cx="74.2" cy="500.2" r="1.8"/><circle cx="63.1" cy="485" r="1.6"/><circle cx="17.2" cy="496" r="1.5"/><circle cx="16.9" cy="499.5" r="1.7"/><circle cx="70.2" cy="504.3" r="1.7"/><circle cx="59.1" cy="499" r="1.4"/><circle cx="84.9" cy="498.7" r="1.8"/><circle cx="66.6" cy="492.7" r="1.3"/><circle cx="58.2" cy="494.5" r="1.6"/><circle cx="73.1" cy="491.2" r="1.7"/><circle cx="39.8" cy="488.9" r="1.6"/><circle cx="31.4" cy="500.6" r="1.8"/><circle cx="23.2" cy="498.1" r="1.4"/><circle cx="42.8" cy="505.6" r="1.4"/><circle cx="47.4" cy="488.7" r="1.6"/><circle cx="36.8" cy="483.6" r="1.8"/><circle cx="49.4" cy="480.8" r="1.6"/><circle cx="74.9" cy="506.3" r="1.7"/><circle cx="41.8" cy="481" r="1.7"/><circle cx="71" cy="506.7" r="1.5"/></g>
<g fill="#b88040" stroke="#7a4a28" stroke-width="0.35"><circle cx="52.9" cy="490.5" r="1.3"/><circle cx="44" cy="502.5" r="1.4"/><circle cx="34" cy="501.7" r="1.7"/><circle cx="38.4" cy="496.9" r="1.6"/><circle cx="60.9" cy="496.9" r="1.8"/><circle cx="74.5" cy="502.3" r="1.7"/><circle cx="46.2" cy="494.9" r="1.6"/><circle cx="21.4" cy="504" r="1.9"/><circle cx="79.6" cy="498.4" r="1.5"/><circle cx="76.1" cy="496.2" r="1.8"/><circle cx="54.7" cy="497.3" r="1.7"/><circle cx="46" cy="488" r="1.4"/><circle cx="20.1" cy="494.1" r="1.7"/><circle cx="46.9" cy="505.9" r="1.7"/><circle cx="80.8" cy="497.8" r="1.3"/><circle cx="34.9" cy="502.3" r="1.4"/><circle cx="38.1" cy="505.8" r="1.4"/><circle cx="39.8" cy="500.2" r="1.4"/><circle cx="18.5" cy="496.5" r="1.7"/><circle cx="39.1" cy="486.1" r="1.7"/><circle cx="61.2" cy="503.3" r="1.7"/><circle cx="38.7" cy="484.9" r="1.9"/><circle cx="59.3" cy="487.2" r="1.5"/><circle cx="55.4" cy="488.9" r="1.6"/><circle cx="59.9" cy="493.3" r="1.4"/><circle cx="23.6" cy="504.5" r="1.8"/><circle cx="48.2" cy="484.4" r="1.8"/><circle cx="56.2" cy="485.1" r="1.8"/><circle cx="47" cy="504" r="1.4"/><circle cx="67.9" cy="496.7" r="1.5"/><circle cx="77.7" cy="498.4" r="1.7"/><circle cx="30.8" cy="499.2" r="1.8"/><circle cx="74.8" cy="497.5" r="1.6"/><circle cx="72.4" cy="493.2" r="1.8"/></g>
<g fill="#c88050" stroke="#7a4a28" stroke-width="0.35"><circle cx="31.6" cy="499.1" r="1.3"/><circle cx="28.7" cy="493.6" r="1.7"/><circle cx="38.9" cy="498.9" r="1.8"/><circle cx="87.9" cy="496.8" r="1.4"/><circle cx="65.9" cy="503.8" r="1.9"/><circle cx="28.3" cy="503.8" r="1.4"/><circle cx="75.6" cy="503.1" r="1.7"/><circle cx="46.3" cy="489.8" r="1.6"/><circle cx="66.8" cy="505.4" r="1.9"/><circle cx="35" cy="488.9" r="1.8"/><circle cx="62.5" cy="495.2" r="1.8"/><circle cx="71.1" cy="499.7" r="1.6"/><circle cx="68.9" cy="487.6" r="1.3"/><circle cx="49.5" cy="490.9" r="1.6"/><circle cx="58" cy="489.6" r="1.7"/><circle cx="69.8" cy="487.8" r="1.5"/><circle cx="84.1" cy="499.5" r="1.8"/><circle cx="46.1" cy="500.6" r="1.7"/><circle cx="47.8" cy="489.9" r="1.5"/><circle cx="40.6" cy="500.4" r="1.4"/><circle cx="40.8" cy="497.8" r="1.6"/><circle cx="28.6" cy="504.9" r="1.7"/><circle cx="31" cy="499.6" r="1.5"/><circle cx="72.4" cy="488.6" r="1.5"/><circle cx="75.5" cy="491.6" r="1.5"/><circle cx="41.8" cy="488.1" r="1.9"/><circle cx="58" cy="495.3" r="1.7"/><circle cx="50.2" cy="504.9" r="1.4"/><circle cx="28.4" cy="497" r="1.9"/><circle cx="79.7" cy="501.3" r="1.5"/><circle cx="30.9" cy="497.7" r="1.4"/><circle cx="64.9" cy="504.8" r="1.9"/><circle cx="45" cy="499.8" r="1.6"/><circle cx="77.8" cy="502.1" r="1.7"/><circle cx="67.2" cy="502.5" r="1.6"/><circle cx="41.9" cy="501.6" r="1.7"/><circle cx="72.6" cy="499.5" r="1.7"/><circle cx="43.6" cy="499.2" r="1.5"/><circle cx="64.3" cy="493.5" r="1.8"/></g>
<g fill="#e09060" stroke="#7a4a28" stroke-width="0.35"><circle cx="72.2" cy="493.1" r="1.9"/><circle cx="49.1" cy="482" r="1.7"/><circle cx="44.4" cy="495.3" r="1.7"/><circle cx="59.1" cy="484.9" r="1.5"/><circle cx="48.7" cy="483.2" r="1.4"/><circle cx="38.5" cy="486.8" r="1.6"/><circle cx="73.2" cy="493.3" r="1.4"/><circle cx="45.8" cy="505.4" r="1.9"/><circle cx="27" cy="494" r="1.8"/><circle cx="30.7" cy="491.9" r="1.4"/><circle cx="47.9" cy="499.9" r="1.6"/><circle cx="19.8" cy="501.2" r="1.9"/><circle cx="37.1" cy="486.1" r="1.5"/><circle cx="35.3" cy="502.8" r="1.3"/><circle cx="31.3" cy="494.3" r="1.4"/><circle cx="63.2" cy="490.8" r="1.5"/><circle cx="30.6" cy="500.4" r="1.8"/><circle cx="58.6" cy="489.5" r="1.5"/><circle cx="48" cy="502.3" r="1.8"/><circle cx="87.8" cy="496.2" r="1.9"/><circle cx="21.4" cy="502" r="1.5"/><circle cx="76.6" cy="496.9" r="1.5"/><circle cx="30.2" cy="494.9" r="1.8"/><circle cx="43.1" cy="488.8" r="1.4"/><circle cx="33.6" cy="489.7" r="1.5"/><circle cx="65.6" cy="502.5" r="1.9"/><circle cx="65.1" cy="487.7" r="1.4"/><circle cx="64.4" cy="497.7" r="1.6"/><circle cx="51.5" cy="498.2" r="1.8"/><circle cx="22.9" cy="501.3" r="1.9"/><circle cx="51" cy="497.6" r="1.8"/><circle cx="41.4" cy="500.8" r="1.4"/><circle cx="44.3" cy="497.6" r="1.7"/><circle cx="55.2" cy="489.4" r="1.9"/><circle cx="35.7" cy="508.5" r="1.8"/><circle cx="90.8" cy="498.6" r="1.8"/><circle cx="29.2" cy="488.1" r="1.6"/></g>
<g fill="#c86848" stroke="#7a4a28" stroke-width="0.35"><circle cx="60.5" cy="496.2" r="1.3"/><circle cx="55.1" cy="497.1" r="1.6"/><circle cx="46.5" cy="503.6" r="1.9"/><circle cx="41.8" cy="491.2" r="1.6"/><circle cx="44.7" cy="497.5" r="1.4"/><circle cx="81.8" cy="498.2" r="1.8"/><circle cx="26.2" cy="492.6" r="1.5"/><circle cx="63.4" cy="486.8" r="1.7"/><circle cx="29.7" cy="492.6" r="1.7"/><circle cx="80.4" cy="492.2" r="1.3"/><circle cx="62.6" cy="499.6" r="1.8"/><circle cx="67.9" cy="497.7" r="1.3"/><circle cx="42.4" cy="499.9" r="1.5"/><circle cx="41.2" cy="503.6" r="1.3"/><circle cx="72.8" cy="492.1" r="1.3"/><circle cx="53.9" cy="499.7" r="1.3"/><circle cx="42.5" cy="487.2" r="1.6"/><circle cx="55.6" cy="504.1" r="1.7"/><circle cx="87" cy="497.3" r="1.6"/><circle cx="48" cy="487.1" r="1.4"/><circle cx="65.7" cy="499.7" r="1.5"/><circle cx="40.4" cy="501" r="1.5"/><circle cx="48" cy="505.9" r="1.9"/><circle cx="72.7" cy="496.5" r="1.6"/><circle cx="48.5" cy="495.2" r="1.4"/><circle cx="66.8" cy="492.6" r="1.4"/><circle cx="49.7" cy="493.6" r="1.5"/><circle cx="48.6" cy="482.4" r="1.9"/><circle cx="27.5" cy="491.4" r="1.6"/><circle cx="61.9" cy="489" r="1.4"/><circle cx="69.8" cy="486.8" r="1.5"/><circle cx="59" cy="498.1" r="1.4"/><circle cx="26" cy="496.8" r="1.6"/><circle cx="66.9" cy="487.9" r="1.6"/><circle cx="85.6" cy="500.4" r="1.5"/><circle cx="80.4" cy="500.7" r="1.7"/><circle cx="78.1" cy="497.1" r="1.3"/><circle cx="60.2" cy="490.2" r="1.5"/><circle cx="47.1" cy="484.7" r="1.7"/><circle cx="78.2" cy="499.2" r="1.7"/><circle cx="78" cy="493.6" r="1.3"/><circle cx="42" cy="505.8" r="1.9"/><circle cx="63.3" cy="502.6" r="1.8"/><circle cx="31.4" cy="490.8" r="1.5"/><circle cx="78.1" cy="487.8" r="1.8"/></g>
<g fill="#d09858" stroke="#7a4a28" stroke-width="0.35"><circle cx="37.2" cy="490.1" r="1.6"/><circle cx="40.9" cy="498.4" r="1.3"/><circle cx="58.2" cy="493.3" r="1.4"/><circle cx="42.5" cy="495" r="1.6"/><circle cx="61" cy="505.9" r="1.5"/><circle cx="28.8" cy="500.7" r="1.4"/><circle cx="59.7" cy="484.5" r="1.6"/><circle cx="31.5" cy="498.5" r="1.7"/><circle cx="33.3" cy="494.4" r="1.6"/><circle cx="53.9" cy="489.1" r="1.4"/><circle cx="80.9" cy="499.3" r="1.4"/><circle cx="41.5" cy="485.1" r="1.9"/><circle cx="19.6" cy="497.7" r="1.3"/><circle cx="54" cy="492.8" r="1.5"/><circle cx="44" cy="500.9" r="1.8"/><circle cx="22.4" cy="494.6" r="1.7"/><circle cx="66.4" cy="489" r="1.3"/><circle cx="31.2" cy="504.1" r="1.4"/><circle cx="43.2" cy="499.5" r="1.4"/><circle cx="17" cy="499.3" r="1.4"/><circle cx="50.6" cy="487" r="1.8"/><circle cx="47.2" cy="492.6" r="1.7"/><circle cx="56.2" cy="490.4" r="1.8"/><circle cx="43.4" cy="490.5" r="1.3"/><circle cx="75.7" cy="504.2" r="1.7"/><circle cx="34.8" cy="488.8" r="1.3"/><circle cx="77.6" cy="500.4" r="1.6"/><circle cx="36.3" cy="487.2" r="1.8"/><circle cx="67.3" cy="490.6" r="1.5"/><circle cx="40.3" cy="504" r="1.4"/><circle cx="37.9" cy="489.5" r="1.4"/><circle cx="63" cy="500.3" r="1.4"/><circle cx="18.1" cy="495.9" r="1.6"/><circle cx="38.6" cy="498" r="1.5"/><circle cx="70.2" cy="483.8" r="1.5"/><circle cx="41.3" cy="482.3" r="1.3"/></g></g>
<g transform="matrix(1.0085 0 0 0.8614 -1.25 69.13)"><path d="M99.0 500.0C99.5 497.8 104.5 495.3 108.0 493.0C111.5 490.7 115.8 488.2 120.0 486.0C124.2 483.8 129.2 481.2 133.0 480.0C136.8 478.8 139.3 478.5 143.0 478.5C146.7 478.5 151.3 478.9 155.0 480.0C158.7 481.1 161.7 483.0 165.0 485.0C168.3 487.0 172.3 489.7 175.0 492.0C177.7 494.3 181.0 496.8 181.0 499.0C181.0 501.2 178.5 503.2 175.0 505.0C171.5 506.8 165.8 508.9 160.0 510.0C154.2 511.1 146.7 511.3 140.0 511.5C133.3 511.7 125.8 511.9 120.0 511.0C114.2 510.1 108.5 507.8 105.0 506.0C101.5 504.2 98.5 502.2 99.0 500.0Z" fill="#8a5e3c"/>
<g fill="#b07848" stroke="#62402a" stroke-width="0.35"><circle cx="165.5" cy="495.2" r="1.5"/><circle cx="172.6" cy="491.8" r="1.6"/><circle cx="158.5" cy="500.4" r="1.4"/><circle cx="130.7" cy="505.9" r="1.4"/><circle cx="172.9" cy="497.7" r="1.4"/><circle cx="173.9" cy="496.5" r="1.5"/><circle cx="152.9" cy="482.3" r="1.9"/><circle cx="115.5" cy="503.8" r="1.5"/><circle cx="132.4" cy="481.1" r="1.3"/><circle cx="139.8" cy="494.1" r="1.4"/><circle cx="159.1" cy="487.4" r="1.6"/><circle cx="142.1" cy="484.9" r="1.6"/><circle cx="106.6" cy="498.5" r="1.8"/><circle cx="119.9" cy="491.3" r="1.6"/><circle cx="140.5" cy="488.3" r="1.5"/><circle cx="150" cy="483.2" r="1.7"/><circle cx="175.2" cy="500.4" r="1.7"/><circle cx="122.7" cy="506.9" r="1.6"/><circle cx="119.8" cy="507.6" r="1.4"/><circle cx="167" cy="488.9" r="1.3"/><circle cx="126" cy="506.7" r="1.5"/><circle cx="155.9" cy="485.1" r="1.3"/><circle cx="162.1" cy="488.9" r="1.4"/><circle cx="111.8" cy="505.7" r="1.4"/><circle cx="159.4" cy="487.6" r="1.9"/><circle cx="141.9" cy="507.4" r="1.7"/><circle cx="106.7" cy="502.5" r="1.5"/><circle cx="139.5" cy="507.4" r="1.6"/><circle cx="150.1" cy="496.5" r="1.9"/><circle cx="164.7" cy="500.4" r="1.5"/><circle cx="112.1" cy="501.4" r="1.7"/><circle cx="127.1" cy="495.2" r="1.5"/><circle cx="118.9" cy="496.6" r="1.8"/><circle cx="131.1" cy="487.1" r="1.6"/><circle cx="149" cy="495.4" r="1.5"/><circle cx="159.9" cy="500.4" r="1.4"/><circle cx="114.8" cy="496.5" r="1.8"/><circle cx="139.5" cy="502" r="1.7"/><circle cx="169.3" cy="493.8" r="1.4"/><circle cx="120.7" cy="499.3" r="1.8"/><circle cx="116.7" cy="494.8" r="1.5"/><circle cx="125.7" cy="492.3" r="1.3"/><circle cx="131.1" cy="484.7" r="1.5"/><circle cx="109.4" cy="496.8" r="1.8"/><circle cx="120.5" cy="493.1" r="1.9"/><circle cx="105.8" cy="495.8" r="1.8"/><circle cx="142.3" cy="499" r="1.3"/><circle cx="117.3" cy="501.9" r="1.9"/><circle cx="108.4" cy="495.4" r="1.8"/><circle cx="130.9" cy="488.3" r="1.6"/><circle cx="122.3" cy="504.7" r="1.7"/><circle cx="111.1" cy="505.5" r="1.4"/><circle cx="117.7" cy="497.5" r="1.3"/><circle cx="137.8" cy="500.7" r="1.6"/><circle cx="169.6" cy="497.9" r="1.8"/><circle cx="170.7" cy="501.7" r="1.8"/><circle cx="155.9" cy="488.7" r="1.7"/><circle cx="128.7" cy="493.7" r="1.7"/><circle cx="137" cy="502" r="1.7"/><circle cx="143.2" cy="485.9" r="1.5"/><circle cx="162.2" cy="504.5" r="1.6"/><circle cx="158.5" cy="495.2" r="1.4"/><circle cx="171.7" cy="496.4" r="1.5"/><circle cx="133.1" cy="489.8" r="1.5"/><circle cx="143.3" cy="480.5" r="1.5"/><circle cx="166.1" cy="507.8" r="1.6"/><circle cx="120.6" cy="491.6" r="1.4"/><circle cx="156.4" cy="503.2" r="1.5"/><circle cx="146.2" cy="491" r="1.8"/><circle cx="125.7" cy="488.7" r="1.5"/><circle cx="146.4" cy="495.2" r="1.4"/><circle cx="151.5" cy="488.3" r="1.8"/><circle cx="116" cy="494.9" r="1.8"/><circle cx="163.5" cy="487.3" r="1.3"/><circle cx="111.4" cy="500.3" r="1.8"/><circle cx="178.7" cy="496" r="1.9"/><circle cx="129.3" cy="478.8" r="1.5"/></g>
<g fill="#bc8454" stroke="#62402a" stroke-width="0.35"><circle cx="109.4" cy="501.8" r="1.4"/><circle cx="136.6" cy="493.5" r="1.6"/><circle cx="143.3" cy="479.7" r="1.7"/><circle cx="122.4" cy="490.3" r="1.8"/><circle cx="129.9" cy="506" r="1.8"/><circle cx="128.5" cy="505.2" r="1.6"/><circle cx="134.3" cy="482.5" r="1.4"/><circle cx="131.3" cy="490.4" r="1.4"/><circle cx="140.2" cy="501.8" r="1.4"/><circle cx="125.6" cy="491.2" r="1.6"/><circle cx="152.6" cy="490.6" r="1.8"/><circle cx="174.2" cy="498.6" r="1.6"/><circle cx="103.2" cy="496.8" r="1.7"/><circle cx="138.3" cy="497.1" r="1.9"/><circle cx="122.7" cy="485.7" r="1.6"/><circle cx="129.7" cy="499.2" r="1.3"/><circle cx="130.5" cy="496.5" r="1.7"/><circle cx="170.3" cy="501" r="1.6"/><circle cx="173.3" cy="492.5" r="1.4"/><circle cx="164.2" cy="501.7" r="1.7"/><circle cx="149.6" cy="498.9" r="1.6"/><circle cx="158.3" cy="498.2" r="1.4"/><circle cx="126.7" cy="502.1" r="1.8"/><circle cx="135.5" cy="481.2" r="1.3"/><circle cx="146" cy="498.8" r="1.8"/><circle cx="150.2" cy="493.2" r="1.4"/><circle cx="133.8" cy="493.4" r="1.7"/><circle cx="167.3" cy="504.1" r="1.7"/><circle cx="135.4" cy="487.6" r="1.6"/><circle cx="117" cy="508.7" r="1.7"/><circle cx="117.1" cy="506.5" r="1.4"/><circle cx="174.6" cy="492.9" r="1.6"/><circle cx="120.2" cy="509.8" r="1.5"/><circle cx="118.8" cy="507.2" r="1.7"/><circle cx="161.6" cy="488.9" r="1.6"/><circle cx="171.6" cy="495.4" r="1.8"/><circle cx="144.4" cy="488.4" r="1.6"/><circle cx="142.5" cy="506.5" r="1.7"/><circle cx="129.9" cy="500.5" r="1.9"/><circle cx="138.7" cy="486.1" r="1.6"/><circle cx="128.4" cy="484.1" r="1.7"/><circle cx="171.6" cy="497.4" r="1.8"/><circle cx="171.5" cy="493.9" r="1.5"/><circle cx="170.2" cy="502.4" r="1.7"/><circle cx="122.7" cy="507.3" r="1.5"/><circle cx="174.8" cy="493.7" r="1.8"/><circle cx="110.2" cy="498.9" r="1.6"/><circle cx="133.3" cy="505" r="1.3"/><circle cx="149.9" cy="503.9" r="1.9"/><circle cx="125.1" cy="489.5" r="1.7"/><circle cx="129" cy="486.9" r="1.7"/><circle cx="112.2" cy="502.1" r="1.5"/><circle cx="115.7" cy="494.4" r="1.5"/><circle cx="147.7" cy="489.1" r="1.9"/><circle cx="159.9" cy="492.7" r="1.7"/><circle cx="156.9" cy="496.2" r="1.8"/><circle cx="136.9" cy="490.6" r="1.7"/><circle cx="166.3" cy="488.6" r="1.4"/><circle cx="104.4" cy="505" r="1.7"/><circle cx="157.3" cy="507.6" r="1.9"/><circle cx="145.8" cy="501.8" r="1.3"/><circle cx="165.3" cy="502.9" r="1.7"/><circle cx="119.4" cy="492.2" r="1.4"/><circle cx="122" cy="500.1" r="1.9"/><circle cx="140.1" cy="500" r="1.7"/><circle cx="107.9" cy="497" r="1.5"/><circle cx="113" cy="495.2" r="1.6"/><circle cx="142.4" cy="509.5" r="1.4"/><circle cx="107.7" cy="503.1" r="1.5"/><circle cx="101.9" cy="502.6" r="1.4"/><circle cx="164.6" cy="501.8" r="1.5"/><circle cx="144.1" cy="495.7" r="1.5"/><circle cx="156.3" cy="486.8" r="1.4"/><circle cx="117.6" cy="503.1" r="1.9"/><circle cx="122.7" cy="484.9" r="1.4"/><circle cx="159.2" cy="494.1" r="1.3"/><circle cx="142.4" cy="493.1" r="1.4"/><circle cx="105.7" cy="508.3" r="1.5"/></g>
<g fill="#a46e44" stroke="#62402a" stroke-width="0.35"><circle cx="112" cy="498.3" r="1.6"/><circle cx="150.2" cy="488.7" r="1.5"/><circle cx="123.2" cy="485.8" r="1.3"/><circle cx="130.7" cy="497.4" r="1.7"/><circle cx="117.3" cy="488.3" r="1.6"/><circle cx="165.2" cy="502.9" r="1.5"/><circle cx="150.3" cy="510.1" r="1.8"/><circle cx="150.2" cy="505.7" r="1.9"/><circle cx="158.4" cy="498.3" r="1.5"/><circle cx="129.1" cy="506.4" r="1.6"/><circle cx="120.8" cy="509.7" r="1.8"/><circle cx="145.3" cy="497.6" r="1.8"/><circle cx="148.3" cy="500.1" r="1.9"/><circle cx="128.6" cy="490.6" r="1.6"/><circle cx="122.6" cy="501.1" r="1.6"/><circle cx="159.4" cy="502.8" r="1.6"/><circle cx="152.9" cy="504.2" r="1.8"/><circle cx="155.1" cy="508.5" r="1.8"/><circle cx="160.4" cy="507.7" r="1.9"/><circle cx="142.4" cy="500.9" r="1.7"/><circle cx="143.9" cy="500" r="1.7"/><circle cx="143.9" cy="484.5" r="1.7"/><circle cx="116.4" cy="495.7" r="1.8"/><circle cx="140.3" cy="480.2" r="1.8"/><circle cx="110.3" cy="505.5" r="1.5"/><circle cx="169.4" cy="489.1" r="1.9"/><circle cx="142.3" cy="499.1" r="1.8"/><circle cx="158.3" cy="500.6" r="1.5"/><circle cx="120.1" cy="497.4" r="1.7"/><circle cx="165.1" cy="496.9" r="1.8"/><circle cx="145.3" cy="485.3" r="1.6"/><circle cx="164.9" cy="497" r="1.5"/><circle cx="151.6" cy="489.9" r="1.5"/><circle cx="153.5" cy="490.4" r="1.7"/><circle cx="114.8" cy="496" r="1.3"/><circle cx="144.4" cy="488" r="1.6"/><circle cx="156.5" cy="488.8" r="1.6"/><circle cx="170.3" cy="493.3" r="1.8"/><circle cx="121.1" cy="505.7" r="1.6"/><circle cx="150.8" cy="507.5" r="1.8"/><circle cx="140" cy="503.7" r="1.9"/><circle cx="136.3" cy="484.3" r="1.5"/><circle cx="129.9" cy="490" r="1.6"/><circle cx="105.7" cy="499.5" r="1.9"/><circle cx="118.4" cy="496.1" r="1.9"/><circle cx="137.7" cy="491" r="1.7"/><circle cx="169.2" cy="502.9" r="1.5"/><circle cx="149.6" cy="495.8" r="1.7"/><circle cx="131.4" cy="495.5" r="1.8"/><circle cx="148.2" cy="479.6" r="1.4"/><circle cx="106.8" cy="498.3" r="1.5"/><circle cx="129.7" cy="486.3" r="1.6"/><circle cx="151.2" cy="505.9" r="1.9"/><circle cx="146.2" cy="509.1" r="1.6"/><circle cx="105.6" cy="501.3" r="1.7"/><circle cx="145.6" cy="486.3" r="1.6"/><circle cx="140.5" cy="482.6" r="1.4"/><circle cx="143.5" cy="477.1" r="1.6"/><circle cx="176.4" cy="505.1" r="1.7"/><circle cx="119.2" cy="485.9" r="1.4"/><circle cx="139.1" cy="478.3" r="1.8"/><circle cx="127.7" cy="482.3" r="1.8"/><circle cx="127.6" cy="512.1" r="1.4"/></g>
<g fill="#c49064" stroke="#62402a" stroke-width="0.35"><circle cx="156.5" cy="495.7" r="1.6"/><circle cx="176.6" cy="497.6" r="1.7"/><circle cx="134.7" cy="486.1" r="1.5"/><circle cx="125.7" cy="490.6" r="1.7"/><circle cx="107.9" cy="502.3" r="1.7"/><circle cx="148.3" cy="508.4" r="1.7"/><circle cx="173.5" cy="503" r="1.9"/><circle cx="152.4" cy="482.1" r="1.6"/><circle cx="140.6" cy="481.2" r="1.4"/><circle cx="164.9" cy="495.1" r="1.5"/><circle cx="149" cy="501.1" r="1.4"/><circle cx="125.8" cy="492" r="1.4"/><circle cx="147" cy="498.8" r="1.5"/><circle cx="166.6" cy="499.9" r="1.4"/><circle cx="166.9" cy="493.3" r="1.9"/><circle cx="107.4" cy="506.3" r="1.7"/><circle cx="128.9" cy="489.9" r="1.5"/><circle cx="164" cy="503.5" r="1.4"/><circle cx="138.5" cy="511" r="1.7"/><circle cx="175.8" cy="492.9" r="1.3"/><circle cx="114.5" cy="505.1" r="1.7"/><circle cx="147.7" cy="506.2" r="1.9"/><circle cx="128.2" cy="488.7" r="1.4"/><circle cx="156.8" cy="501.2" r="1.5"/><circle cx="150.8" cy="481" r="1.5"/><circle cx="157.1" cy="509" r="1.7"/><circle cx="103.7" cy="503.8" r="1.7"/><circle cx="174.1" cy="502.8" r="1.6"/><circle cx="137.7" cy="487.9" r="1.9"/><circle cx="145.6" cy="501.8" r="1.6"/><circle cx="135.7" cy="489.5" r="1.6"/><circle cx="147.8" cy="504.4" r="1.6"/><circle cx="164.5" cy="495.2" r="1.6"/><circle cx="135.1" cy="488" r="1.3"/><circle cx="140.7" cy="487.8" r="1.7"/><circle cx="157.4" cy="501" r="1.5"/><circle cx="132.2" cy="509.6" r="1.6"/><circle cx="139.3" cy="503.1" r="1.4"/><circle cx="153.4" cy="488.2" r="1.4"/><circle cx="123.7" cy="496.6" r="1.4"/><circle cx="118.2" cy="505.7" r="1.8"/><circle cx="138" cy="498.8" r="1.4"/><circle cx="130.2" cy="492.3" r="1.5"/><circle cx="130.2" cy="492" r="1.8"/><circle cx="155.5" cy="483.7" r="1.3"/><circle cx="122.3" cy="505.1" r="1.8"/><circle cx="137.9" cy="505.3" r="1.7"/><circle cx="109.7" cy="494" r="1.7"/><circle cx="175.8" cy="503.7" r="1.8"/><circle cx="145.6" cy="491.9" r="1.3"/><circle cx="144.3" cy="494.2" r="1.5"/><circle cx="132.6" cy="483.1" r="1.8"/><circle cx="127.5" cy="498.9" r="1.4"/><circle cx="112.3" cy="499.3" r="1.4"/><circle cx="109.1" cy="500.7" r="1.7"/><circle cx="122" cy="508.6" r="1.5"/><circle cx="132.4" cy="507.3" r="1.9"/><circle cx="144.7" cy="510.4" r="1.5"/><circle cx="162.5" cy="487" r="1.7"/><circle cx="118.8" cy="495.9" r="1.4"/><circle cx="127.6" cy="488.7" r="1.7"/><circle cx="159.2" cy="486.3" r="1.5"/><circle cx="127.3" cy="496.5" r="1.5"/><circle cx="163" cy="489.5" r="1.9"/><circle cx="168.2" cy="498.4" r="1.5"/><circle cx="141.7" cy="491.7" r="1.8"/><circle cx="140" cy="486.6" r="1.5"/><circle cx="156" cy="505.5" r="1.3"/><circle cx="137.5" cy="504.6" r="1.7"/><circle cx="136.5" cy="488.1" r="1.5"/><circle cx="171.7" cy="508.4" r="1.6"/><circle cx="162.1" cy="481.4" r="1.3"/><circle cx="117.1" cy="511.9" r="1.9"/></g>
<g fill="#b48050" stroke="#62402a" stroke-width="0.35"><circle cx="126.8" cy="501.3" r="1.6"/><circle cx="156.6" cy="509.8" r="1.8"/><circle cx="140.8" cy="480.9" r="1.8"/><circle cx="164.3" cy="491.1" r="1.8"/><circle cx="101.8" cy="500.4" r="1.8"/><circle cx="116.2" cy="507.4" r="1.3"/><circle cx="141.2" cy="481.5" r="1.9"/><circle cx="142.3" cy="510.8" r="1.7"/><circle cx="124.6" cy="488.1" r="1.7"/><circle cx="175.8" cy="502.5" r="1.8"/><circle cx="147" cy="500.7" r="1.4"/><circle cx="119.1" cy="486.6" r="1.4"/><circle cx="160.3" cy="486.7" r="1.8"/><circle cx="164.1" cy="491.3" r="1.7"/><circle cx="136.7" cy="500.6" r="1.5"/><circle cx="144.9" cy="489.3" r="1.8"/><circle cx="146.4" cy="508.1" r="1.9"/><circle cx="140" cy="510.6" r="1.6"/><circle cx="139.9" cy="500.1" r="1.5"/><circle cx="157.8" cy="500.5" r="1.5"/><circle cx="163.1" cy="495.1" r="1.3"/><circle cx="131.5" cy="501.4" r="1.5"/><circle cx="134.7" cy="508" r="1.8"/><circle cx="141.5" cy="489.6" r="1.9"/><circle cx="145.2" cy="487.3" r="1.6"/><circle cx="138.2" cy="493.9" r="1.8"/><circle cx="108.8" cy="495.5" r="1.6"/><circle cx="124.4" cy="510.8" r="1.8"/><circle cx="101.2" cy="501.5" r="1.7"/><circle cx="161.1" cy="507.7" r="1.7"/><circle cx="146.7" cy="501.4" r="1.9"/><circle cx="144.8" cy="499.3" r="1.8"/><circle cx="142.5" cy="492.5" r="1.8"/><circle cx="153.9" cy="491" r="1.6"/><circle cx="164.2" cy="490.9" r="1.7"/><circle cx="177.7" cy="501.3" r="1.6"/><circle cx="123.9" cy="502.4" r="1.6"/><circle cx="160.4" cy="483.3" r="1.7"/><circle cx="121.1" cy="499.7" r="1.8"/><circle cx="131.8" cy="486.2" r="1.6"/><circle cx="148.4" cy="480.7" r="1.8"/><circle cx="118.6" cy="510.1" r="1.7"/><circle cx="171.9" cy="499.8" r="1.6"/><circle cx="112.2" cy="508.2" r="1.5"/><circle cx="144.9" cy="479.3" r="1.5"/><circle cx="163.5" cy="485.2" r="1.5"/><circle cx="148.2" cy="506.3" r="1.4"/><circle cx="149.2" cy="500.6" r="1.5"/><circle cx="123.1" cy="504.4" r="1.9"/><circle cx="164.4" cy="506.8" r="1.6"/><circle cx="164.6" cy="506.8" r="1.9"/><circle cx="157.2" cy="503.8" r="1.7"/><circle cx="144" cy="482" r="1.8"/><circle cx="158.4" cy="485.4" r="1.6"/><circle cx="145.3" cy="496.9" r="1.9"/><circle cx="127.7" cy="500.3" r="1.4"/><circle cx="168.6" cy="498.6" r="1.5"/><circle cx="123.3" cy="500" r="1.3"/><circle cx="150.6" cy="503.4" r="1.8"/><circle cx="161.1" cy="496.5" r="1.4"/><circle cx="155" cy="510.3" r="1.9"/><circle cx="142.8" cy="476.6" r="1.7"/><circle cx="112.6" cy="488" r="1.5"/><circle cx="175.6" cy="489.7" r="1.9"/><circle cx="116" cy="487.7" r="1.4"/></g></g>
<ellipse cx="211.9" cy="494.5" rx="4.6" ry="7" fill="url(#ov)"/>
<g transform="matrix(1.0746 0 0 0.7803 -5.89 134.18)"><path d="M38.0 617.0C38.0 614.7 39.7 610.3 42.0 608.0C44.3 605.7 48.3 604.2 52.0 603.0C55.7 601.8 60.0 601.2 64.0 601.0C68.0 600.8 73.5 600.8 76.0 602.0C78.5 603.2 79.3 605.7 79.0 608.0C78.7 610.3 76.5 613.8 74.0 616.0C71.5 618.2 68.0 619.8 64.0 621.0C60.0 622.2 53.7 622.8 50.0 623.0C46.3 623.2 44.0 623.0 42.0 622.0C40.0 621.0 38.0 619.3 38.0 617.0Z" fill="#f0ece2" opacity="0.9"/>
<g fill="#f8f6f0"><circle cx="57" cy="609.2" r="1.3"/><circle cx="75.4" cy="609.7" r="1.4"/><circle cx="46.2" cy="620.5" r="1.6"/><circle cx="69.4" cy="616.4" r="1.3"/><circle cx="68.6" cy="617.2" r="1.5"/><circle cx="56.5" cy="609.8" r="1.7"/><circle cx="50.6" cy="607.3" r="1.5"/><circle cx="56.6" cy="611.8" r="1.5"/><circle cx="57.5" cy="607.9" r="1.6"/><circle cx="46.7" cy="612.9" r="1.4"/><circle cx="44" cy="615.9" r="1.6"/><circle cx="54.6" cy="618.2" r="1.4"/><circle cx="68.4" cy="605.6" r="1.2"/></g>
<g fill="#ece6d6"><circle cx="42.5" cy="612.1" r="1.7"/><circle cx="69.7" cy="609.4" r="1.6"/><circle cx="44.6" cy="612.1" r="1.6"/><circle cx="53.5" cy="614.4" r="1.2"/><circle cx="46.8" cy="610.8" r="1.4"/><circle cx="52.2" cy="618.1" r="1.5"/><circle cx="71.2" cy="606.8" r="1.3"/><circle cx="49.7" cy="611.6" r="1.3"/><circle cx="74.4" cy="613" r="1.5"/><circle cx="74" cy="613.6" r="1.7"/><circle cx="63.6" cy="613" r="1.4"/><circle cx="52.9" cy="620.7" r="1.7"/><circle cx="55.9" cy="617" r="1.3"/><circle cx="43.7" cy="610.2" r="1.6"/><circle cx="55.5" cy="624.4" r="1.4"/><circle cx="62.9" cy="599.2" r="1.4"/><circle cx="37.7" cy="612.8" r="1.6"/></g>
<g fill="#e0d6c2"><circle cx="40.2" cy="613.2" r="1.5"/><circle cx="58.3" cy="603.2" r="1.2"/><circle cx="62.1" cy="602.8" r="1.2"/><circle cx="42.4" cy="608.7" r="1.3"/><circle cx="65.9" cy="603.9" r="1.2"/><circle cx="61.3" cy="618.6" r="1.6"/><circle cx="60.4" cy="621.4" r="1.2"/><circle cx="69.2" cy="611" r="1.4"/><circle cx="60.9" cy="604.5" r="1.5"/><circle cx="39.4" cy="609.6" r="1.4"/><circle cx="52.6" cy="624.8" r="1.6"/><circle cx="76.5" cy="612.7" r="1.5"/></g>
<g fill="#fbfaf6"><circle cx="43" cy="616.5" r="1.7"/><circle cx="62.9" cy="601.3" r="1.2"/><circle cx="45.1" cy="614.9" r="1.2"/><circle cx="53.3" cy="617.3" r="1.4"/><circle cx="58.6" cy="611.2" r="1.2"/><circle cx="59.8" cy="621.5" r="1.5"/><circle cx="40.3" cy="619.8" r="1.5"/><circle cx="50.9" cy="619.5" r="1.6"/><circle cx="59.7" cy="607.9" r="1.6"/></g>
<g fill="#f2eee4"><circle cx="61" cy="604.1" r="1.3"/><circle cx="62.1" cy="618.7" r="1.5"/><circle cx="41.4" cy="613.1" r="1.5"/><circle cx="53.1" cy="615" r="1.3"/><circle cx="69.3" cy="616" r="1.2"/><circle cx="42.2" cy="618.6" r="1.2"/><circle cx="73.3" cy="605.4" r="1.6"/></g>
<g fill="#8a7a64"><circle cx="51.9" cy="611.2" r="1.5"/><circle cx="69.3" cy="605.3" r="1.6"/><circle cx="73.6" cy="603.4" r="1.6"/><circle cx="70.2" cy="607.5" r="1.2"/><circle cx="56" cy="605.1" r="1.4"/><circle cx="65.5" cy="610.3" r="1.3"/><circle cx="54" cy="613.9" r="1.6"/><circle cx="56.5" cy="616" r="1.3"/><circle cx="40" cy="618" r="1.4"/><circle cx="64.9" cy="608.5" r="1.6"/><circle cx="59" cy="612" r="1.3"/><circle cx="76.4" cy="609.1" r="1.5"/><circle cx="59.2" cy="622.2" r="1.2"/><circle cx="38.8" cy="618.6" r="1.6"/></g>
<g fill="#f6f2ea"><circle cx="60.7" cy="614.6" r="1.2"/><circle cx="44.9" cy="621.8" r="1.7"/><circle cx="75.7" cy="605.5" r="1.3"/><circle cx="41.5" cy="611.9" r="1.7"/><circle cx="55.4" cy="606.1" r="1.7"/><circle cx="68.6" cy="607.5" r="1.3"/><circle cx="56.5" cy="616.5" r="1.6"/><circle cx="73.2" cy="605.5" r="1.4"/><circle cx="62.5" cy="614.5" r="1.5"/><circle cx="61.1" cy="620.4" r="1.6"/><circle cx="51.9" cy="610.8" r="1.5"/><circle cx="41.9" cy="619.1" r="1.7"/><circle cx="52.7" cy="606.9" r="1.4"/><circle cx="66.1" cy="601.4" r="1.4"/><circle cx="75" cy="605.8" r="1.3"/><circle cx="64.1" cy="618.5" r="1.7"/><circle cx="75.8" cy="604.3" r="1.4"/><circle cx="50.7" cy="606" r="1.3"/><circle cx="37.8" cy="613.9" r="1.5"/></g>
<g fill="#b8aa92"><circle cx="39" cy="618.2" r="1.6"/><circle cx="67.7" cy="616.9" r="1.3"/><circle cx="65.8" cy="601.6" r="1.3"/><circle cx="47.5" cy="619.1" r="1.6"/><circle cx="51.7" cy="618.2" r="1.2"/><circle cx="51" cy="606.4" r="1.5"/><circle cx="46.6" cy="607.1" r="1.4"/><circle cx="40.5" cy="618.8" r="1.4"/><circle cx="43.5" cy="606.9" r="1.3"/></g></g>
<g transform="matrix(0.9795 0 0 0.8850 1.59 69.52)"><path d="M79.0 604.0C79.7 602.5 81.5 601.0 84.0 600.0C86.5 599.0 90.7 598.2 94.0 598.0C97.3 597.8 101.3 598.2 104.0 598.5C106.7 598.8 109.3 598.8 110.0 600.0C110.7 601.2 109.7 604.3 108.0 606.0C106.3 607.7 103.3 609.2 100.0 610.0C96.7 610.8 91.3 611.2 88.0 611.0C84.7 610.8 81.5 610.2 80.0 609.0C78.5 607.8 78.3 605.5 79.0 604.0Z" fill="#902838"/>
<g fill="#a83040" stroke="#742030" stroke-width="0.3"><circle cx="88.7" cy="605.1" r="1.7"/><circle cx="104.4" cy="606.6" r="1.7"/><circle cx="100.1" cy="599.9" r="1.7"/><circle cx="96.3" cy="599.3" r="2"/><circle cx="87.2" cy="602.7" r="1.8"/><circle cx="81.2" cy="603.5" r="1.5"/><circle cx="81" cy="609" r="1.9"/><circle cx="88.5" cy="605.2" r="1.9"/><circle cx="106" cy="606.5" r="1.7"/><circle cx="91" cy="599.3" r="1.8"/><circle cx="101.4" cy="604.9" r="1.9"/><circle cx="105" cy="602.4" r="2"/><circle cx="102.6" cy="599.6" r="1.5"/></g>
<g fill="#c04050" stroke="#742030" stroke-width="0.3"><circle cx="96.7" cy="603.6" r="1.7"/><circle cx="93.3" cy="604.4" r="1.6"/><circle cx="93.2" cy="606.9" r="1.8"/><circle cx="98" cy="598.6" r="1.4"/><circle cx="85" cy="609.8" r="1.7"/><circle cx="99.2" cy="602.2" r="1.7"/><circle cx="103" cy="603.7" r="2"/><circle cx="108.4" cy="603.6" r="1.6"/><circle cx="87.3" cy="601.9" r="1.8"/><circle cx="86.5" cy="601.4" r="1.6"/><circle cx="91.1" cy="609.3" r="1.8"/><circle cx="87.4" cy="604.3" r="1.7"/><circle cx="95.8" cy="602.5" r="1.6"/><circle cx="92.1" cy="606.4" r="1.9"/><circle cx="101.9" cy="602.2" r="1.4"/><circle cx="91.4" cy="608.2" r="2"/><circle cx="101.4" cy="603.8" r="1.8"/><circle cx="85.5" cy="605.9" r="1.9"/><circle cx="89.8" cy="602.7" r="1.7"/><circle cx="97.9" cy="601.7" r="1.5"/><circle cx="85.8" cy="607.7" r="2"/><circle cx="84.5" cy="606.3" r="1.6"/><circle cx="81.4" cy="607.9" r="1.7"/><circle cx="97.1" cy="601.7" r="1.4"/><circle cx="90.1" cy="606.1" r="2"/></g>
<g fill="#902838" stroke="#742030" stroke-width="0.3"><circle cx="80.1" cy="604.4" r="1.4"/><circle cx="97.7" cy="603" r="1.6"/><circle cx="109.1" cy="601.1" r="1.4"/><circle cx="85.9" cy="605.1" r="1.4"/><circle cx="106" cy="603.7" r="1.4"/><circle cx="88.2" cy="609.1" r="1.5"/><circle cx="94.5" cy="609.8" r="1.6"/><circle cx="97.2" cy="599.1" r="1.7"/><circle cx="84.9" cy="610.1" r="1.7"/><circle cx="98.8" cy="608" r="1.5"/><circle cx="84.4" cy="608.7" r="1.9"/><circle cx="91.6" cy="607.8" r="1.7"/><circle cx="104.2" cy="601.1" r="1.7"/></g>
<g fill="#d87080" stroke="#742030" stroke-width="0.3"><circle cx="93.2" cy="609.2" r="1.5"/><circle cx="103.1" cy="604.2" r="1.6"/><circle cx="94.2" cy="604" r="1.6"/><circle cx="107.6" cy="602.5" r="1.6"/><circle cx="98.9" cy="605.7" r="1.9"/><circle cx="89.8" cy="601.6" r="1.9"/><circle cx="97.3" cy="606.5" r="1.4"/><circle cx="107.6" cy="604.6" r="1.6"/><circle cx="92.6" cy="609.5" r="1.4"/><circle cx="88.4" cy="609.1" r="1.6"/><circle cx="100.9" cy="600" r="1.8"/><circle cx="86.6" cy="601.8" r="1.8"/><circle cx="100.5" cy="599.3" r="1.8"/><circle cx="98.3" cy="605.3" r="1.4"/><circle cx="108.7" cy="600.6" r="1.9"/></g>
<g fill="#b03848" stroke="#742030" stroke-width="0.3"><circle cx="83.6" cy="605.4" r="1.6"/><circle cx="94" cy="604" r="1.7"/><circle cx="87.9" cy="606.7" r="1.5"/><circle cx="93.4" cy="607.7" r="1.8"/><circle cx="98.5" cy="601.7" r="1.8"/><circle cx="103.8" cy="603.3" r="1.9"/><circle cx="97.4" cy="603.1" r="1.6"/><circle cx="96.5" cy="609.2" r="1.6"/><circle cx="100.9" cy="605.9" r="1.8"/><circle cx="107.9" cy="600.4" r="1.8"/><circle cx="92.3" cy="609.8" r="1.9"/><circle cx="106.2" cy="600.3" r="1.9"/><circle cx="89.7" cy="609.8" r="1.8"/><circle cx="98.1" cy="605.6" r="1.7"/></g></g>
<g transform="matrix(0.9764 0 0 0.8176 3.11 109.11)"><path d="M107.0 601.0C107.0 599.9 109.5 598.8 112.0 598.0C114.5 597.2 118.7 596.7 122.0 596.5C125.3 596.3 129.2 596.6 132.0 597.0C134.8 597.4 138.0 598.0 139.0 599.0C140.0 600.0 140.2 602.1 138.0 603.0C135.8 603.9 130.3 604.2 126.0 604.5C121.7 604.8 115.2 605.1 112.0 604.5C108.8 603.9 107.0 602.1 107.0 601.0Z" fill="#d0a868"/>
<g fill="#dcb070"><circle cx="111.5" cy="600.8" r="1.9"/><circle cx="126.9" cy="603.2" r="1.5"/><circle cx="128" cy="599.8" r="1.8"/><circle cx="108" cy="601" r="1.6"/><circle cx="134.1" cy="599.6" r="2"/><circle cx="138.2" cy="601.2" r="2"/><circle cx="113.7" cy="599.7" r="1.9"/><circle cx="126.5" cy="603.1" r="1.7"/><circle cx="135.2" cy="601.3" r="1.7"/><circle cx="114.3" cy="601" r="1.9"/><circle cx="116" cy="603.8" r="1.6"/><circle cx="109.2" cy="599.8" r="1.6"/><circle cx="122.4" cy="602.3" r="1.7"/></g>
<g fill="#d0a060"><circle cx="126.1" cy="599.7" r="1.7"/><circle cx="117.4" cy="601.2" r="1.6"/><circle cx="138.4" cy="599.7" r="1.5"/><circle cx="121.9" cy="600.4" r="1.8"/><circle cx="121.3" cy="598" r="1.9"/><circle cx="120.4" cy="599.6" r="1.7"/><circle cx="133.6" cy="597.6" r="1.7"/><circle cx="116.9" cy="598.3" r="1.8"/><circle cx="123.6" cy="603.9" r="2"/><circle cx="112.6" cy="599.5" r="1.8"/><circle cx="121.4" cy="599.1" r="1.9"/><circle cx="109.4" cy="600.9" r="1.9"/></g>
<g fill="#e8c488"><circle cx="127.2" cy="602.8" r="1.5"/><circle cx="129.6" cy="599" r="1.6"/><circle cx="131.9" cy="598.7" r="1.5"/><circle cx="109.9" cy="601.2" r="1.6"/><circle cx="115.2" cy="603.1" r="1.8"/><circle cx="125.9" cy="603.9" r="1.7"/></g>
<g fill="#c89858"><circle cx="121.5" cy="601" r="2"/><circle cx="121.5" cy="603.3" r="1.6"/><circle cx="113.1" cy="598.4" r="1.5"/><circle cx="127.5" cy="600.5" r="1.8"/><circle cx="113.8" cy="603.9" r="1.5"/><circle cx="118.9" cy="600.1" r="2"/><circle cx="112.1" cy="601.5" r="1.8"/><circle cx="110.5" cy="600.6" r="1.6"/><circle cx="118.3" cy="602" r="2"/></g></g>
<g transform="matrix(0.9764 0 0 0.8622 4.13 84.16)"><path d="M135.0 603.0C135.7 601.2 138.7 600.5 142.0 600.0C145.3 599.5 151.0 599.3 155.0 600.0C159.0 600.7 163.0 602.3 166.0 604.0C169.0 605.7 171.4 608.0 173.0 610.0C174.6 612.0 175.9 614.5 175.4 616.0C174.9 617.5 172.9 618.3 170.0 619.0C167.1 619.7 162.0 620.3 158.0 620.0C154.0 619.7 149.3 618.5 146.0 617.0C142.7 615.5 139.8 613.3 138.0 611.0C136.2 608.7 134.3 604.8 135.0 603.0Z" fill="#b07868"/>
<g fill="#a05040" stroke="#8a5040" stroke-width="0.25"><circle cx="162.8" cy="606.7" r="1.6"/><circle cx="159.6" cy="610.8" r="1.8"/><circle cx="142.2" cy="607.6" r="1.9"/><circle cx="164.7" cy="610.4" r="1.4"/><circle cx="163.7" cy="618.1" r="1.9"/><circle cx="159" cy="609.1" r="1.9"/><circle cx="158" cy="606.2" r="1.9"/><circle cx="165.3" cy="617.2" r="1.7"/><circle cx="155.1" cy="604" r="1.5"/><circle cx="157.2" cy="619.3" r="1.6"/><circle cx="137.5" cy="602.2" r="1.5"/><circle cx="139.1" cy="605" r="1.9"/><circle cx="140.1" cy="604.1" r="1.9"/><circle cx="168.9" cy="612.9" r="1.7"/></g>
<g fill="#d8b0a0" stroke="#8a5040" stroke-width="0.25"><circle cx="154.2" cy="613.1" r="1.8"/><circle cx="143.3" cy="612.1" r="1.9"/><circle cx="163.2" cy="617.1" r="1.5"/><circle cx="166.8" cy="616.6" r="1.8"/><circle cx="155.8" cy="613.9" r="1.8"/><circle cx="160.7" cy="608.7" r="1.5"/><circle cx="153.6" cy="617.1" r="1.9"/><circle cx="141.9" cy="609.5" r="1.9"/><circle cx="150.5" cy="608" r="1.9"/><circle cx="166.1" cy="617.2" r="1.6"/><circle cx="165.2" cy="619" r="1.4"/><circle cx="142.6" cy="605.5" r="1.5"/><circle cx="149.5" cy="614.3" r="1.9"/><circle cx="153.3" cy="610.6" r="1.5"/><circle cx="150.3" cy="609.8" r="1.8"/><circle cx="172.6" cy="610.6" r="1.6"/></g>
<g fill="#f0e0d8" stroke="#8a5040" stroke-width="0.25"><circle cx="150.6" cy="606.2" r="1.6"/><circle cx="142.2" cy="613.9" r="1.4"/><circle cx="143.9" cy="612.1" r="2"/><circle cx="155.3" cy="605" r="1.5"/><circle cx="166.7" cy="610" r="1.7"/><circle cx="166.9" cy="611.6" r="1.6"/><circle cx="167" cy="614.2" r="1.5"/><circle cx="150.9" cy="604.9" r="1.6"/><circle cx="148" cy="610" r="1.6"/><circle cx="145.2" cy="600.9" r="1.9"/><circle cx="166.9" cy="616.7" r="1.5"/><circle cx="168.2" cy="607.2" r="1.8"/><circle cx="167.7" cy="618.5" r="2"/><circle cx="165.6" cy="608.5" r="1.7"/><circle cx="167.3" cy="607.8" r="1.8"/><circle cx="165.9" cy="618.7" r="1.6"/><circle cx="139.9" cy="609.7" r="1.5"/><circle cx="154.5" cy="614.6" r="1.9"/><circle cx="160.7" cy="612.4" r="1.4"/><circle cx="161.9" cy="608.8" r="1.6"/><circle cx="158.3" cy="607.6" r="1.6"/><circle cx="151.2" cy="604.1" r="1.6"/><circle cx="159.9" cy="617.2" r="1.5"/><circle cx="162.2" cy="603.4" r="1.7"/><circle cx="161.8" cy="612.3" r="1.8"/><circle cx="140.9" cy="604.6" r="1.9"/></g>
<g fill="#804030" stroke="#8a5040" stroke-width="0.25"><circle cx="144.2" cy="600" r="1.8"/><circle cx="172" cy="610.2" r="1.5"/><circle cx="151.2" cy="608.4" r="1.8"/><circle cx="156" cy="604.4" r="1.7"/><circle cx="153.6" cy="604.2" r="1.6"/><circle cx="170.8" cy="608.4" r="1.5"/><circle cx="165.7" cy="608.4" r="1.8"/><circle cx="171.8" cy="610.7" r="1.9"/><circle cx="149.6" cy="605.6" r="1.5"/><circle cx="161.6" cy="606.8" r="1.9"/><circle cx="146.9" cy="607.1" r="1.9"/><circle cx="149.8" cy="602.1" r="1.9"/><circle cx="158.7" cy="616.1" r="1.8"/><circle cx="148.7" cy="607.6" r="1.9"/><circle cx="158.8" cy="609.6" r="2"/><circle cx="140.4" cy="609.7" r="1.7"/><circle cx="166.9" cy="607.8" r="2"/><circle cx="152" cy="606.3" r="1.6"/><circle cx="167" cy="605.2" r="1.7"/></g>
<g fill="#c08070" stroke="#8a5040" stroke-width="0.25"><circle cx="154.5" cy="612.9" r="1.7"/><circle cx="149.9" cy="606.8" r="1.5"/><circle cx="152.1" cy="602.7" r="1.6"/><circle cx="157.5" cy="619.5" r="1.9"/><circle cx="149.7" cy="610.2" r="1.9"/><circle cx="155.1" cy="612" r="1.8"/><circle cx="172.7" cy="613.8" r="1.7"/><circle cx="148.4" cy="610" r="1.6"/><circle cx="151.5" cy="614" r="1.9"/><circle cx="162.2" cy="613.3" r="2"/><circle cx="151.5" cy="612.5" r="1.6"/><circle cx="159.6" cy="615.7" r="1.6"/><circle cx="150.6" cy="612.2" r="1.5"/><circle cx="154.9" cy="607.3" r="1.5"/><circle cx="173.1" cy="612" r="1.4"/><circle cx="148.4" cy="613.2" r="1.6"/><circle cx="148.3" cy="610.7" r="1.9"/></g>
<g fill="#e8c8bc" stroke="#8a5040" stroke-width="0.25"><circle cx="161.8" cy="607.1" r="1.6"/><circle cx="153.8" cy="611" r="1.5"/><circle cx="154.1" cy="601.2" r="1.7"/><circle cx="160.8" cy="607.7" r="1.5"/><circle cx="159.7" cy="604.2" r="1.8"/><circle cx="138.3" cy="606.6" r="1.8"/><circle cx="147.6" cy="613.9" r="1.9"/><circle cx="154.7" cy="608.9" r="1.5"/><circle cx="147" cy="610.3" r="1.5"/><circle cx="148" cy="602.5" r="1.8"/><circle cx="156.1" cy="601.1" r="1.9"/><circle cx="135.5" cy="603.4" r="1.5"/><circle cx="161.3" cy="616" r="1.7"/><circle cx="168.8" cy="618.7" r="1.4"/><circle cx="162.7" cy="612.3" r="2"/><circle cx="151.9" cy="602" r="1.8"/><circle cx="158.8" cy="615.7" r="1.7"/><circle cx="151.1" cy="602.7" r="1.4"/></g></g>
<g transform="matrix(1.0007 0 0 0.9988 0.88 0.61)"><path d="M113.0 613.0C113.7 610.8 116.2 608.6 118.0 607.0C119.8 605.4 121.6 603.5 123.6 603.2C125.6 602.9 127.3 603.9 130.0 605.0C132.7 606.1 137.2 608.2 140.0 610.0C142.8 611.8 145.2 614.2 147.0 616.0C148.8 617.8 149.7 619.5 151.0 621.0C152.3 622.5 155.5 624.1 155.0 625.0C154.5 625.9 151.3 626.3 148.0 626.5C144.7 626.7 139.7 626.4 135.0 626.0C130.3 625.6 123.5 625.0 120.0 624.0C116.5 623.0 115.2 621.8 114.0 620.0C112.8 618.2 112.3 615.2 113.0 613.0Z" fill="#dcd060"/>
<g fill="#e4d868"><circle cx="131.1" cy="617.9" r="0.9"/><circle cx="123" cy="614.8" r="1.1"/><circle cx="125.7" cy="609.5" r="1"/><circle cx="114.6" cy="612.5" r="0.8"/><circle cx="135.2" cy="625.4" r="0.8"/><circle cx="138.3" cy="610" r="0.9"/><circle cx="114.8" cy="615.7" r="0.8"/><circle cx="124.2" cy="621.5" r="0.9"/><circle cx="133.2" cy="614.9" r="0.8"/><circle cx="131" cy="620.7" r="0.9"/><circle cx="131.1" cy="616.3" r="0.8"/><circle cx="129.2" cy="608.1" r="0.8"/><circle cx="117.1" cy="618.4" r="0.8"/><circle cx="125.8" cy="605.6" r="0.9"/><circle cx="133.1" cy="614.3" r="1.1"/><circle cx="128.2" cy="620.7" r="1"/><circle cx="121.8" cy="606.8" r="1.1"/><circle cx="132" cy="606.5" r="1"/><circle cx="142.9" cy="614.6" r="0.9"/><circle cx="126" cy="613.7" r="1"/><circle cx="142.9" cy="622" r="0.9"/><circle cx="138.4" cy="624.4" r="1"/><circle cx="133.4" cy="616.5" r="1"/><circle cx="121.1" cy="616.7" r="0.9"/><circle cx="116.3" cy="613.7" r="0.9"/><circle cx="125.6" cy="620" r="0.9"/><circle cx="115.8" cy="620.2" r="0.9"/><circle cx="130.8" cy="618.3" r="1.1"/><circle cx="133.2" cy="608.9" r="0.8"/><circle cx="129.7" cy="607.6" r="1"/><circle cx="135.9" cy="615.6" r="1.1"/><circle cx="149.5" cy="621.2" r="1"/><circle cx="146.3" cy="622.9" r="0.8"/><circle cx="137.5" cy="624.1" r="1"/><circle cx="128.8" cy="610.7" r="1"/><circle cx="133.2" cy="615" r="1.1"/><circle cx="143.9" cy="618.8" r="1"/><circle cx="117.2" cy="612.3" r="1.1"/><circle cx="126.7" cy="605" r="0.9"/><circle cx="132.7" cy="625.3" r="1"/><circle cx="134.1" cy="612.3" r="0.9"/><circle cx="120.4" cy="615.6" r="0.9"/><circle cx="135" cy="619.5" r="1.1"/><circle cx="135.3" cy="624.4" r="1.1"/><circle cx="119.1" cy="619" r="1.1"/><circle cx="133.9" cy="625.4" r="1.1"/><circle cx="118.5" cy="613.6" r="1"/></g>
<g fill="#d4c850"><circle cx="123.9" cy="619.2" r="1"/><circle cx="140.4" cy="618.7" r="1.1"/><circle cx="133.6" cy="608.7" r="0.9"/><circle cx="143.2" cy="624.9" r="0.8"/><circle cx="121.5" cy="623.1" r="0.9"/><circle cx="147.7" cy="618.2" r="1"/><circle cx="119.1" cy="613.1" r="1"/><circle cx="123.9" cy="616.9" r="0.9"/><circle cx="126.6" cy="624" r="1"/><circle cx="150.9" cy="624" r="1.1"/><circle cx="135.1" cy="615.6" r="0.9"/><circle cx="132.5" cy="621.1" r="1"/><circle cx="114.1" cy="615.6" r="1"/><circle cx="131.9" cy="620.9" r="0.9"/><circle cx="138.5" cy="615.4" r="1.1"/><circle cx="120.5" cy="605.6" r="1"/><circle cx="124.8" cy="612" r="0.8"/><circle cx="142.4" cy="621.8" r="1.1"/><circle cx="143" cy="612.9" r="0.9"/><circle cx="129.8" cy="617.5" r="0.9"/><circle cx="114.1" cy="619.6" r="1"/><circle cx="143.7" cy="614.8" r="1.1"/><circle cx="119.5" cy="622.4" r="1.1"/><circle cx="136.7" cy="610.1" r="1"/><circle cx="141" cy="614.7" r="1"/><circle cx="115.7" cy="617.1" r="0.9"/><circle cx="139.4" cy="618" r="0.9"/><circle cx="121.8" cy="611.1" r="0.8"/><circle cx="144.5" cy="621.1" r="1"/><circle cx="147.1" cy="623.2" r="0.8"/><circle cx="129.6" cy="614.6" r="1"/><circle cx="124.4" cy="619.4" r="0.8"/><circle cx="126.2" cy="605.2" r="0.8"/><circle cx="130.4" cy="607.2" r="0.9"/><circle cx="129.1" cy="608.5" r="0.9"/><circle cx="132.9" cy="617" r="1"/><circle cx="123.7" cy="613" r="1"/><circle cx="138.9" cy="624.6" r="1"/><circle cx="122.2" cy="614.1" r="1"/><circle cx="140.2" cy="613.7" r="0.9"/><circle cx="136.5" cy="623.9" r="0.9"/><circle cx="123.5" cy="618.9" r="0.8"/><circle cx="115" cy="611.4" r="1.1"/><circle cx="119.3" cy="618.3" r="1"/></g>
<g fill="#ece080"><circle cx="118.5" cy="615.6" r="0.9"/><circle cx="116.6" cy="621.7" r="1.1"/><circle cx="147.7" cy="620.6" r="1.1"/><circle cx="131.5" cy="620.2" r="1"/><circle cx="133.9" cy="619.5" r="0.9"/><circle cx="119.7" cy="612.8" r="1.1"/><circle cx="134.7" cy="614.2" r="1"/><circle cx="133.2" cy="616.1" r="0.9"/><circle cx="117.7" cy="622.4" r="0.9"/><circle cx="129.7" cy="606.7" r="1"/><circle cx="114.3" cy="620.1" r="0.8"/><circle cx="139.1" cy="622.6" r="1"/><circle cx="152.1" cy="622.2" r="1"/><circle cx="143.3" cy="618.7" r="1"/><circle cx="138.6" cy="615.1" r="1"/><circle cx="133.2" cy="624" r="0.8"/><circle cx="122.1" cy="606.6" r="0.9"/><circle cx="127.6" cy="613.2" r="0.9"/><circle cx="143.2" cy="614" r="0.9"/><circle cx="140.8" cy="624.6" r="0.8"/><circle cx="123.1" cy="613.5" r="1"/><circle cx="132.6" cy="619.9" r="1.1"/><circle cx="116.1" cy="616.8" r="1"/><circle cx="125.8" cy="618.1" r="1"/><circle cx="130.5" cy="612.4" r="1"/><circle cx="127" cy="607.1" r="0.8"/><circle cx="127.8" cy="622.5" r="1"/><circle cx="124.5" cy="607.4" r="1"/><circle cx="144.7" cy="623.4" r="1.1"/><circle cx="127.8" cy="612.9" r="0.8"/><circle cx="135.2" cy="612.9" r="0.9"/><circle cx="130.8" cy="622" r="1.1"/><circle cx="150.8" cy="624.5" r="1"/><circle cx="120.7" cy="607.5" r="0.8"/><circle cx="116.5" cy="617.7" r="1"/><circle cx="140.1" cy="619.6" r="1.1"/><circle cx="124.4" cy="605.8" r="0.9"/><circle cx="126.9" cy="619.4" r="0.9"/><circle cx="150.3" cy="620.2" r="1.1"/><circle cx="134.1" cy="616.3" r="0.9"/><circle cx="124" cy="617.6" r="0.9"/><circle cx="123.6" cy="611.8" r="0.9"/><circle cx="141.3" cy="624.8" r="1"/></g>
<g fill="#ccc048"><circle cx="136.7" cy="613.2" r="0.9"/><circle cx="121.5" cy="615.4" r="0.9"/><circle cx="136.4" cy="615.9" r="0.8"/><circle cx="137.9" cy="613.2" r="1"/><circle cx="128.2" cy="613.5" r="1.1"/><circle cx="123" cy="622.5" r="0.9"/><circle cx="117" cy="612.7" r="0.9"/><circle cx="148.7" cy="623.1" r="0.9"/><circle cx="137.7" cy="610.4" r="1.1"/><circle cx="137" cy="620.1" r="0.8"/><circle cx="141.7" cy="611.9" r="0.8"/><circle cx="119.7" cy="607.5" r="0.8"/><circle cx="136.7" cy="623.8" r="1"/><circle cx="145.7" cy="620.7" r="0.8"/><circle cx="146.5" cy="622.3" r="0.9"/><circle cx="119.2" cy="606.9" r="0.9"/><circle cx="129.7" cy="612.4" r="1.1"/><circle cx="123.1" cy="613.3" r="0.9"/><circle cx="114.8" cy="611.3" r="1"/><circle cx="131.1" cy="616.4" r="0.8"/><circle cx="122.3" cy="618.6" r="0.9"/><circle cx="113.7" cy="615.4" r="1"/><circle cx="129.9" cy="623.6" r="0.8"/><circle cx="131.9" cy="621.9" r="0.9"/><circle cx="146.3" cy="619.5" r="1"/><circle cx="136.2" cy="625.6" r="0.8"/><circle cx="144.3" cy="618.8" r="1"/><circle cx="126.8" cy="621.8" r="1"/><circle cx="113" cy="613.1" r="1"/><circle cx="116.3" cy="610.8" r="0.9"/><circle cx="120.5" cy="610.1" r="1"/><circle cx="129.3" cy="606.9" r="1"/><circle cx="133.1" cy="607.3" r="0.9"/><circle cx="135.7" cy="613.3" r="0.8"/><circle cx="125.4" cy="618.1" r="0.9"/><circle cx="145.4" cy="622.7" r="1"/><circle cx="149.6" cy="624.5" r="0.8"/><circle cx="146.9" cy="619.1" r="1.1"/><circle cx="126.8" cy="615.3" r="0.9"/><circle cx="128.3" cy="608.1" r="1"/><circle cx="134.5" cy="618.5" r="0.8"/><circle cx="135.2" cy="608" r="0.9"/><circle cx="122.8" cy="604.2" r="1.1"/><circle cx="125" cy="605.9" r="0.9"/><circle cx="135.5" cy="624.5" r="1.1"/></g>
<g fill="#e0d460"><circle cx="127.9" cy="608.7" r="1.1"/><circle cx="139.8" cy="618.5" r="0.9"/><circle cx="146.5" cy="626.2" r="1"/><circle cx="124" cy="609.7" r="1.1"/><circle cx="137.4" cy="617" r="0.9"/><circle cx="127.3" cy="610.1" r="0.8"/><circle cx="117.7" cy="608.5" r="0.8"/><circle cx="126.4" cy="606.8" r="1"/><circle cx="121.2" cy="612.4" r="0.8"/><circle cx="118.8" cy="615.6" r="1"/><circle cx="130.2" cy="606.8" r="1"/><circle cx="125.5" cy="617.6" r="1"/><circle cx="129" cy="622.2" r="0.9"/><circle cx="144.5" cy="618.5" r="1.1"/><circle cx="117.7" cy="611.3" r="0.8"/><circle cx="125.8" cy="610.1" r="0.9"/><circle cx="138.2" cy="621.1" r="0.9"/><circle cx="125.1" cy="616.1" r="0.9"/><circle cx="137.6" cy="613.6" r="1.1"/><circle cx="145.1" cy="621.2" r="1.1"/><circle cx="145.1" cy="623.2" r="1.1"/><circle cx="141.7" cy="613.1" r="0.8"/><circle cx="128" cy="624" r="1"/><circle cx="129.3" cy="605" r="1"/><circle cx="127.9" cy="616.7" r="0.9"/><circle cx="131.7" cy="610" r="1.1"/><circle cx="126.1" cy="608" r="0.8"/><circle cx="127.5" cy="617.5" r="0.9"/><circle cx="133.4" cy="621.4" r="1.1"/><circle cx="124.3" cy="607" r="0.9"/><circle cx="118.6" cy="615.6" r="1.1"/><circle cx="122.2" cy="607.1" r="0.9"/><circle cx="127.2" cy="605.6" r="1"/><circle cx="142.8" cy="613.7" r="0.9"/><circle cx="131" cy="609.3" r="1"/><circle cx="128.7" cy="619.6" r="1.1"/><circle cx="127.3" cy="617.8" r="0.8"/><circle cx="125.9" cy="611" r="0.8"/><circle cx="124.4" cy="616.9" r="1.1"/><circle cx="122.1" cy="616.1" r="0.9"/><circle cx="145.1" cy="618.7" r="1"/></g></g>
<g transform="matrix(0.9221 0 0 0.8418 5.07 98.41)"><path d="M60.0 626.0C60.2 624.2 61.3 621.2 63.0 619.0C64.7 616.8 67.2 614.5 70.0 613.0C72.8 611.5 75.8 610.6 80.0 610.0C84.2 609.4 90.3 609.5 95.0 609.5C99.7 609.5 104.3 609.4 108.0 610.0C111.7 610.6 115.0 611.5 117.0 613.0C119.0 614.5 120.0 616.8 120.0 619.0C120.0 621.2 119.0 624.0 117.0 626.0C115.0 628.0 111.7 629.5 108.0 631.0C104.3 632.5 99.7 634.2 95.0 635.0C90.3 635.8 84.5 636.2 80.0 636.0C75.5 635.8 71.0 635.0 68.0 634.0C65.0 633.0 63.3 631.3 62.0 630.0C60.7 628.7 59.8 627.8 60.0 626.0Z" fill="#5e6e24"/>
<g fill="#8a9a38" stroke="#4e5e1c" stroke-width="0.3"><circle cx="78.2" cy="627.6" r="1.6"/><circle cx="93.1" cy="627.1" r="1.5"/><circle cx="113.8" cy="612" r="1.7"/><circle cx="94.7" cy="626.4" r="1.6"/><circle cx="104.4" cy="612.5" r="1.7"/><circle cx="91.3" cy="630.8" r="1.9"/><circle cx="65.4" cy="630.9" r="1.5"/><circle cx="67.5" cy="633.3" r="1.4"/><circle cx="91.4" cy="631.6" r="1.6"/><circle cx="109.7" cy="614.7" r="1.8"/><circle cx="87.6" cy="633.3" r="1.4"/><circle cx="80" cy="623.7" r="1.9"/><circle cx="88.5" cy="617.6" r="1.4"/><circle cx="82.1" cy="634.9" r="1.5"/><circle cx="70.3" cy="614.8" r="1.8"/><circle cx="109.8" cy="611.6" r="1.8"/><circle cx="112.3" cy="624.9" r="1.5"/><circle cx="62.4" cy="621.5" r="1.4"/><circle cx="108.3" cy="615.2" r="1.7"/><circle cx="72.8" cy="616.2" r="1.5"/><circle cx="71.8" cy="627.3" r="1.8"/><circle cx="73.8" cy="631" r="1.8"/><circle cx="116.8" cy="621.5" r="1.5"/><circle cx="92.5" cy="631.7" r="1.4"/><circle cx="94.2" cy="632.1" r="1.4"/><circle cx="71.1" cy="612.9" r="1.9"/><circle cx="99.8" cy="615.7" r="1.9"/><circle cx="95.7" cy="632.5" r="1.5"/><circle cx="79.5" cy="623" r="1.5"/><circle cx="92.5" cy="610.1" r="1.8"/><circle cx="78" cy="632.6" r="1.8"/><circle cx="109.9" cy="618" r="1.8"/><circle cx="84.1" cy="619.8" r="1.6"/><circle cx="66.1" cy="624" r="1.6"/><circle cx="93.4" cy="621.4" r="1.5"/><circle cx="94.7" cy="631.7" r="1.8"/><circle cx="91.1" cy="627" r="1.7"/><circle cx="71.4" cy="620" r="1.7"/><circle cx="71.8" cy="619.4" r="1.8"/><circle cx="107.8" cy="630" r="1.4"/><circle cx="75.7" cy="613.5" r="1.5"/><circle cx="79.4" cy="615.7" r="1.5"/><circle cx="91.1" cy="629.2" r="1.6"/><circle cx="94.5" cy="624" r="1.8"/><circle cx="81.7" cy="615.9" r="1.9"/><circle cx="64.9" cy="622.2" r="1.8"/><circle cx="115.2" cy="612.7" r="1.6"/><circle cx="104.3" cy="623.6" r="1.7"/><circle cx="66.5" cy="619.3" r="1.7"/><circle cx="65.3" cy="630.8" r="1.7"/><circle cx="90.2" cy="622.6" r="1.9"/><circle cx="105.2" cy="630.2" r="1.5"/><circle cx="98.5" cy="629.5" r="1.6"/><circle cx="70.2" cy="631.3" r="1.9"/><circle cx="99.7" cy="617.5" r="1.5"/><circle cx="76.7" cy="618.5" r="1.8"/><circle cx="107.9" cy="616.2" r="1.7"/><circle cx="64.6" cy="616.1" r="1.7"/><circle cx="105.6" cy="631.9" r="1.6"/><circle cx="86.5" cy="609.1" r="1.7"/><circle cx="122.7" cy="618" r="1.8"/><circle cx="90.5" cy="608.6" r="1.5"/></g>
<g fill="#7a8a30" stroke="#4e5e1c" stroke-width="0.3"><circle cx="66.4" cy="628.1" r="1.7"/><circle cx="81.6" cy="626.3" r="1.7"/><circle cx="67.4" cy="618.4" r="1.4"/><circle cx="107.2" cy="613.7" r="1.7"/><circle cx="75.4" cy="619.3" r="1.6"/><circle cx="86.7" cy="611.9" r="1.8"/><circle cx="102.2" cy="614.4" r="1.6"/><circle cx="108.6" cy="628.2" r="1.7"/><circle cx="67.3" cy="622.9" r="1.8"/><circle cx="92.5" cy="628" r="1.6"/><circle cx="75.3" cy="623.1" r="1.4"/><circle cx="114" cy="624.3" r="1.5"/><circle cx="68.3" cy="626.5" r="1.8"/><circle cx="71.5" cy="625.3" r="1.8"/><circle cx="66.2" cy="618.1" r="1.4"/><circle cx="109.9" cy="629.9" r="1.6"/><circle cx="84.9" cy="632.8" r="1.7"/><circle cx="64.9" cy="619.8" r="1.6"/><circle cx="62.3" cy="623.6" r="1.8"/><circle cx="94.4" cy="618.2" r="1.5"/><circle cx="108.6" cy="623.8" r="1.6"/><circle cx="98.7" cy="615.5" r="1.8"/><circle cx="76.8" cy="617.9" r="1.7"/><circle cx="65.1" cy="625.3" r="1.8"/><circle cx="73.1" cy="634.5" r="1.4"/><circle cx="109" cy="624.1" r="1.6"/><circle cx="86.9" cy="612.6" r="1.4"/><circle cx="89.4" cy="626.6" r="1.8"/><circle cx="99.4" cy="610.7" r="1.8"/><circle cx="70.5" cy="617" r="1.9"/><circle cx="79" cy="633.8" r="1.9"/><circle cx="91.8" cy="631.4" r="1.8"/><circle cx="80.7" cy="635.7" r="1.4"/><circle cx="80.7" cy="618.2" r="1.9"/><circle cx="61.1" cy="627.1" r="1.6"/><circle cx="87.9" cy="632.6" r="1.6"/><circle cx="87.5" cy="632.3" r="1.7"/><circle cx="95.3" cy="613.2" r="1.7"/><circle cx="77.6" cy="622.1" r="1.5"/><circle cx="99" cy="615.6" r="1.5"/><circle cx="64" cy="629.1" r="1.7"/><circle cx="104" cy="628.1" r="1.5"/><circle cx="90.2" cy="627.3" r="1.5"/><circle cx="75.2" cy="620" r="1.5"/><circle cx="120.8" cy="615.7" r="1.5"/><circle cx="105.5" cy="609.6" r="1.4"/></g>
<g fill="#9aa844" stroke="#4e5e1c" stroke-width="0.3"><circle cx="75.8" cy="632.6" r="1.6"/><circle cx="104.8" cy="622.4" r="1.7"/><circle cx="75.3" cy="612.7" r="1.9"/><circle cx="71.3" cy="626.2" r="1.6"/><circle cx="71.9" cy="615.6" r="1.8"/><circle cx="70.9" cy="615" r="1.7"/><circle cx="61.9" cy="626.5" r="1.6"/><circle cx="68.8" cy="627.2" r="1.5"/><circle cx="76" cy="622" r="1.9"/><circle cx="98.7" cy="614" r="1.4"/><circle cx="107.1" cy="622.6" r="1.7"/><circle cx="83.9" cy="621.3" r="1.6"/><circle cx="83.1" cy="625.5" r="1.6"/><circle cx="70.5" cy="626.4" r="1.5"/><circle cx="91.3" cy="627.6" r="1.6"/><circle cx="88.6" cy="625.5" r="1.6"/><circle cx="74.8" cy="632.4" r="1.7"/><circle cx="85.9" cy="609.9" r="1.6"/><circle cx="90.7" cy="629.1" r="1.9"/><circle cx="63.9" cy="627.2" r="1.9"/><circle cx="87.3" cy="635.3" r="1.8"/><circle cx="92.1" cy="614.9" r="1.7"/><circle cx="90.7" cy="630.2" r="1.9"/><circle cx="93" cy="631.2" r="1.7"/><circle cx="89.7" cy="613.5" r="1.5"/><circle cx="116.1" cy="622.9" r="1.9"/><circle cx="118.3" cy="618.1" r="1.6"/><circle cx="88.4" cy="629.3" r="1.6"/><circle cx="72.6" cy="612.9" r="1.8"/><circle cx="73.4" cy="620.3" r="1.8"/><circle cx="90.7" cy="630.3" r="1.6"/><circle cx="107.6" cy="623.4" r="1.6"/><circle cx="85.5" cy="624" r="1.4"/><circle cx="83.4" cy="612.6" r="1.6"/><circle cx="115.2" cy="618.6" r="1.9"/><circle cx="113.8" cy="621.4" r="1.9"/><circle cx="70" cy="625.4" r="1.6"/><circle cx="69.7" cy="633.2" r="1.5"/><circle cx="86.1" cy="617.3" r="1.5"/><circle cx="67.6" cy="628.3" r="1.5"/><circle cx="66.3" cy="631.2" r="1.9"/><circle cx="91.1" cy="610.1" r="1.9"/><circle cx="103.9" cy="619.8" r="1.8"/><circle cx="68.6" cy="618.5" r="1.4"/><circle cx="79.2" cy="627.9" r="1.8"/><circle cx="105.4" cy="623.7" r="1.5"/><circle cx="90.2" cy="616.6" r="1.6"/><circle cx="120.8" cy="622" r="1.7"/></g>
<g fill="#6a7a28" stroke="#4e5e1c" stroke-width="0.3"><circle cx="76.3" cy="616.3" r="1.8"/><circle cx="111.2" cy="619.6" r="1.7"/><circle cx="85.5" cy="635.3" r="1.5"/><circle cx="109.6" cy="616.3" r="1.6"/><circle cx="102.2" cy="624.6" r="1.4"/><circle cx="101.5" cy="613.2" r="1.5"/><circle cx="109.4" cy="628.1" r="1.7"/><circle cx="113.2" cy="613.5" r="1.8"/><circle cx="83.1" cy="625.4" r="1.5"/><circle cx="108.7" cy="625.5" r="1.5"/><circle cx="95.7" cy="612.5" r="1.8"/><circle cx="82.6" cy="623.6" r="1.5"/><circle cx="85.6" cy="614.2" r="1.9"/><circle cx="97.6" cy="622.3" r="1.5"/><circle cx="115.3" cy="622.6" r="1.6"/><circle cx="69.7" cy="614.5" r="1.5"/><circle cx="116.2" cy="619.8" r="1.6"/><circle cx="88.9" cy="634.7" r="1.9"/><circle cx="89.6" cy="628.7" r="1.8"/><circle cx="80.1" cy="625.6" r="1.6"/><circle cx="77" cy="616.7" r="1.9"/><circle cx="105.7" cy="625.5" r="1.6"/><circle cx="98.2" cy="612.4" r="1.8"/><circle cx="75.4" cy="622.2" r="1.4"/><circle cx="117.7" cy="616.7" r="1.5"/><circle cx="96.6" cy="617.8" r="1.6"/><circle cx="76.6" cy="616.5" r="1.8"/><circle cx="70.8" cy="628.8" r="1.5"/><circle cx="94.5" cy="627.8" r="1.5"/><circle cx="112.3" cy="612.8" r="1.4"/><circle cx="95.9" cy="628.1" r="1.9"/><circle cx="94.1" cy="610.8" r="1.9"/><circle cx="103.8" cy="612.7" r="1.6"/><circle cx="73.6" cy="629.8" r="1.5"/><circle cx="92.4" cy="630.6" r="1.6"/><circle cx="100.7" cy="613.9" r="1.8"/><circle cx="69.3" cy="622.4" r="1.6"/><circle cx="103.8" cy="631.3" r="1.8"/><circle cx="108.1" cy="627.5" r="1.6"/><circle cx="84" cy="613.7" r="1.6"/><circle cx="88.6" cy="635.6" r="1.8"/></g>
<g fill="#a4b050" stroke="#4e5e1c" stroke-width="0.3"><circle cx="87.2" cy="615.3" r="1.8"/><circle cx="87.3" cy="622.3" r="1.6"/><circle cx="116.6" cy="620.7" r="1.6"/><circle cx="82.1" cy="622" r="1.6"/><circle cx="77.5" cy="629.7" r="1.6"/><circle cx="82" cy="619.7" r="1.9"/><circle cx="93.2" cy="633.6" r="1.6"/><circle cx="63.7" cy="627.5" r="1.9"/><circle cx="76.9" cy="625.2" r="1.7"/><circle cx="82.6" cy="628.5" r="1.5"/><circle cx="74.8" cy="611.9" r="1.8"/><circle cx="72.6" cy="629.9" r="1.9"/><circle cx="73.7" cy="632.4" r="1.8"/><circle cx="63.6" cy="623.9" r="1.7"/><circle cx="68" cy="624.2" r="1.6"/><circle cx="90.6" cy="624.6" r="1.8"/><circle cx="102.9" cy="621.5" r="1.6"/><circle cx="95.7" cy="626.3" r="1.9"/><circle cx="77.2" cy="621.3" r="1.4"/><circle cx="76.9" cy="617.2" r="1.5"/><circle cx="96.2" cy="634.4" r="1.8"/><circle cx="112.8" cy="617.1" r="1.9"/><circle cx="83.4" cy="611.1" r="1.5"/><circle cx="69.5" cy="620.5" r="1.8"/><circle cx="103.8" cy="613.9" r="1.7"/><circle cx="104.7" cy="631.1" r="1.7"/><circle cx="69" cy="630.2" r="1.4"/><circle cx="113.8" cy="616" r="1.8"/><circle cx="74.5" cy="612.1" r="1.9"/><circle cx="73.9" cy="625.9" r="1.8"/><circle cx="104" cy="618.5" r="1.4"/><circle cx="95.4" cy="622.3" r="1.9"/><circle cx="99.8" cy="621.2" r="1.6"/><circle cx="94.4" cy="614.7" r="1.7"/><circle cx="112.4" cy="617.2" r="1.7"/><circle cx="104.1" cy="620" r="1.5"/><circle cx="115.1" cy="621" r="1.7"/><circle cx="72.1" cy="613" r="1.5"/><circle cx="65.1" cy="622" r="1.6"/><circle cx="93.7" cy="609.7" r="1.8"/><circle cx="83.7" cy="635.1" r="1.5"/><circle cx="113.9" cy="622.9" r="1.5"/><circle cx="103.4" cy="635.3" r="1.9"/><circle cx="81" cy="637.1" r="1.5"/><circle cx="74" cy="609.7" r="1.7"/><circle cx="70" cy="635.5" r="1.6"/><circle cx="122.8" cy="617.7" r="1.8"/></g></g>
<ellipse cx="215.2" cy="615.9" rx="1.7" ry="6.3" fill="#d4d4d4"/></svg>
</body></html>
